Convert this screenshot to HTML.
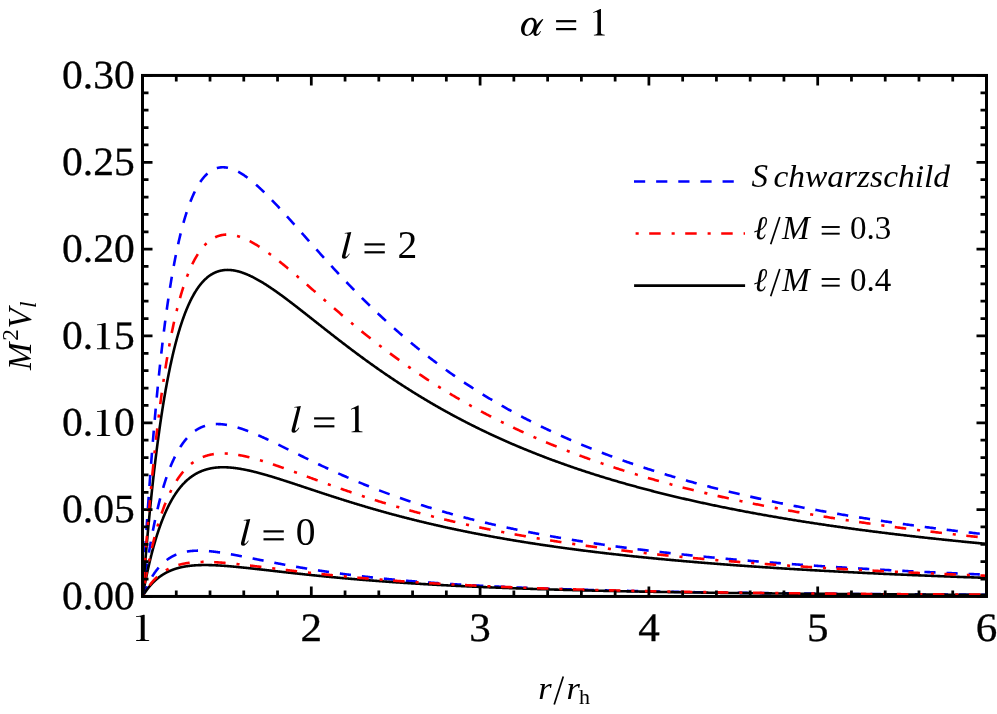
<!DOCTYPE html>
<html><head><meta charset="utf-8"><title>alpha = 1</title>
<style>html,body{margin:0;padding:0;background:#fff;}svg{display:block;}text{font-family:"Liberation Serif",serif;fill:#000;}.t{filter:grayscale(1);}</style></head><body>
<svg width="997" height="714" viewBox="0 0 997 714">
<rect width="997" height="714" fill="#fff"/>
<defs><clipPath id="c"><rect x="142.5" y="75.45" width="844.0" height="521.0"/></clipPath></defs>
<g clip-path="url(#c)" fill="none" stroke-width="2.6" stroke-linejoin="round">
<path d="M142.50,596.45 L142.50,596.45 L142.50,596.45 L142.50,596.45 L142.50,596.44 L142.50,596.44 L142.51,596.44 L142.51,596.43 L142.51,596.42 L142.51,596.42 L142.52,596.41 L142.52,596.40 L142.52,596.39 L142.53,596.38 L142.53,596.36 L142.54,596.35 L142.55,596.33 L142.55,596.32 L142.56,596.30 L142.57,596.28 L142.57,596.26 L142.58,596.24 L142.59,596.22 L142.60,596.19 L142.61,596.17 L142.62,596.14 L142.63,596.11 L142.64,596.08 L142.65,596.05 L142.67,596.02 L142.68,595.99 L142.69,595.95 L142.71,595.92 L142.72,595.88 L142.74,595.84 L142.75,595.80 L142.77,595.76 L142.79,595.72 L142.80,595.68 L142.82,595.63 L142.84,595.59 L142.86,595.54 L142.88,595.49 L142.90,595.44 L142.92,595.39 L142.94,595.33 L142.96,595.28 L142.98,595.22 L143.01,595.16 L143.03,595.10 L143.05,595.04 L143.08,594.98 L143.10,594.92 L143.13,594.85 L143.16,594.79 L143.18,594.72 L143.21,594.65 L143.24,594.58 L143.27,594.51 L143.30,594.44 L143.33,594.36 L143.36,594.29 L143.39,594.21 L143.42,594.13 L143.45,594.05 L143.49,593.97 L143.52,593.89 L143.55,593.81 L143.59,593.72 L143.62,593.63 L143.66,593.55 L143.70,593.46 L143.74,593.36 L143.77,593.27 L143.81,593.18 L143.85,593.08 L143.89,592.99 L143.93,592.89 L143.97,592.79 L144.01,592.69 L144.06,592.59 L144.10,592.49 L144.14,592.38 L144.19,592.28 L144.23,592.17 L144.28,592.06 L144.33,591.95 L144.37,591.84 L144.42,591.73 L144.47,591.62 L144.52,591.50 L144.57,591.39 L144.62,591.27 L144.67,591.15 L144.72,591.03 L144.77,590.91 L144.83,590.79 L144.88,590.66 L144.93,590.54 L144.99,590.41 L145.04,590.29 L145.10,590.16 L145.16,590.03 L145.22,589.90 L145.27,589.77 L145.33,589.63 L145.39,589.50 L145.45,589.36 L145.51,589.23 L145.58,589.09 L145.64,588.95 L145.70,588.81 L145.76,588.67 L145.83,588.53 L145.89,588.39 L145.96,588.24 L146.03,588.10 L146.09,587.95 L146.16,587.81 L146.23,587.66 L146.30,587.51 L146.37,587.36 L146.44,587.21 L146.51,587.06 L146.58,586.90 L146.66,586.75 L146.73,586.60 L146.80,586.44 L146.88,586.28 L146.95,586.13 L147.03,585.97 L147.11,585.81 L147.19,585.65 L147.26,585.49 L147.34,585.32 L147.42,585.16 L147.50,585.00 L147.59,584.83 L147.67,584.67 L147.75,584.50 L147.83,584.34 L147.92,584.17 L148.00,584.00 L148.09,583.83 L148.17,583.66 L148.26,583.49 L148.35,583.32 L148.44,583.15 L148.53,582.98 L148.62,582.80 L148.71,582.63 L148.80,582.46 L148.89,582.28 L148.98,582.11 L149.08,581.93 L149.17,581.75 L149.27,581.58 L149.36,581.40 L149.46,581.22 L149.56,581.04 L149.65,580.86 L149.75,580.68 L149.85,580.50 L149.95,580.32 L150.05,580.14 L150.16,579.96 L150.26,579.78 L150.36,579.60 L150.47,579.41 L150.57,579.23 L150.68,579.05 L150.78,578.86 L150.89,578.68 L151.00,578.49 L151.11,578.31 L151.21,578.12 L151.32,577.94 L151.43,577.75 L151.55,577.57 L151.66,577.38 L151.77,577.20 L151.89,577.01 L152.00,576.82 L152.11,576.64 L152.23,576.45 L152.35,576.26 L152.46,576.07 L152.58,575.89 L152.70,575.70 L152.82,575.51 L152.94,575.32 L153.06,575.14 L153.19,574.95 L153.31,574.76 L153.43,574.57 L153.56,574.39 L153.68,574.20 L153.81,574.01 L153.93,573.82 L154.06,573.64 L154.19,573.45 L154.32,573.26 L154.45,573.07 L154.58,572.89 L154.71,572.70 L154.84,572.51 L154.98,572.32 L155.11,572.14 L155.24,571.95 L155.38,571.77 L155.51,571.58 L155.65,571.39 L155.79,571.21 L155.93,571.02 L156.07,570.84 L156.21,570.65 L156.35,570.47 L156.49,570.28 L156.63,570.10 L156.77,569.92 L156.92,569.73 L157.06,569.55 L157.21,569.37 L157.35,569.19 L157.50,569.00 L157.65,568.82 L157.80,568.64 L157.95,568.46 L158.10,568.28 L158.25,568.10 L158.40,567.92 L158.55,567.74 L158.70,567.57 L158.86,567.39 L159.01,567.21 L159.17,567.03 L159.32,566.86 L159.48,566.68 L159.64,566.51 L159.80,566.33 L159.96,566.16 L160.12,565.99 L160.28,565.81 L160.44,565.64 L160.61,565.47 L160.77,565.30 L160.93,565.13 L161.10,564.96 L161.26,564.79 L161.43,564.62 L161.60,564.45 L161.77,564.29 L161.94,564.12 L162.11,563.96 L162.28,563.79 L162.45,563.63 L162.62,563.47 L162.80,563.30 L162.97,563.14 L163.14,562.98 L163.32,562.82 L163.50,562.66 L163.67,562.50 L163.85,562.35 L164.03,562.19 L164.21,562.03 L164.39,561.88 L164.57,561.72 L164.76,561.57 L164.94,561.42 L165.12,561.27 L165.31,561.12 L165.49,560.97 L165.68,560.82 L165.87,560.67 L166.05,560.52 L166.24,560.38 L166.43,560.23 L166.62,560.09 L166.81,559.94 L167.01,559.80 L167.20,559.66 L167.39,559.52 L167.59,559.38 L167.78,559.24 L167.98,559.10 L168.18,558.97 L168.38,558.83 L168.57,558.70 L168.77,558.56 L168.97,558.43 L169.18,558.30 L169.38,558.17 L169.58,558.04 L169.78,557.91 L169.99,557.78 L170.19,557.66 L170.40,557.53 L170.61,557.41 L170.82,557.28 L171.02,557.16 L171.23,557.04 L171.44,556.92 L171.66,556.80 L171.87,556.68 L172.08,556.57 L172.29,556.45 L172.51,556.34 L172.72,556.22 L172.94,556.11 L173.16,556.00 L173.38,555.89 L173.59,555.78 L173.81,555.67 L174.03,555.57 L174.26,555.46 L174.48,555.36 L174.70,555.25 L174.93,555.15 L175.15,555.05 L175.38,554.95 L175.60,554.85 L175.83,554.76 L176.06,554.66 L176.29,554.56 L176.52,554.47 L176.75,554.38 L176.98,554.28 L177.21,554.19 L177.44,554.10 L177.68,554.02 L177.91,553.93 L178.15,553.84 L178.39,553.76 L178.62,553.67 L178.86,553.59 L179.10,553.51 L179.34,553.43 L179.58,553.35 L179.82,553.27 L180.07,553.20 L180.31,553.12 L180.55,553.05 L180.80,552.97 L181.05,552.90 L181.29,552.83 L181.54,552.76 L181.79,552.69 L182.04,552.63 L182.29,552.56 L182.54,552.49 L182.79,552.43 L183.05,552.37 L183.30,552.31 L183.55,552.25 L183.81,552.19 L184.07,552.13 L184.32,552.07 L184.58,552.02 L184.84,551.96 L185.10,551.91 L185.36,551.86 L185.62,551.81 L185.88,551.76 L186.15,551.71 L186.41,551.66 L186.68,551.61 L186.94,551.57 L187.21,551.52 L187.48,551.48 L187.75,551.44 L188.02,551.40 L188.29,551.36 L188.56,551.32 L188.83,551.28 L189.10,551.25 L189.38,551.21 L189.65,551.18 L189.93,551.14 L190.20,551.11 L190.48,551.08 L190.76,551.05 L191.04,551.02 L191.32,551.00 L191.60,550.97 L191.88,550.94 L192.16,550.92 L192.45,550.90 L192.73,550.88 L193.02,550.85 L193.30,550.83 L193.59,550.82 L193.88,550.80 L194.17,550.78 L194.46,550.77 L194.75,550.75 L195.04,550.74 L195.33,550.73 L195.62,550.72 L195.92,550.70 L196.21,550.70 L196.51,550.69 L196.81,550.68 L197.10,550.67 L197.40,550.67 L197.70,550.67 L198.00,550.66 L198.30,550.66 L198.60,550.66 L198.91,550.66 L199.21,550.66 L199.52,550.66 L199.82,550.66 L200.13,550.67 L200.44,550.67 L200.74,550.68 L201.05,550.69 L201.36,550.69 L201.67,550.70 L201.99,550.71 L202.30,550.72 L202.61,550.73 L202.93,550.75 L203.24,550.76 L203.56,550.78 L203.88,550.79 L204.19,550.81 L204.51,550.82 L204.83,550.84 L205.15,550.86 L205.48,550.88 L205.80,550.90 L206.12,550.92 L206.45,550.95 L206.77,550.97 L207.10,550.99 L207.43,551.02 L207.75,551.04 L208.08,551.07 L208.41,551.10 L208.74,551.13 L209.07,551.16 L209.41,551.19 L209.74,551.22 L210.07,551.25 L210.41,551.28 L210.75,551.31 L211.08,551.35 L211.42,551.38 L211.76,551.42 L212.10,551.46 L212.44,551.49 L212.78,551.53 L213.13,551.57 L213.47,551.61 L213.81,551.65 L214.16,551.69 L214.50,551.73 L214.85,551.78 L215.20,551.82 L215.55,551.86 L215.90,551.91 L216.25,551.95 L216.60,552.00 L216.95,552.05 L217.31,552.09 L217.66,552.14 L218.02,552.19 L218.37,552.24 L218.73,552.29 L219.09,552.34 L219.45,552.39 L219.81,552.45 L220.17,552.50 L220.53,552.55 L220.89,552.61 L221.26,552.66 L221.62,552.72 L221.98,552.77 L222.35,552.83 L222.72,552.89 L223.09,552.94 L223.46,553.00 L223.83,553.06 L224.20,553.12 L224.57,553.18 L224.94,553.24 L225.31,553.30 L225.69,553.37 L226.06,553.43 L226.44,553.49 L226.82,553.56 L227.20,553.62 L227.58,553.68 L227.96,553.75 L228.34,553.82 L228.72,553.88 L229.10,553.95 L229.49,554.02 L229.87,554.08 L230.26,554.15 L230.64,554.22 L231.03,554.29 L231.42,554.36 L231.81,554.43 L232.20,554.50 L232.59,554.57 L232.98,554.64 L233.37,554.72 L233.77,554.79 L234.16,554.86 L234.56,554.93 L234.96,555.01 L235.35,555.08 L235.75,555.16 L236.15,555.23 L236.55,555.31 L236.95,555.38 L237.36,555.46 L237.76,555.54 L238.16,555.61 L238.57,555.69 L238.98,555.77 L239.38,555.85 L239.79,555.92 L240.20,556.00 L240.61,556.08 L241.02,556.16 L241.43,556.24 L241.84,556.32 L242.26,556.40 L242.67,556.48 L243.09,556.57 L243.51,556.65 L243.92,556.73 L244.34,556.81 L244.76,556.89 L245.18,556.98 L245.60,557.06 L246.02,557.14 L246.45,557.23 L246.87,557.31 L247.30,557.39 L247.72,557.48 L248.15,557.56 L248.58,557.65 L249.00,557.73 L249.43,557.82 L249.86,557.91 L250.30,557.99 L250.73,558.08 L251.16,558.16 L251.60,558.25 L252.03,558.34 L252.47,558.42 L252.90,558.51 L253.34,558.60 L253.78,558.69 L254.22,558.78 L254.66,558.86 L255.10,558.95 L255.55,559.04 L255.99,559.13 L256.44,559.22 L256.88,559.31 L257.33,559.40 L257.78,559.49 L258.22,559.58 L258.67,559.67 L259.12,559.76 L259.58,559.85 L260.03,559.94 L260.48,560.03 L260.94,560.12 L261.39,560.21 L261.85,560.30 L262.30,560.39 L262.76,560.48 L263.22,560.57 L263.68,560.66 L264.14,560.75 L264.60,560.85 L265.07,560.94 L265.53,561.03 L266.00,561.12 L266.46,561.21 L266.93,561.30 L267.40,561.40 L267.86,561.49 L268.33,561.58 L268.80,561.67 L269.28,561.77 L269.75,561.86 L270.22,561.95 L270.70,562.04 L271.17,562.14 L271.65,562.23 L272.12,562.32 L272.60,562.41 L273.08,562.51 L273.56,562.60 L274.04,562.69 L274.52,562.79 L275.01,562.88 L275.49,562.97 L275.98,563.06 L276.46,563.16 L276.95,563.25 L277.44,563.34 L277.93,563.44 L278.42,563.53 L278.91,563.62 L279.40,563.72 L279.89,563.81 L280.38,563.90 L280.88,564.00 L281.37,564.09 L281.87,564.18 L282.37,564.27 L282.87,564.37 L283.37,564.46 L283.87,564.55 L284.37,564.65 L284.87,564.74 L285.37,564.83 L285.88,564.93 L286.38,565.02 L286.89,565.11 L287.40,565.20 L287.90,565.30 L288.41,565.39 L288.92,565.48 L289.43,565.57 L289.95,565.67 L290.46,565.76 L290.97,565.85 L291.49,565.94 L292.00,566.04 L292.52,566.13 L293.04,566.22 L293.56,566.31 L294.08,566.41 L294.60,566.50 L295.12,566.59 L295.64,566.68 L296.16,566.77 L296.69,566.86 L297.22,566.96 L297.74,567.05 L298.27,567.14 L298.80,567.23 L299.33,567.32 L299.86,567.41 L300.39,567.50 L300.92,567.60 L301.46,567.69 L301.99,567.78 L302.52,567.87 L303.06,567.96 L303.60,568.05 L304.14,568.14 L304.68,568.23 L305.22,568.32 L305.76,568.41 L306.30,568.50 L306.84,568.59 L307.39,568.68 L307.93,568.77 L308.48,568.86 L309.03,568.95 L309.57,569.04 L310.12,569.12 L310.67,569.21 L311.22,569.30 L311.78,569.39 L312.33,569.48 L312.88,569.57 L313.44,569.66 L313.99,569.74 L314.55,569.83 L315.11,569.92 L315.67,570.01 L316.23,570.10 L316.79,570.18 L317.35,570.27 L317.91,570.36 L318.48,570.44 L319.04,570.53 L319.61,570.62 L320.17,570.70 L320.74,570.79 L321.31,570.88 L321.88,570.96 L322.45,571.05 L323.02,571.13 L323.60,571.22 L324.17,571.30 L324.74,571.39 L325.32,571.48 L325.90,571.56 L326.48,571.64 L327.05,571.73 L327.63,571.81 L328.21,571.90 L328.80,571.98 L329.38,572.07 L329.96,572.15 L330.55,572.23 L331.13,572.32 L331.72,572.40 L332.31,572.48 L332.90,572.57 L333.49,572.65 L334.08,572.73 L334.67,572.81 L335.26,572.90 L335.85,572.98 L336.45,573.06 L337.04,573.14 L337.64,573.22 L338.24,573.30 L338.84,573.38 L339.44,573.47 L340.04,573.55 L340.64,573.63 L341.24,573.71 L341.84,573.79 L342.45,573.87 L343.05,573.95 L343.66,574.03 L344.27,574.11 L344.88,574.19 L345.49,574.26 L346.10,574.34 L346.71,574.42 L347.32,574.50 L347.94,574.58 L348.55,574.66 L349.17,574.73 L349.78,574.81 L350.40,574.89 L351.02,574.97 L351.64,575.04 L352.26,575.12 L352.88,575.20 L353.50,575.27 L354.13,575.35 L354.75,575.43 L355.38,575.50 L356.00,575.58 L356.63,575.65 L357.26,575.73 L357.89,575.80 L358.52,575.88 L359.15,575.95 L359.78,576.03 L360.42,576.10 L361.05,576.18 L361.69,576.25 L362.32,576.33 L362.96,576.40 L363.60,576.47 L364.24,576.55 L364.88,576.62 L365.52,576.69 L366.17,576.76 L366.81,576.84 L367.45,576.91 L368.10,576.98 L368.75,577.05 L369.39,577.12 L370.04,577.19 L370.69,577.27 L371.34,577.34 L372.00,577.41 L372.65,577.48 L373.30,577.55 L373.96,577.62 L374.61,577.69 L375.27,577.76 L375.93,577.83 L376.59,577.90 L377.25,577.97 L377.91,578.03 L378.57,578.10 L379.23,578.17 L379.90,578.24 L380.56,578.31 L381.23,578.38 L381.89,578.44 L382.56,578.51 L383.23,578.58 L383.90,578.65 L384.57,578.71 L385.24,578.78 L385.92,578.85 L386.59,578.91 L387.27,578.98 L387.94,579.04 L388.62,579.11 L389.30,579.17 L389.98,579.24 L390.66,579.31 L391.34,579.37 L392.02,579.43 L392.70,579.50 L393.39,579.56 L394.07,579.63 L394.76,579.69 L395.45,579.75 L396.14,579.82 L396.83,579.88 L397.52,579.94 L398.21,580.01 L398.90,580.07 L399.59,580.13 L400.29,580.19 L400.98,580.26 L401.68,580.32 L402.38,580.38 L403.08,580.44 L403.78,580.50 L404.48,580.56 L405.18,580.62 L405.88,580.68 L406.58,580.75 L407.29,580.81 L407.99,580.87 L408.70,580.93 L409.41,580.98 L410.12,581.04 L410.83,581.10 L411.54,581.16 L412.25,581.22 L412.96,581.28 L413.68,581.34 L414.39,581.40 L415.11,581.45 L415.83,581.51 L416.54,581.57 L417.26,581.63 L417.98,581.69 L418.70,581.74 L419.43,581.80 L420.15,581.86 L420.87,581.91 L421.60,581.97 L422.33,582.02 L423.05,582.08 L423.78,582.14 L424.51,582.19 L425.24,582.25 L425.97,582.30 L426.70,582.36 L427.44,582.41 L428.17,582.47 L428.91,582.52 L429.65,582.58 L430.38,582.63 L431.12,582.68 L431.86,582.74 L432.60,582.79 L433.34,582.84 L434.09,582.90 L434.83,582.95 L435.58,583.00 L436.32,583.05 L437.07,583.11 L437.82,583.16 L438.56,583.21 L439.31,583.26 L440.07,583.31 L440.82,583.37 L441.57,583.42 L442.33,583.47 L443.08,583.52 L443.84,583.57 L444.59,583.62 L445.35,583.67 L446.11,583.72 L446.87,583.77 L447.63,583.82 L448.40,583.87 L449.16,583.92 L449.92,583.97 L450.69,584.02 L451.46,584.07 L452.22,584.12 L452.99,584.16 L453.76,584.21 L454.53,584.26 L455.31,584.31 L456.08,584.36 L456.85,584.40 L457.63,584.45 L458.40,584.50 L459.18,584.55 L459.96,584.59 L460.74,584.64 L461.52,584.69 L462.30,584.73 L463.08,584.78 L463.86,584.82 L464.65,584.87 L465.43,584.92 L466.22,584.96 L467.01,585.01 L467.80,585.05 L468.59,585.10 L469.38,585.14 L470.17,585.19 L470.96,585.23 L471.75,585.28 L472.55,585.32 L473.35,585.36 L474.14,585.41 L474.94,585.45 L475.74,585.50 L476.54,585.54 L477.34,585.58 L478.14,585.63 L478.95,585.67 L479.75,585.71 L480.55,585.75 L481.36,585.80 L482.17,585.84 L482.98,585.88 L483.79,585.92 L484.60,585.96 L485.41,586.01 L486.22,586.05 L487.03,586.09 L487.85,586.13 L488.66,586.17 L489.48,586.21 L490.30,586.25 L491.12,586.29 L491.94,586.33 L492.76,586.37 L493.58,586.41 L494.40,586.45 L495.23,586.49 L496.05,586.53 L496.88,586.57 L497.71,586.61 L498.54,586.65 L499.37,586.69 L500.20,586.73 L501.03,586.77 L501.86,586.81 L502.69,586.84 L503.53,586.88 L504.36,586.92 L505.20,586.96 L506.04,587.00 L506.88,587.03 L507.72,587.07 L508.56,587.11 L509.40,587.15 L510.24,587.18 L511.09,587.22 L511.93,587.26 L512.78,587.29 L513.63,587.33 L514.47,587.37 L515.32,587.40 L516.17,587.44 L517.03,587.48 L517.88,587.51 L518.73,587.55 L519.59,587.58 L520.44,587.62 L521.30,587.65 L522.16,587.69 L523.02,587.72 L523.88,587.76 L524.74,587.79 L525.60,587.83 L526.46,587.86 L527.33,587.90 L528.19,587.93 L529.06,587.96 L529.93,588.00 L530.79,588.03 L531.66,588.07 L532.53,588.10 L533.41,588.13 L534.28,588.17 L535.15,588.20 L536.03,588.23 L536.90,588.26 L537.78,588.30 L538.66,588.33 L539.54,588.36 L540.42,588.39 L541.30,588.43 L542.18,588.46 L543.06,588.49 L543.95,588.52 L544.83,588.55 L545.72,588.59 L546.61,588.62 L547.50,588.65 L548.39,588.68 L549.28,588.71 L550.17,588.74 L551.06,588.77 L551.96,588.80 L552.85,588.83 L553.75,588.86 L554.65,588.89 L555.54,588.92 L556.44,588.95 L557.34,588.98 L558.24,589.01 L559.15,589.04 L560.05,589.07 L560.96,589.10 L561.86,589.13 L562.77,589.16 L563.68,589.19 L564.59,589.22 L565.50,589.25 L566.41,589.28 L567.32,589.31 L568.23,589.33 L569.15,589.36 L570.06,589.39 L570.98,589.42 L571.90,589.45 L572.81,589.48 L573.73,589.50 L574.65,589.53 L575.58,589.56 L576.50,589.59 L577.42,589.61 L578.35,589.64 L579.27,589.67 L580.20,589.70 L581.13,589.72 L582.06,589.75 L582.99,589.78 L583.92,589.80 L584.85,589.83 L585.79,589.86 L586.72,589.88 L587.66,589.91 L588.59,589.93 L589.53,589.96 L590.47,589.99 L591.41,590.01 L592.35,590.04 L593.29,590.06 L594.24,590.09 L595.18,590.11 L596.13,590.14 L597.07,590.16 L598.02,590.19 L598.97,590.21 L599.92,590.24 L600.87,590.26 L601.82,590.29 L602.78,590.31 L603.73,590.34 L604.68,590.36 L605.64,590.39 L606.60,590.41 L607.56,590.43 L608.52,590.46 L609.48,590.48 L610.44,590.51 L611.40,590.53 L612.36,590.55 L613.33,590.58 L614.29,590.60 L615.26,590.62 L616.23,590.65 L617.20,590.67 L618.17,590.69 L619.14,590.71 L620.11,590.74 L621.09,590.76 L622.06,590.78 L623.04,590.81 L624.01,590.83 L624.99,590.85 L625.97,590.87 L626.95,590.89 L627.93,590.92 L628.91,590.94 L629.90,590.96 L630.88,590.98 L631.87,591.00 L632.85,591.03 L633.84,591.05 L634.83,591.07 L635.82,591.09 L636.81,591.11 L637.80,591.13 L638.79,591.15 L639.79,591.17 L640.78,591.20 L641.78,591.22 L642.78,591.24 L643.77,591.26 L644.77,591.28 L645.77,591.30 L646.78,591.32 L647.78,591.34 L648.78,591.36 L649.79,591.38 L650.79,591.40 L651.80,591.42 L652.81,591.44 L653.82,591.46 L654.83,591.48 L655.84,591.50 L656.85,591.52 L657.87,591.54 L658.88,591.56 L659.90,591.58 L660.91,591.60 L661.93,591.62 L662.95,591.63 L663.97,591.65 L664.99,591.67 L666.01,591.69 L667.04,591.71 L668.06,591.73 L669.09,591.75 L670.11,591.77 L671.14,591.78 L672.17,591.80 L673.20,591.82 L674.23,591.84 L675.26,591.86 L676.30,591.88 L677.33,591.89 L678.37,591.91 L679.40,591.93 L680.44,591.95 L681.48,591.97 L682.52,591.98 L683.56,592.00 L684.60,592.02 L685.64,592.04 L686.69,592.05 L687.73,592.07 L688.78,592.09 L689.83,592.10 L690.88,592.12 L691.93,592.14 L692.98,592.16 L694.03,592.17 L695.08,592.19 L696.14,592.21 L697.19,592.22 L698.25,592.24 L699.30,592.26 L700.36,592.27 L701.42,592.29 L702.48,592.30 L703.54,592.32 L704.61,592.34 L705.67,592.35 L706.74,592.37 L707.80,592.39 L708.87,592.40 L709.94,592.42 L711.01,592.43 L712.08,592.45 L713.15,592.46 L714.22,592.48 L715.29,592.50 L716.37,592.51 L717.45,592.53 L718.52,592.54 L719.60,592.56 L720.68,592.57 L721.76,592.59 L722.84,592.60 L723.92,592.62 L725.01,592.63 L726.09,592.65 L727.18,592.66 L728.27,592.68 L729.35,592.69 L730.44,592.71 L731.53,592.72 L732.62,592.74 L733.72,592.75 L734.81,592.76 L735.91,592.78 L737.00,592.79 L738.10,592.81 L739.20,592.82 L740.29,592.84 L741.39,592.85 L742.50,592.86 L743.60,592.88 L744.70,592.89 L745.81,592.91 L746.91,592.92 L748.02,592.93 L749.13,592.95 L750.24,592.96 L751.35,592.97 L752.46,592.99 L753.57,593.00 L754.68,593.01 L755.80,593.03 L756.91,593.04 L758.03,593.05 L759.15,593.07 L760.27,593.08 L761.39,593.09 L762.51,593.11 L763.63,593.12 L764.75,593.13 L765.88,593.14 L767.00,593.16 L768.13,593.17 L769.26,593.18 L770.39,593.20 L771.52,593.21 L772.65,593.22 L773.78,593.23 L774.91,593.25 L776.05,593.26 L777.18,593.27 L778.32,593.28 L779.46,593.29 L780.60,593.31 L781.74,593.32 L782.88,593.33 L784.02,593.34 L785.16,593.35 L786.31,593.37 L787.45,593.38 L788.60,593.39 L789.75,593.40 L790.90,593.41 L792.05,593.43 L793.20,593.44 L794.35,593.45 L795.50,593.46 L796.66,593.47 L797.81,593.48 L798.97,593.49 L800.13,593.51 L801.29,593.52 L802.45,593.53 L803.61,593.54 L804.77,593.55 L805.93,593.56 L807.10,593.57 L808.26,593.58 L809.43,593.60 L810.60,593.61 L811.77,593.62 L812.94,593.63 L814.11,593.64 L815.28,593.65 L816.45,593.66 L817.63,593.67 L818.81,593.68 L819.98,593.69 L821.16,593.70 L822.34,593.71 L823.52,593.72 L824.70,593.73 L825.88,593.74 L827.07,593.75 L828.25,593.76 L829.44,593.77 L830.62,593.79 L831.81,593.80 L833.00,593.81 L834.19,593.82 L835.38,593.83 L836.57,593.84 L837.77,593.85 L838.96,593.86 L840.16,593.87 L841.35,593.88 L842.55,593.88 L843.75,593.89 L844.95,593.90 L846.15,593.91 L847.36,593.92 L848.56,593.93 L849.76,593.94 L850.97,593.95 L852.18,593.96 L853.38,593.97 L854.59,593.98 L855.80,593.99 L857.02,594.00 L858.23,594.01 L859.44,594.02 L860.66,594.03 L861.87,594.04 L863.09,594.05 L864.31,594.05 L865.53,594.06 L866.75,594.07 L867.97,594.08 L869.19,594.09 L870.41,594.10 L871.64,594.11 L872.87,594.12 L874.09,594.13 L875.32,594.13 L876.55,594.14 L877.78,594.15 L879.01,594.16 L880.25,594.17 L881.48,594.18 L882.71,594.19 L883.95,594.19 L885.19,594.20 L886.43,594.21 L887.67,594.22 L888.91,594.23 L890.15,594.24 L891.39,594.25 L892.63,594.25 L893.88,594.26 L895.13,594.27 L896.37,594.28 L897.62,594.29 L898.87,594.29 L900.12,594.30 L901.37,594.31 L902.63,594.32 L903.88,594.33 L905.14,594.33 L906.39,594.34 L907.65,594.35 L908.91,594.36 L910.17,594.37 L911.43,594.37 L912.69,594.38 L913.96,594.39 L915.22,594.40 L916.48,594.40 L917.75,594.41 L919.02,594.42 L920.29,594.43 L921.56,594.43 L922.83,594.44 L924.10,594.45 L925.37,594.46 L926.65,594.46 L927.92,594.47 L929.20,594.48 L930.48,594.49 L931.76,594.49 L933.04,594.50 L934.32,594.51 L935.60,594.52 L936.89,594.52 L938.17,594.53 L939.46,594.54 L940.74,594.54 L942.03,594.55 L943.32,594.56 L944.61,594.57 L945.90,594.57 L947.19,594.58 L948.49,594.59 L949.78,594.59 L951.08,594.60 L952.38,594.61 L953.67,594.61 L954.97,594.62 L956.27,594.63 L957.58,594.63 L958.88,594.64 L960.18,594.65 L961.49,594.65 L962.79,594.66 L964.10,594.67 L965.41,594.67 L966.72,594.68 L968.03,594.69 L969.34,594.69 L970.66,594.70 L971.97,594.71 L973.28,594.71 L974.60,594.72 L975.92,594.73 L977.24,594.73 L978.56,594.74 L979.88,594.74 L981.20,594.75 L982.52,594.76 L983.85,594.76 L985.17,594.77 L986.50,594.77" stroke="#0000ff" stroke-dasharray="11.2 10.94" stroke-dashoffset="0"/>
<path d="M142.50,596.45 L142.50,596.45 L142.50,596.45 L142.50,596.45 L142.50,596.45 L142.50,596.44 L142.51,596.44 L142.51,596.44 L142.51,596.43 L142.51,596.43 L142.52,596.42 L142.52,596.42 L142.52,596.41 L142.53,596.40 L142.53,596.39 L142.54,596.38 L142.55,596.37 L142.55,596.36 L142.56,596.35 L142.57,596.34 L142.57,596.33 L142.58,596.31 L142.59,596.30 L142.60,596.28 L142.61,596.27 L142.62,596.25 L142.63,596.23 L142.64,596.21 L142.65,596.19 L142.67,596.17 L142.68,596.15 L142.69,596.13 L142.71,596.11 L142.72,596.08 L142.74,596.06 L142.75,596.03 L142.77,596.00 L142.79,595.98 L142.80,595.95 L142.82,595.92 L142.84,595.89 L142.86,595.86 L142.88,595.83 L142.90,595.79 L142.92,595.76 L142.94,595.72 L142.96,595.69 L142.98,595.65 L143.01,595.61 L143.03,595.58 L143.05,595.54 L143.08,595.50 L143.10,595.46 L143.13,595.41 L143.16,595.37 L143.18,595.33 L143.21,595.28 L143.24,595.24 L143.27,595.19 L143.30,595.14 L143.33,595.10 L143.36,595.05 L143.39,595.00 L143.42,594.94 L143.45,594.89 L143.49,594.84 L143.52,594.79 L143.55,594.73 L143.59,594.68 L143.62,594.62 L143.66,594.56 L143.70,594.50 L143.74,594.45 L143.77,594.39 L143.81,594.32 L143.85,594.26 L143.89,594.20 L143.93,594.14 L143.97,594.07 L144.01,594.01 L144.06,593.94 L144.10,593.87 L144.14,593.81 L144.19,593.74 L144.23,593.67 L144.28,593.60 L144.33,593.53 L144.37,593.46 L144.42,593.38 L144.47,593.31 L144.52,593.23 L144.57,593.16 L144.62,593.08 L144.67,593.01 L144.72,592.93 L144.77,592.85 L144.83,592.77 L144.88,592.69 L144.93,592.61 L144.99,592.53 L145.04,592.44 L145.10,592.36 L145.16,592.28 L145.22,592.19 L145.27,592.11 L145.33,592.02 L145.39,591.93 L145.45,591.84 L145.51,591.76 L145.58,591.67 L145.64,591.58 L145.70,591.48 L145.76,591.39 L145.83,591.30 L145.89,591.21 L145.96,591.11 L146.03,591.02 L146.09,590.92 L146.16,590.83 L146.23,590.73 L146.30,590.64 L146.37,590.54 L146.44,590.44 L146.51,590.34 L146.58,590.24 L146.66,590.14 L146.73,590.04 L146.80,589.94 L146.88,589.84 L146.95,589.73 L147.03,589.63 L147.11,589.53 L147.19,589.42 L147.26,589.32 L147.34,589.21 L147.42,589.10 L147.50,589.00 L147.59,588.89 L147.67,588.78 L147.75,588.67 L147.83,588.57 L147.92,588.46 L148.00,588.35 L148.09,588.24 L148.17,588.13 L148.26,588.01 L148.35,587.90 L148.44,587.79 L148.53,587.68 L148.62,587.56 L148.71,587.45 L148.80,587.34 L148.89,587.22 L148.98,587.11 L149.08,586.99 L149.17,586.88 L149.27,586.76 L149.36,586.65 L149.46,586.53 L149.56,586.41 L149.65,586.29 L149.75,586.18 L149.85,586.06 L149.95,585.94 L150.05,585.82 L150.16,585.70 L150.26,585.58 L150.36,585.46 L150.47,585.34 L150.57,585.22 L150.68,585.10 L150.78,584.98 L150.89,584.86 L151.00,584.74 L151.11,584.62 L151.21,584.50 L151.32,584.38 L151.43,584.26 L151.55,584.13 L151.66,584.01 L151.77,583.89 L151.89,583.77 L152.00,583.64 L152.11,583.52 L152.23,583.40 L152.35,583.28 L152.46,583.15 L152.58,583.03 L152.70,582.91 L152.82,582.78 L152.94,582.66 L153.06,582.54 L153.19,582.41 L153.31,582.29 L153.43,582.16 L153.56,582.04 L153.68,581.92 L153.81,581.79 L153.93,581.67 L154.06,581.55 L154.19,581.42 L154.32,581.30 L154.45,581.17 L154.58,581.05 L154.71,580.93 L154.84,580.80 L154.98,580.68 L155.11,580.56 L155.24,580.43 L155.38,580.31 L155.51,580.19 L155.65,580.06 L155.79,579.94 L155.93,579.82 L156.07,579.70 L156.21,579.57 L156.35,579.45 L156.49,579.33 L156.63,579.21 L156.77,579.08 L156.92,578.96 L157.06,578.84 L157.21,578.72 L157.35,578.60 L157.50,578.48 L157.65,578.36 L157.80,578.24 L157.95,578.12 L158.10,578.00 L158.25,577.88 L158.40,577.76 L158.55,577.64 L158.70,577.52 L158.86,577.40 L159.01,577.28 L159.17,577.16 L159.32,577.05 L159.48,576.93 L159.64,576.81 L159.80,576.69 L159.96,576.58 L160.12,576.46 L160.28,576.35 L160.44,576.23 L160.61,576.11 L160.77,576.00 L160.93,575.89 L161.10,575.77 L161.26,575.66 L161.43,575.54 L161.60,575.43 L161.77,575.32 L161.94,575.21 L162.11,575.10 L162.28,574.98 L162.45,574.87 L162.62,574.76 L162.80,574.65 L162.97,574.54 L163.14,574.44 L163.32,574.33 L163.50,574.22 L163.67,574.11 L163.85,574.00 L164.03,573.90 L164.21,573.79 L164.39,573.69 L164.57,573.58 L164.76,573.48 L164.94,573.37 L165.12,573.27 L165.31,573.17 L165.49,573.06 L165.68,572.96 L165.87,572.86 L166.05,572.76 L166.24,572.66 L166.43,572.56 L166.62,572.46 L166.81,572.36 L167.01,572.26 L167.20,572.17 L167.39,572.07 L167.59,571.97 L167.78,571.88 L167.98,571.78 L168.18,571.69 L168.38,571.59 L168.57,571.50 L168.77,571.41 L168.97,571.31 L169.18,571.22 L169.38,571.13 L169.58,571.04 L169.78,570.95 L169.99,570.86 L170.19,570.77 L170.40,570.68 L170.61,570.60 L170.82,570.51 L171.02,570.42 L171.23,570.34 L171.44,570.25 L171.66,570.17 L171.87,570.09 L172.08,570.00 L172.29,569.92 L172.51,569.84 L172.72,569.76 L172.94,569.68 L173.16,569.60 L173.38,569.52 L173.59,569.44 L173.81,569.37 L174.03,569.29 L174.26,569.21 L174.48,569.14 L174.70,569.06 L174.93,568.99 L175.15,568.91 L175.38,568.84 L175.60,568.77 L175.83,568.70 L176.06,568.63 L176.29,568.56 L176.52,568.49 L176.75,568.42 L176.98,568.35 L177.21,568.28 L177.44,568.22 L177.68,568.15 L177.91,568.09 L178.15,568.02 L178.39,567.96 L178.62,567.90 L178.86,567.83 L179.10,567.77 L179.34,567.71 L179.58,567.65 L179.82,567.59 L180.07,567.53 L180.31,567.47 L180.55,567.42 L180.80,567.36 L181.05,567.30 L181.29,567.25 L181.54,567.19 L181.79,567.14 L182.04,567.09 L182.29,567.03 L182.54,566.98 L182.79,566.93 L183.05,566.88 L183.30,566.83 L183.55,566.78 L183.81,566.73 L184.07,566.69 L184.32,566.64 L184.58,566.59 L184.84,566.55 L185.10,566.50 L185.36,566.46 L185.62,566.42 L185.88,566.37 L186.15,566.33 L186.41,566.29 L186.68,566.25 L186.94,566.21 L187.21,566.17 L187.48,566.13 L187.75,566.10 L188.02,566.06 L188.29,566.02 L188.56,565.99 L188.83,565.95 L189.10,565.92 L189.38,565.88 L189.65,565.85 L189.93,565.82 L190.20,565.79 L190.48,565.76 L190.76,565.73 L191.04,565.70 L191.32,565.67 L191.60,565.64 L191.88,565.61 L192.16,565.59 L192.45,565.56 L192.73,565.53 L193.02,565.51 L193.30,565.48 L193.59,565.46 L193.88,565.44 L194.17,565.42 L194.46,565.39 L194.75,565.37 L195.04,565.35 L195.33,565.33 L195.62,565.32 L195.92,565.30 L196.21,565.28 L196.51,565.26 L196.81,565.25 L197.10,565.23 L197.40,565.22 L197.70,565.20 L198.00,565.19 L198.30,565.17 L198.60,565.16 L198.91,565.15 L199.21,565.14 L199.52,565.13 L199.82,565.12 L200.13,565.11 L200.44,565.10 L200.74,565.09 L201.05,565.08 L201.36,565.08 L201.67,565.07 L201.99,565.07 L202.30,565.06 L202.61,565.06 L202.93,565.05 L203.24,565.05 L203.56,565.05 L203.88,565.04 L204.19,565.04 L204.51,565.04 L204.83,565.04 L205.15,565.04 L205.48,565.04 L205.80,565.04 L206.12,565.04 L206.45,565.05 L206.77,565.05 L207.10,565.05 L207.43,565.06 L207.75,565.06 L208.08,565.07 L208.41,565.07 L208.74,565.08 L209.07,565.08 L209.41,565.09 L209.74,565.10 L210.07,565.11 L210.41,565.12 L210.75,565.13 L211.08,565.14 L211.42,565.15 L211.76,565.16 L212.10,565.17 L212.44,565.18 L212.78,565.19 L213.13,565.21 L213.47,565.22 L213.81,565.23 L214.16,565.25 L214.50,565.26 L214.85,565.28 L215.20,565.29 L215.55,565.31 L215.90,565.33 L216.25,565.34 L216.60,565.36 L216.95,565.38 L217.31,565.40 L217.66,565.42 L218.02,565.44 L218.37,565.46 L218.73,565.48 L219.09,565.50 L219.45,565.52 L219.81,565.54 L220.17,565.57 L220.53,565.59 L220.89,565.61 L221.26,565.63 L221.62,565.66 L221.98,565.68 L222.35,565.71 L222.72,565.73 L223.09,565.76 L223.46,565.79 L223.83,565.81 L224.20,565.84 L224.57,565.87 L224.94,565.89 L225.31,565.92 L225.69,565.95 L226.06,565.98 L226.44,566.01 L226.82,566.04 L227.20,566.07 L227.58,566.10 L227.96,566.13 L228.34,566.16 L228.72,566.19 L229.10,566.22 L229.49,566.26 L229.87,566.29 L230.26,566.32 L230.64,566.36 L231.03,566.39 L231.42,566.42 L231.81,566.46 L232.20,566.49 L232.59,566.53 L232.98,566.56 L233.37,566.60 L233.77,566.63 L234.16,566.67 L234.56,566.71 L234.96,566.74 L235.35,566.78 L235.75,566.82 L236.15,566.86 L236.55,566.90 L236.95,566.93 L237.36,566.97 L237.76,567.01 L238.16,567.05 L238.57,567.09 L238.98,567.13 L239.38,567.17 L239.79,567.21 L240.20,567.25 L240.61,567.29 L241.02,567.34 L241.43,567.38 L241.84,567.42 L242.26,567.46 L242.67,567.50 L243.09,567.55 L243.51,567.59 L243.92,567.63 L244.34,567.68 L244.76,567.72 L245.18,567.76 L245.60,567.81 L246.02,567.85 L246.45,567.90 L246.87,567.94 L247.30,567.99 L247.72,568.03 L248.15,568.08 L248.58,568.13 L249.00,568.17 L249.43,568.22 L249.86,568.26 L250.30,568.31 L250.73,568.36 L251.16,568.41 L251.60,568.45 L252.03,568.50 L252.47,568.55 L252.90,568.60 L253.34,568.64 L253.78,568.69 L254.22,568.74 L254.66,568.79 L255.10,568.84 L255.55,568.89 L255.99,568.94 L256.44,568.99 L256.88,569.04 L257.33,569.09 L257.78,569.14 L258.22,569.19 L258.67,569.24 L259.12,569.29 L259.58,569.34 L260.03,569.39 L260.48,569.44 L260.94,569.49 L261.39,569.54 L261.85,569.60 L262.30,569.65 L262.76,569.70 L263.22,569.75 L263.68,569.80 L264.14,569.86 L264.60,569.91 L265.07,569.96 L265.53,570.01 L266.00,570.07 L266.46,570.12 L266.93,570.17 L267.40,570.22 L267.86,570.28 L268.33,570.33 L268.80,570.38 L269.28,570.44 L269.75,570.49 L270.22,570.55 L270.70,570.60 L271.17,570.65 L271.65,570.71 L272.12,570.76 L272.60,570.82 L273.08,570.87 L273.56,570.93 L274.04,570.98 L274.52,571.04 L275.01,571.09 L275.49,571.15 L275.98,571.20 L276.46,571.26 L276.95,571.31 L277.44,571.37 L277.93,571.42 L278.42,571.48 L278.91,571.53 L279.40,571.59 L279.89,571.64 L280.38,571.70 L280.88,571.76 L281.37,571.81 L281.87,571.87 L282.37,571.92 L282.87,571.98 L283.37,572.04 L283.87,572.09 L284.37,572.15 L284.87,572.20 L285.37,572.26 L285.88,572.32 L286.38,572.37 L286.89,572.43 L287.40,572.49 L287.90,572.54 L288.41,572.60 L288.92,572.66 L289.43,572.71 L289.95,572.77 L290.46,572.83 L290.97,572.88 L291.49,572.94 L292.00,573.00 L292.52,573.05 L293.04,573.11 L293.56,573.17 L294.08,573.22 L294.60,573.28 L295.12,573.34 L295.64,573.40 L296.16,573.45 L296.69,573.51 L297.22,573.57 L297.74,573.62 L298.27,573.68 L298.80,573.74 L299.33,573.80 L299.86,573.85 L300.39,573.91 L300.92,573.97 L301.46,574.03 L301.99,574.08 L302.52,574.14 L303.06,574.20 L303.60,574.25 L304.14,574.31 L304.68,574.37 L305.22,574.43 L305.76,574.48 L306.30,574.54 L306.84,574.60 L307.39,574.65 L307.93,574.71 L308.48,574.77 L309.03,574.83 L309.57,574.88 L310.12,574.94 L310.67,575.00 L311.22,575.05 L311.78,575.11 L312.33,575.17 L312.88,575.23 L313.44,575.28 L313.99,575.34 L314.55,575.40 L315.11,575.45 L315.67,575.51 L316.23,575.57 L316.79,575.62 L317.35,575.68 L317.91,575.74 L318.48,575.79 L319.04,575.85 L319.61,575.91 L320.17,575.97 L320.74,576.02 L321.31,576.08 L321.88,576.13 L322.45,576.19 L323.02,576.25 L323.60,576.30 L324.17,576.36 L324.74,576.42 L325.32,576.47 L325.90,576.53 L326.48,576.59 L327.05,576.64 L327.63,576.70 L328.21,576.75 L328.80,576.81 L329.38,576.87 L329.96,576.92 L330.55,576.98 L331.13,577.03 L331.72,577.09 L332.31,577.15 L332.90,577.20 L333.49,577.26 L334.08,577.31 L334.67,577.37 L335.26,577.42 L335.85,577.48 L336.45,577.53 L337.04,577.59 L337.64,577.64 L338.24,577.70 L338.84,577.75 L339.44,577.81 L340.04,577.86 L340.64,577.92 L341.24,577.97 L341.84,578.03 L342.45,578.08 L343.05,578.14 L343.66,578.19 L344.27,578.25 L344.88,578.30 L345.49,578.36 L346.10,578.41 L346.71,578.46 L347.32,578.52 L347.94,578.57 L348.55,578.63 L349.17,578.68 L349.78,578.73 L350.40,578.79 L351.02,578.84 L351.64,578.89 L352.26,578.95 L352.88,579.00 L353.50,579.06 L354.13,579.11 L354.75,579.16 L355.38,579.21 L356.00,579.27 L356.63,579.32 L357.26,579.37 L357.89,579.43 L358.52,579.48 L359.15,579.53 L359.78,579.58 L360.42,579.64 L361.05,579.69 L361.69,579.74 L362.32,579.79 L362.96,579.85 L363.60,579.90 L364.24,579.95 L364.88,580.00 L365.52,580.05 L366.17,580.10 L366.81,580.16 L367.45,580.21 L368.10,580.26 L368.75,580.31 L369.39,580.36 L370.04,580.41 L370.69,580.46 L371.34,580.51 L372.00,580.56 L372.65,580.62 L373.30,580.67 L373.96,580.72 L374.61,580.77 L375.27,580.82 L375.93,580.87 L376.59,580.92 L377.25,580.97 L377.91,581.02 L378.57,581.07 L379.23,581.12 L379.90,581.17 L380.56,581.22 L381.23,581.27 L381.89,581.32 L382.56,581.36 L383.23,581.41 L383.90,581.46 L384.57,581.51 L385.24,581.56 L385.92,581.61 L386.59,581.66 L387.27,581.71 L387.94,581.75 L388.62,581.80 L389.30,581.85 L389.98,581.90 L390.66,581.95 L391.34,582.00 L392.02,582.04 L392.70,582.09 L393.39,582.14 L394.07,582.19 L394.76,582.23 L395.45,582.28 L396.14,582.33 L396.83,582.37 L397.52,582.42 L398.21,582.47 L398.90,582.52 L399.59,582.56 L400.29,582.61 L400.98,582.66 L401.68,582.70 L402.38,582.75 L403.08,582.79 L403.78,582.84 L404.48,582.89 L405.18,582.93 L405.88,582.98 L406.58,583.02 L407.29,583.07 L407.99,583.11 L408.70,583.16 L409.41,583.20 L410.12,583.25 L410.83,583.29 L411.54,583.34 L412.25,583.38 L412.96,583.43 L413.68,583.47 L414.39,583.52 L415.11,583.56 L415.83,583.61 L416.54,583.65 L417.26,583.69 L417.98,583.74 L418.70,583.78 L419.43,583.82 L420.15,583.87 L420.87,583.91 L421.60,583.95 L422.33,584.00 L423.05,584.04 L423.78,584.08 L424.51,584.13 L425.24,584.17 L425.97,584.21 L426.70,584.25 L427.44,584.30 L428.17,584.34 L428.91,584.38 L429.65,584.42 L430.38,584.47 L431.12,584.51 L431.86,584.55 L432.60,584.59 L433.34,584.63 L434.09,584.67 L434.83,584.72 L435.58,584.76 L436.32,584.80 L437.07,584.84 L437.82,584.88 L438.56,584.92 L439.31,584.96 L440.07,585.00 L440.82,585.04 L441.57,585.08 L442.33,585.12 L443.08,585.16 L443.84,585.20 L444.59,585.24 L445.35,585.28 L446.11,585.32 L446.87,585.36 L447.63,585.40 L448.40,585.44 L449.16,585.48 L449.92,585.52 L450.69,585.56 L451.46,585.60 L452.22,585.63 L452.99,585.67 L453.76,585.71 L454.53,585.75 L455.31,585.79 L456.08,585.83 L456.85,585.86 L457.63,585.90 L458.40,585.94 L459.18,585.98 L459.96,586.02 L460.74,586.05 L461.52,586.09 L462.30,586.13 L463.08,586.16 L463.86,586.20 L464.65,586.24 L465.43,586.28 L466.22,586.31 L467.01,586.35 L467.80,586.39 L468.59,586.42 L469.38,586.46 L470.17,586.49 L470.96,586.53 L471.75,586.57 L472.55,586.60 L473.35,586.64 L474.14,586.67 L474.94,586.71 L475.74,586.74 L476.54,586.78 L477.34,586.81 L478.14,586.85 L478.95,586.88 L479.75,586.92 L480.55,586.95 L481.36,586.99 L482.17,587.02 L482.98,587.06 L483.79,587.09 L484.60,587.13 L485.41,587.16 L486.22,587.20 L487.03,587.23 L487.85,587.26 L488.66,587.30 L489.48,587.33 L490.30,587.36 L491.12,587.40 L491.94,587.43 L492.76,587.46 L493.58,587.50 L494.40,587.53 L495.23,587.56 L496.05,587.60 L496.88,587.63 L497.71,587.66 L498.54,587.69 L499.37,587.73 L500.20,587.76 L501.03,587.79 L501.86,587.82 L502.69,587.85 L503.53,587.89 L504.36,587.92 L505.20,587.95 L506.04,587.98 L506.88,588.01 L507.72,588.04 L508.56,588.07 L509.40,588.11 L510.24,588.14 L511.09,588.17 L511.93,588.20 L512.78,588.23 L513.63,588.26 L514.47,588.29 L515.32,588.32 L516.17,588.35 L517.03,588.38 L517.88,588.41 L518.73,588.44 L519.59,588.47 L520.44,588.50 L521.30,588.53 L522.16,588.56 L523.02,588.59 L523.88,588.62 L524.74,588.65 L525.60,588.68 L526.46,588.71 L527.33,588.73 L528.19,588.76 L529.06,588.79 L529.93,588.82 L530.79,588.85 L531.66,588.88 L532.53,588.91 L533.41,588.94 L534.28,588.96 L535.15,588.99 L536.03,589.02 L536.90,589.05 L537.78,589.08 L538.66,589.10 L539.54,589.13 L540.42,589.16 L541.30,589.19 L542.18,589.21 L543.06,589.24 L543.95,589.27 L544.83,589.29 L545.72,589.32 L546.61,589.35 L547.50,589.37 L548.39,589.40 L549.28,589.43 L550.17,589.45 L551.06,589.48 L551.96,589.51 L552.85,589.53 L553.75,589.56 L554.65,589.59 L555.54,589.61 L556.44,589.64 L557.34,589.66 L558.24,589.69 L559.15,589.71 L560.05,589.74 L560.96,589.77 L561.86,589.79 L562.77,589.82 L563.68,589.84 L564.59,589.87 L565.50,589.89 L566.41,589.92 L567.32,589.94 L568.23,589.97 L569.15,589.99 L570.06,590.01 L570.98,590.04 L571.90,590.06 L572.81,590.09 L573.73,590.11 L574.65,590.14 L575.58,590.16 L576.50,590.18 L577.42,590.21 L578.35,590.23 L579.27,590.25 L580.20,590.28 L581.13,590.30 L582.06,590.33 L582.99,590.35 L583.92,590.37 L584.85,590.39 L585.79,590.42 L586.72,590.44 L587.66,590.46 L588.59,590.49 L589.53,590.51 L590.47,590.53 L591.41,590.55 L592.35,590.58 L593.29,590.60 L594.24,590.62 L595.18,590.64 L596.13,590.67 L597.07,590.69 L598.02,590.71 L598.97,590.73 L599.92,590.75 L600.87,590.78 L601.82,590.80 L602.78,590.82 L603.73,590.84 L604.68,590.86 L605.64,590.88 L606.60,590.90 L607.56,590.93 L608.52,590.95 L609.48,590.97 L610.44,590.99 L611.40,591.01 L612.36,591.03 L613.33,591.05 L614.29,591.07 L615.26,591.09 L616.23,591.11 L617.20,591.13 L618.17,591.15 L619.14,591.17 L620.11,591.19 L621.09,591.21 L622.06,591.23 L623.04,591.25 L624.01,591.27 L624.99,591.29 L625.97,591.31 L626.95,591.33 L627.93,591.35 L628.91,591.37 L629.90,591.39 L630.88,591.41 L631.87,591.43 L632.85,591.45 L633.84,591.47 L634.83,591.49 L635.82,591.51 L636.81,591.53 L637.80,591.54 L638.79,591.56 L639.79,591.58 L640.78,591.60 L641.78,591.62 L642.78,591.64 L643.77,591.66 L644.77,591.67 L645.77,591.69 L646.78,591.71 L647.78,591.73 L648.78,591.75 L649.79,591.76 L650.79,591.78 L651.80,591.80 L652.81,591.82 L653.82,591.84 L654.83,591.85 L655.84,591.87 L656.85,591.89 L657.87,591.91 L658.88,591.92 L659.90,591.94 L660.91,591.96 L661.93,591.98 L662.95,591.99 L663.97,592.01 L664.99,592.03 L666.01,592.04 L667.04,592.06 L668.06,592.08 L669.09,592.09 L670.11,592.11 L671.14,592.13 L672.17,592.14 L673.20,592.16 L674.23,592.18 L675.26,592.19 L676.30,592.21 L677.33,592.23 L678.37,592.24 L679.40,592.26 L680.44,592.27 L681.48,592.29 L682.52,592.31 L683.56,592.32 L684.60,592.34 L685.64,592.35 L686.69,592.37 L687.73,592.38 L688.78,592.40 L689.83,592.42 L690.88,592.43 L691.93,592.45 L692.98,592.46 L694.03,592.48 L695.08,592.49 L696.14,592.51 L697.19,592.52 L698.25,592.54 L699.30,592.55 L700.36,592.57 L701.42,592.58 L702.48,592.60 L703.54,592.61 L704.61,592.63 L705.67,592.64 L706.74,592.65 L707.80,592.67 L708.87,592.68 L709.94,592.70 L711.01,592.71 L712.08,592.73 L713.15,592.74 L714.22,592.75 L715.29,592.77 L716.37,592.78 L717.45,592.80 L718.52,592.81 L719.60,592.82 L720.68,592.84 L721.76,592.85 L722.84,592.87 L723.92,592.88 L725.01,592.89 L726.09,592.91 L727.18,592.92 L728.27,592.93 L729.35,592.95 L730.44,592.96 L731.53,592.97 L732.62,592.99 L733.72,593.00 L734.81,593.01 L735.91,593.03 L737.00,593.04 L738.10,593.05 L739.20,593.07 L740.29,593.08 L741.39,593.09 L742.50,593.10 L743.60,593.12 L744.70,593.13 L745.81,593.14 L746.91,593.15 L748.02,593.17 L749.13,593.18 L750.24,593.19 L751.35,593.20 L752.46,593.22 L753.57,593.23 L754.68,593.24 L755.80,593.25 L756.91,593.27 L758.03,593.28 L759.15,593.29 L760.27,593.30 L761.39,593.31 L762.51,593.33 L763.63,593.34 L764.75,593.35 L765.88,593.36 L767.00,593.37 L768.13,593.38 L769.26,593.40 L770.39,593.41 L771.52,593.42 L772.65,593.43 L773.78,593.44 L774.91,593.45 L776.05,593.46 L777.18,593.48 L778.32,593.49 L779.46,593.50 L780.60,593.51 L781.74,593.52 L782.88,593.53 L784.02,593.54 L785.16,593.55 L786.31,593.56 L787.45,593.58 L788.60,593.59 L789.75,593.60 L790.90,593.61 L792.05,593.62 L793.20,593.63 L794.35,593.64 L795.50,593.65 L796.66,593.66 L797.81,593.67 L798.97,593.68 L800.13,593.69 L801.29,593.70 L802.45,593.71 L803.61,593.72 L804.77,593.73 L805.93,593.74 L807.10,593.75 L808.26,593.76 L809.43,593.77 L810.60,593.78 L811.77,593.79 L812.94,593.80 L814.11,593.81 L815.28,593.82 L816.45,593.83 L817.63,593.84 L818.81,593.85 L819.98,593.86 L821.16,593.87 L822.34,593.88 L823.52,593.89 L824.70,593.90 L825.88,593.91 L827.07,593.92 L828.25,593.93 L829.44,593.94 L830.62,593.95 L831.81,593.96 L833.00,593.97 L834.19,593.98 L835.38,593.99 L836.57,594.00 L837.77,594.01 L838.96,594.01 L840.16,594.02 L841.35,594.03 L842.55,594.04 L843.75,594.05 L844.95,594.06 L846.15,594.07 L847.36,594.08 L848.56,594.09 L849.76,594.10 L850.97,594.10 L852.18,594.11 L853.38,594.12 L854.59,594.13 L855.80,594.14 L857.02,594.15 L858.23,594.16 L859.44,594.16 L860.66,594.17 L861.87,594.18 L863.09,594.19 L864.31,594.20 L865.53,594.21 L866.75,594.22 L867.97,594.22 L869.19,594.23 L870.41,594.24 L871.64,594.25 L872.87,594.26 L874.09,594.26 L875.32,594.27 L876.55,594.28 L877.78,594.29 L879.01,594.30 L880.25,594.31 L881.48,594.31 L882.71,594.32 L883.95,594.33 L885.19,594.34 L886.43,594.34 L887.67,594.35 L888.91,594.36 L890.15,594.37 L891.39,594.38 L892.63,594.38 L893.88,594.39 L895.13,594.40 L896.37,594.41 L897.62,594.41 L898.87,594.42 L900.12,594.43 L901.37,594.44 L902.63,594.44 L903.88,594.45 L905.14,594.46 L906.39,594.47 L907.65,594.47 L908.91,594.48 L910.17,594.49 L911.43,594.49 L912.69,594.50 L913.96,594.51 L915.22,594.52 L916.48,594.52 L917.75,594.53 L919.02,594.54 L920.29,594.54 L921.56,594.55 L922.83,594.56 L924.10,594.57 L925.37,594.57 L926.65,594.58 L927.92,594.59 L929.20,594.59 L930.48,594.60 L931.76,594.61 L933.04,594.61 L934.32,594.62 L935.60,594.63 L936.89,594.63 L938.17,594.64 L939.46,594.65 L940.74,594.65 L942.03,594.66 L943.32,594.67 L944.61,594.67 L945.90,594.68 L947.19,594.69 L948.49,594.69 L949.78,594.70 L951.08,594.71 L952.38,594.71 L953.67,594.72 L954.97,594.72 L956.27,594.73 L957.58,594.74 L958.88,594.74 L960.18,594.75 L961.49,594.76 L962.79,594.76 L964.10,594.77 L965.41,594.77 L966.72,594.78 L968.03,594.79 L969.34,594.79 L970.66,594.80 L971.97,594.80 L973.28,594.81 L974.60,594.82 L975.92,594.82 L977.24,594.83 L978.56,594.83 L979.88,594.84 L981.20,594.85 L982.52,594.85 L983.85,594.86 L985.17,594.86 L986.50,594.87" stroke="#000000"/>
<path d="M142.50,596.45 L142.50,596.45 L142.50,596.45 L142.50,596.45 L142.50,596.45 L142.50,596.44 L142.51,596.44 L142.51,596.44 L142.51,596.43 L142.51,596.43 L142.52,596.42 L142.52,596.41 L142.52,596.41 L142.53,596.40 L142.53,596.39 L142.54,596.38 L142.55,596.37 L142.55,596.35 L142.56,596.34 L142.57,596.33 L142.57,596.31 L142.58,596.30 L142.59,596.28 L142.60,596.26 L142.61,596.25 L142.62,596.23 L142.63,596.21 L142.64,596.19 L142.65,596.16 L142.67,596.14 L142.68,596.12 L142.69,596.09 L142.71,596.07 L142.72,596.04 L142.74,596.01 L142.75,595.98 L142.77,595.95 L142.79,595.92 L142.80,595.89 L142.82,595.86 L142.84,595.82 L142.86,595.79 L142.88,595.75 L142.90,595.72 L142.92,595.68 L142.94,595.64 L142.96,595.60 L142.98,595.56 L143.01,595.52 L143.03,595.48 L143.05,595.43 L143.08,595.39 L143.10,595.34 L143.13,595.30 L143.16,595.25 L143.18,595.20 L143.21,595.15 L143.24,595.10 L143.27,595.05 L143.30,595.00 L143.33,594.94 L143.36,594.89 L143.39,594.83 L143.42,594.77 L143.45,594.72 L143.49,594.66 L143.52,594.60 L143.55,594.54 L143.59,594.48 L143.62,594.41 L143.66,594.35 L143.70,594.28 L143.74,594.22 L143.77,594.15 L143.81,594.08 L143.85,594.02 L143.89,593.95 L143.93,593.88 L143.97,593.80 L144.01,593.73 L144.06,593.66 L144.10,593.58 L144.14,593.51 L144.19,593.43 L144.23,593.35 L144.28,593.28 L144.33,593.20 L144.37,593.12 L144.42,593.04 L144.47,592.95 L144.52,592.87 L144.57,592.79 L144.62,592.70 L144.67,592.62 L144.72,592.53 L144.77,592.44 L144.83,592.35 L144.88,592.26 L144.93,592.17 L144.99,592.08 L145.04,591.99 L145.10,591.90 L145.16,591.81 L145.22,591.71 L145.27,591.62 L145.33,591.52 L145.39,591.42 L145.45,591.33 L145.51,591.23 L145.58,591.13 L145.64,591.03 L145.70,590.93 L145.76,590.82 L145.83,590.72 L145.89,590.62 L145.96,590.51 L146.03,590.41 L146.09,590.30 L146.16,590.20 L146.23,590.09 L146.30,589.98 L146.37,589.87 L146.44,589.76 L146.51,589.65 L146.58,589.54 L146.66,589.43 L146.73,589.32 L146.80,589.21 L146.88,589.09 L146.95,588.98 L147.03,588.86 L147.11,588.75 L147.19,588.63 L147.26,588.52 L147.34,588.40 L147.42,588.28 L147.50,588.16 L147.59,588.04 L147.67,587.92 L147.75,587.80 L147.83,587.68 L147.92,587.56 L148.00,587.44 L148.09,587.32 L148.17,587.20 L148.26,587.07 L148.35,586.95 L148.44,586.82 L148.53,586.70 L148.62,586.57 L148.71,586.45 L148.80,586.32 L148.89,586.19 L148.98,586.07 L149.08,585.94 L149.17,585.81 L149.27,585.68 L149.36,585.55 L149.46,585.42 L149.56,585.29 L149.65,585.16 L149.75,585.03 L149.85,584.90 L149.95,584.77 L150.05,584.64 L150.16,584.51 L150.26,584.38 L150.36,584.24 L150.47,584.11 L150.57,583.98 L150.68,583.84 L150.78,583.71 L150.89,583.58 L151.00,583.44 L151.11,583.31 L151.21,583.17 L151.32,583.04 L151.43,582.91 L151.55,582.77 L151.66,582.63 L151.77,582.50 L151.89,582.36 L152.00,582.23 L152.11,582.09 L152.23,581.96 L152.35,581.82 L152.46,581.68 L152.58,581.55 L152.70,581.41 L152.82,581.27 L152.94,581.14 L153.06,581.00 L153.19,580.86 L153.31,580.73 L153.43,580.59 L153.56,580.45 L153.68,580.32 L153.81,580.18 L153.93,580.04 L154.06,579.91 L154.19,579.77 L154.32,579.63 L154.45,579.50 L154.58,579.36 L154.71,579.22 L154.84,579.09 L154.98,578.95 L155.11,578.81 L155.24,578.68 L155.38,578.54 L155.51,578.40 L155.65,578.27 L155.79,578.13 L155.93,578.00 L156.07,577.86 L156.21,577.73 L156.35,577.59 L156.49,577.46 L156.63,577.32 L156.77,577.19 L156.92,577.05 L157.06,576.92 L157.21,576.78 L157.35,576.65 L157.50,576.52 L157.65,576.38 L157.80,576.25 L157.95,576.12 L158.10,575.99 L158.25,575.86 L158.40,575.72 L158.55,575.59 L158.70,575.46 L158.86,575.33 L159.01,575.20 L159.17,575.07 L159.32,574.94 L159.48,574.81 L159.64,574.68 L159.80,574.55 L159.96,574.42 L160.12,574.30 L160.28,574.17 L160.44,574.04 L160.61,573.92 L160.77,573.79 L160.93,573.66 L161.10,573.54 L161.26,573.41 L161.43,573.29 L161.60,573.16 L161.77,573.04 L161.94,572.92 L162.11,572.79 L162.28,572.67 L162.45,572.55 L162.62,572.43 L162.80,572.31 L162.97,572.19 L163.14,572.07 L163.32,571.95 L163.50,571.83 L163.67,571.71 L163.85,571.60 L164.03,571.48 L164.21,571.36 L164.39,571.25 L164.57,571.13 L164.76,571.02 L164.94,570.90 L165.12,570.79 L165.31,570.68 L165.49,570.56 L165.68,570.45 L165.87,570.34 L166.05,570.23 L166.24,570.12 L166.43,570.01 L166.62,569.90 L166.81,569.79 L167.01,569.69 L167.20,569.58 L167.39,569.47 L167.59,569.37 L167.78,569.26 L167.98,569.16 L168.18,569.06 L168.38,568.95 L168.57,568.85 L168.77,568.75 L168.97,568.65 L169.18,568.55 L169.38,568.45 L169.58,568.35 L169.78,568.25 L169.99,568.15 L170.19,568.06 L170.40,567.96 L170.61,567.87 L170.82,567.77 L171.02,567.68 L171.23,567.58 L171.44,567.49 L171.66,567.40 L171.87,567.31 L172.08,567.22 L172.29,567.13 L172.51,567.04 L172.72,566.95 L172.94,566.87 L173.16,566.78 L173.38,566.69 L173.59,566.61 L173.81,566.52 L174.03,566.44 L174.26,566.36 L174.48,566.28 L174.70,566.19 L174.93,566.11 L175.15,566.03 L175.38,565.95 L175.60,565.88 L175.83,565.80 L176.06,565.72 L176.29,565.65 L176.52,565.57 L176.75,565.50 L176.98,565.42 L177.21,565.35 L177.44,565.28 L177.68,565.21 L177.91,565.14 L178.15,565.07 L178.39,565.00 L178.62,564.93 L178.86,564.86 L179.10,564.80 L179.34,564.73 L179.58,564.66 L179.82,564.60 L180.07,564.54 L180.31,564.47 L180.55,564.41 L180.80,564.35 L181.05,564.29 L181.29,564.23 L181.54,564.17 L181.79,564.11 L182.04,564.06 L182.29,564.00 L182.54,563.94 L182.79,563.89 L183.05,563.84 L183.30,563.78 L183.55,563.73 L183.81,563.68 L184.07,563.63 L184.32,563.58 L184.58,563.53 L184.84,563.48 L185.10,563.43 L185.36,563.38 L185.62,563.34 L185.88,563.29 L186.15,563.25 L186.41,563.20 L186.68,563.16 L186.94,563.12 L187.21,563.08 L187.48,563.04 L187.75,563.00 L188.02,562.96 L188.29,562.92 L188.56,562.88 L188.83,562.84 L189.10,562.81 L189.38,562.77 L189.65,562.74 L189.93,562.70 L190.20,562.67 L190.48,562.64 L190.76,562.60 L191.04,562.57 L191.32,562.54 L191.60,562.51 L191.88,562.48 L192.16,562.46 L192.45,562.43 L192.73,562.40 L193.02,562.38 L193.30,562.35 L193.59,562.33 L193.88,562.30 L194.17,562.28 L194.46,562.26 L194.75,562.24 L195.04,562.22 L195.33,562.20 L195.62,562.18 L195.92,562.16 L196.21,562.14 L196.51,562.12 L196.81,562.11 L197.10,562.09 L197.40,562.07 L197.70,562.06 L198.00,562.05 L198.30,562.03 L198.60,562.02 L198.91,562.01 L199.21,562.00 L199.52,561.99 L199.82,561.98 L200.13,561.97 L200.44,561.96 L200.74,561.95 L201.05,561.95 L201.36,561.94 L201.67,561.93 L201.99,561.93 L202.30,561.92 L202.61,561.92 L202.93,561.92 L203.24,561.92 L203.56,561.91 L203.88,561.91 L204.19,561.91 L204.51,561.91 L204.83,561.91 L205.15,561.91 L205.48,561.92 L205.80,561.92 L206.12,561.92 L206.45,561.93 L206.77,561.93 L207.10,561.94 L207.43,561.94 L207.75,561.95 L208.08,561.95 L208.41,561.96 L208.74,561.97 L209.07,561.98 L209.41,561.99 L209.74,562.00 L210.07,562.01 L210.41,562.02 L210.75,562.03 L211.08,562.04 L211.42,562.05 L211.76,562.07 L212.10,562.08 L212.44,562.09 L212.78,562.11 L213.13,562.12 L213.47,562.14 L213.81,562.16 L214.16,562.17 L214.50,562.19 L214.85,562.21 L215.20,562.23 L215.55,562.25 L215.90,562.27 L216.25,562.29 L216.60,562.31 L216.95,562.33 L217.31,562.35 L217.66,562.37 L218.02,562.39 L218.37,562.42 L218.73,562.44 L219.09,562.46 L219.45,562.49 L219.81,562.51 L220.17,562.54 L220.53,562.56 L220.89,562.59 L221.26,562.62 L221.62,562.64 L221.98,562.67 L222.35,562.70 L222.72,562.73 L223.09,562.76 L223.46,562.79 L223.83,562.82 L224.20,562.85 L224.57,562.88 L224.94,562.91 L225.31,562.94 L225.69,562.97 L226.06,563.01 L226.44,563.04 L226.82,563.07 L227.20,563.11 L227.58,563.14 L227.96,563.17 L228.34,563.21 L228.72,563.24 L229.10,563.28 L229.49,563.32 L229.87,563.35 L230.26,563.39 L230.64,563.43 L231.03,563.46 L231.42,563.50 L231.81,563.54 L232.20,563.58 L232.59,563.62 L232.98,563.66 L233.37,563.70 L233.77,563.74 L234.16,563.78 L234.56,563.82 L234.96,563.86 L235.35,563.90 L235.75,563.94 L236.15,563.98 L236.55,564.03 L236.95,564.07 L237.36,564.11 L237.76,564.16 L238.16,564.20 L238.57,564.24 L238.98,564.29 L239.38,564.33 L239.79,564.38 L240.20,564.42 L240.61,564.47 L241.02,564.51 L241.43,564.56 L241.84,564.61 L242.26,564.65 L242.67,564.70 L243.09,564.75 L243.51,564.80 L243.92,564.84 L244.34,564.89 L244.76,564.94 L245.18,564.99 L245.60,565.04 L246.02,565.09 L246.45,565.13 L246.87,565.18 L247.30,565.23 L247.72,565.28 L248.15,565.33 L248.58,565.38 L249.00,565.44 L249.43,565.49 L249.86,565.54 L250.30,565.59 L250.73,565.64 L251.16,565.69 L251.60,565.75 L252.03,565.80 L252.47,565.85 L252.90,565.90 L253.34,565.96 L253.78,566.01 L254.22,566.06 L254.66,566.12 L255.10,566.17 L255.55,566.22 L255.99,566.28 L256.44,566.33 L256.88,566.39 L257.33,566.44 L257.78,566.50 L258.22,566.55 L258.67,566.61 L259.12,566.66 L259.58,566.72 L260.03,566.77 L260.48,566.83 L260.94,566.88 L261.39,566.94 L261.85,567.00 L262.30,567.05 L262.76,567.11 L263.22,567.17 L263.68,567.22 L264.14,567.28 L264.60,567.34 L265.07,567.40 L265.53,567.45 L266.00,567.51 L266.46,567.57 L266.93,567.63 L267.40,567.68 L267.86,567.74 L268.33,567.80 L268.80,567.86 L269.28,567.92 L269.75,567.98 L270.22,568.04 L270.70,568.09 L271.17,568.15 L271.65,568.21 L272.12,568.27 L272.60,568.33 L273.08,568.39 L273.56,568.45 L274.04,568.51 L274.52,568.57 L275.01,568.63 L275.49,568.69 L275.98,568.75 L276.46,568.81 L276.95,568.87 L277.44,568.93 L277.93,568.99 L278.42,569.05 L278.91,569.11 L279.40,569.17 L279.89,569.23 L280.38,569.29 L280.88,569.35 L281.37,569.41 L281.87,569.48 L282.37,569.54 L282.87,569.60 L283.37,569.66 L283.87,569.72 L284.37,569.78 L284.87,569.84 L285.37,569.90 L285.88,569.96 L286.38,570.03 L286.89,570.09 L287.40,570.15 L287.90,570.21 L288.41,570.27 L288.92,570.33 L289.43,570.40 L289.95,570.46 L290.46,570.52 L290.97,570.58 L291.49,570.64 L292.00,570.70 L292.52,570.77 L293.04,570.83 L293.56,570.89 L294.08,570.95 L294.60,571.01 L295.12,571.08 L295.64,571.14 L296.16,571.20 L296.69,571.26 L297.22,571.32 L297.74,571.39 L298.27,571.45 L298.80,571.51 L299.33,571.57 L299.86,571.63 L300.39,571.70 L300.92,571.76 L301.46,571.82 L301.99,571.88 L302.52,571.94 L303.06,572.01 L303.60,572.07 L304.14,572.13 L304.68,572.19 L305.22,572.26 L305.76,572.32 L306.30,572.38 L306.84,572.44 L307.39,572.50 L307.93,572.57 L308.48,572.63 L309.03,572.69 L309.57,572.75 L310.12,572.81 L310.67,572.88 L311.22,572.94 L311.78,573.00 L312.33,573.06 L312.88,573.12 L313.44,573.18 L313.99,573.25 L314.55,573.31 L315.11,573.37 L315.67,573.43 L316.23,573.49 L316.79,573.56 L317.35,573.62 L317.91,573.68 L318.48,573.74 L319.04,573.80 L319.61,573.86 L320.17,573.92 L320.74,573.99 L321.31,574.05 L321.88,574.11 L322.45,574.17 L323.02,574.23 L323.60,574.29 L324.17,574.35 L324.74,574.41 L325.32,574.48 L325.90,574.54 L326.48,574.60 L327.05,574.66 L327.63,574.72 L328.21,574.78 L328.80,574.84 L329.38,574.90 L329.96,574.96 L330.55,575.02 L331.13,575.08 L331.72,575.14 L332.31,575.20 L332.90,575.26 L333.49,575.32 L334.08,575.38 L334.67,575.44 L335.26,575.50 L335.85,575.56 L336.45,575.62 L337.04,575.68 L337.64,575.74 L338.24,575.80 L338.84,575.86 L339.44,575.92 L340.04,575.98 L340.64,576.04 L341.24,576.10 L341.84,576.16 L342.45,576.22 L343.05,576.28 L343.66,576.34 L344.27,576.40 L344.88,576.46 L345.49,576.52 L346.10,576.57 L346.71,576.63 L347.32,576.69 L347.94,576.75 L348.55,576.81 L349.17,576.87 L349.78,576.93 L350.40,576.98 L351.02,577.04 L351.64,577.10 L352.26,577.16 L352.88,577.22 L353.50,577.27 L354.13,577.33 L354.75,577.39 L355.38,577.45 L356.00,577.50 L356.63,577.56 L357.26,577.62 L357.89,577.68 L358.52,577.73 L359.15,577.79 L359.78,577.85 L360.42,577.90 L361.05,577.96 L361.69,578.02 L362.32,578.07 L362.96,578.13 L363.60,578.19 L364.24,578.24 L364.88,578.30 L365.52,578.36 L366.17,578.41 L366.81,578.47 L367.45,578.52 L368.10,578.58 L368.75,578.63 L369.39,578.69 L370.04,578.75 L370.69,578.80 L371.34,578.86 L372.00,578.91 L372.65,578.97 L373.30,579.02 L373.96,579.08 L374.61,579.13 L375.27,579.19 L375.93,579.24 L376.59,579.29 L377.25,579.35 L377.91,579.40 L378.57,579.46 L379.23,579.51 L379.90,579.56 L380.56,579.62 L381.23,579.67 L381.89,579.73 L382.56,579.78 L383.23,579.83 L383.90,579.89 L384.57,579.94 L385.24,579.99 L385.92,580.04 L386.59,580.10 L387.27,580.15 L387.94,580.20 L388.62,580.26 L389.30,580.31 L389.98,580.36 L390.66,580.41 L391.34,580.46 L392.02,580.52 L392.70,580.57 L393.39,580.62 L394.07,580.67 L394.76,580.72 L395.45,580.77 L396.14,580.83 L396.83,580.88 L397.52,580.93 L398.21,580.98 L398.90,581.03 L399.59,581.08 L400.29,581.13 L400.98,581.18 L401.68,581.23 L402.38,581.28 L403.08,581.33 L403.78,581.38 L404.48,581.43 L405.18,581.48 L405.88,581.53 L406.58,581.58 L407.29,581.63 L407.99,581.68 L408.70,581.73 L409.41,581.78 L410.12,581.83 L410.83,581.88 L411.54,581.93 L412.25,581.97 L412.96,582.02 L413.68,582.07 L414.39,582.12 L415.11,582.17 L415.83,582.22 L416.54,582.26 L417.26,582.31 L417.98,582.36 L418.70,582.41 L419.43,582.45 L420.15,582.50 L420.87,582.55 L421.60,582.60 L422.33,582.64 L423.05,582.69 L423.78,582.74 L424.51,582.78 L425.24,582.83 L425.97,582.88 L426.70,582.92 L427.44,582.97 L428.17,583.02 L428.91,583.06 L429.65,583.11 L430.38,583.15 L431.12,583.20 L431.86,583.24 L432.60,583.29 L433.34,583.34 L434.09,583.38 L434.83,583.43 L435.58,583.47 L436.32,583.52 L437.07,583.56 L437.82,583.60 L438.56,583.65 L439.31,583.69 L440.07,583.74 L440.82,583.78 L441.57,583.83 L442.33,583.87 L443.08,583.91 L443.84,583.96 L444.59,584.00 L445.35,584.04 L446.11,584.09 L446.87,584.13 L447.63,584.17 L448.40,584.22 L449.16,584.26 L449.92,584.30 L450.69,584.34 L451.46,584.39 L452.22,584.43 L452.99,584.47 L453.76,584.51 L454.53,584.56 L455.31,584.60 L456.08,584.64 L456.85,584.68 L457.63,584.72 L458.40,584.76 L459.18,584.81 L459.96,584.85 L460.74,584.89 L461.52,584.93 L462.30,584.97 L463.08,585.01 L463.86,585.05 L464.65,585.09 L465.43,585.13 L466.22,585.17 L467.01,585.21 L467.80,585.25 L468.59,585.29 L469.38,585.33 L470.17,585.37 L470.96,585.41 L471.75,585.45 L472.55,585.49 L473.35,585.53 L474.14,585.57 L474.94,585.61 L475.74,585.65 L476.54,585.68 L477.34,585.72 L478.14,585.76 L478.95,585.80 L479.75,585.84 L480.55,585.88 L481.36,585.91 L482.17,585.95 L482.98,585.99 L483.79,586.03 L484.60,586.06 L485.41,586.10 L486.22,586.14 L487.03,586.18 L487.85,586.21 L488.66,586.25 L489.48,586.29 L490.30,586.32 L491.12,586.36 L491.94,586.40 L492.76,586.43 L493.58,586.47 L494.40,586.51 L495.23,586.54 L496.05,586.58 L496.88,586.61 L497.71,586.65 L498.54,586.69 L499.37,586.72 L500.20,586.76 L501.03,586.79 L501.86,586.83 L502.69,586.86 L503.53,586.90 L504.36,586.93 L505.20,586.97 L506.04,587.00 L506.88,587.04 L507.72,587.07 L508.56,587.11 L509.40,587.14 L510.24,587.17 L511.09,587.21 L511.93,587.24 L512.78,587.28 L513.63,587.31 L514.47,587.34 L515.32,587.38 L516.17,587.41 L517.03,587.44 L517.88,587.48 L518.73,587.51 L519.59,587.54 L520.44,587.57 L521.30,587.61 L522.16,587.64 L523.02,587.67 L523.88,587.70 L524.74,587.74 L525.60,587.77 L526.46,587.80 L527.33,587.83 L528.19,587.86 L529.06,587.90 L529.93,587.93 L530.79,587.96 L531.66,587.99 L532.53,588.02 L533.41,588.05 L534.28,588.08 L535.15,588.12 L536.03,588.15 L536.90,588.18 L537.78,588.21 L538.66,588.24 L539.54,588.27 L540.42,588.30 L541.30,588.33 L542.18,588.36 L543.06,588.39 L543.95,588.42 L544.83,588.45 L545.72,588.48 L546.61,588.51 L547.50,588.54 L548.39,588.57 L549.28,588.60 L550.17,588.63 L551.06,588.66 L551.96,588.69 L552.85,588.71 L553.75,588.74 L554.65,588.77 L555.54,588.80 L556.44,588.83 L557.34,588.86 L558.24,588.89 L559.15,588.91 L560.05,588.94 L560.96,588.97 L561.86,589.00 L562.77,589.03 L563.68,589.05 L564.59,589.08 L565.50,589.11 L566.41,589.14 L567.32,589.17 L568.23,589.19 L569.15,589.22 L570.06,589.25 L570.98,589.27 L571.90,589.30 L572.81,589.33 L573.73,589.35 L574.65,589.38 L575.58,589.41 L576.50,589.43 L577.42,589.46 L578.35,589.49 L579.27,589.51 L580.20,589.54 L581.13,589.56 L582.06,589.59 L582.99,589.62 L583.92,589.64 L584.85,589.67 L585.79,589.69 L586.72,589.72 L587.66,589.74 L588.59,589.77 L589.53,589.79 L590.47,589.82 L591.41,589.85 L592.35,589.87 L593.29,589.89 L594.24,589.92 L595.18,589.94 L596.13,589.97 L597.07,589.99 L598.02,590.02 L598.97,590.04 L599.92,590.07 L600.87,590.09 L601.82,590.11 L602.78,590.14 L603.73,590.16 L604.68,590.19 L605.64,590.21 L606.60,590.23 L607.56,590.26 L608.52,590.28 L609.48,590.30 L610.44,590.33 L611.40,590.35 L612.36,590.37 L613.33,590.40 L614.29,590.42 L615.26,590.44 L616.23,590.46 L617.20,590.49 L618.17,590.51 L619.14,590.53 L620.11,590.55 L621.09,590.58 L622.06,590.60 L623.04,590.62 L624.01,590.64 L624.99,590.67 L625.97,590.69 L626.95,590.71 L627.93,590.73 L628.91,590.75 L629.90,590.77 L630.88,590.80 L631.87,590.82 L632.85,590.84 L633.84,590.86 L634.83,590.88 L635.82,590.90 L636.81,590.92 L637.80,590.94 L638.79,590.97 L639.79,590.99 L640.78,591.01 L641.78,591.03 L642.78,591.05 L643.77,591.07 L644.77,591.09 L645.77,591.11 L646.78,591.13 L647.78,591.15 L648.78,591.17 L649.79,591.19 L650.79,591.21 L651.80,591.23 L652.81,591.25 L653.82,591.27 L654.83,591.29 L655.84,591.31 L656.85,591.33 L657.87,591.35 L658.88,591.37 L659.90,591.39 L660.91,591.41 L661.93,591.42 L662.95,591.44 L663.97,591.46 L664.99,591.48 L666.01,591.50 L667.04,591.52 L668.06,591.54 L669.09,591.56 L670.11,591.58 L671.14,591.59 L672.17,591.61 L673.20,591.63 L674.23,591.65 L675.26,591.67 L676.30,591.69 L677.33,591.70 L678.37,591.72 L679.40,591.74 L680.44,591.76 L681.48,591.78 L682.52,591.79 L683.56,591.81 L684.60,591.83 L685.64,591.85 L686.69,591.86 L687.73,591.88 L688.78,591.90 L689.83,591.92 L690.88,591.93 L691.93,591.95 L692.98,591.97 L694.03,591.98 L695.08,592.00 L696.14,592.02 L697.19,592.03 L698.25,592.05 L699.30,592.07 L700.36,592.08 L701.42,592.10 L702.48,592.12 L703.54,592.13 L704.61,592.15 L705.67,592.17 L706.74,592.18 L707.80,592.20 L708.87,592.22 L709.94,592.23 L711.01,592.25 L712.08,592.26 L713.15,592.28 L714.22,592.30 L715.29,592.31 L716.37,592.33 L717.45,592.34 L718.52,592.36 L719.60,592.37 L720.68,592.39 L721.76,592.40 L722.84,592.42 L723.92,592.43 L725.01,592.45 L726.09,592.47 L727.18,592.48 L728.27,592.50 L729.35,592.51 L730.44,592.53 L731.53,592.54 L732.62,592.55 L733.72,592.57 L734.81,592.58 L735.91,592.60 L737.00,592.61 L738.10,592.63 L739.20,592.64 L740.29,592.66 L741.39,592.67 L742.50,592.69 L743.60,592.70 L744.70,592.71 L745.81,592.73 L746.91,592.74 L748.02,592.76 L749.13,592.77 L750.24,592.78 L751.35,592.80 L752.46,592.81 L753.57,592.83 L754.68,592.84 L755.80,592.85 L756.91,592.87 L758.03,592.88 L759.15,592.89 L760.27,592.91 L761.39,592.92 L762.51,592.93 L763.63,592.95 L764.75,592.96 L765.88,592.97 L767.00,592.99 L768.13,593.00 L769.26,593.01 L770.39,593.03 L771.52,593.04 L772.65,593.05 L773.78,593.06 L774.91,593.08 L776.05,593.09 L777.18,593.10 L778.32,593.11 L779.46,593.13 L780.60,593.14 L781.74,593.15 L782.88,593.16 L784.02,593.18 L785.16,593.19 L786.31,593.20 L787.45,593.21 L788.60,593.23 L789.75,593.24 L790.90,593.25 L792.05,593.26 L793.20,593.27 L794.35,593.29 L795.50,593.30 L796.66,593.31 L797.81,593.32 L798.97,593.33 L800.13,593.35 L801.29,593.36 L802.45,593.37 L803.61,593.38 L804.77,593.39 L805.93,593.40 L807.10,593.41 L808.26,593.43 L809.43,593.44 L810.60,593.45 L811.77,593.46 L812.94,593.47 L814.11,593.48 L815.28,593.49 L816.45,593.50 L817.63,593.52 L818.81,593.53 L819.98,593.54 L821.16,593.55 L822.34,593.56 L823.52,593.57 L824.70,593.58 L825.88,593.59 L827.07,593.60 L828.25,593.61 L829.44,593.62 L830.62,593.63 L831.81,593.64 L833.00,593.65 L834.19,593.67 L835.38,593.68 L836.57,593.69 L837.77,593.70 L838.96,593.71 L840.16,593.72 L841.35,593.73 L842.55,593.74 L843.75,593.75 L844.95,593.76 L846.15,593.77 L847.36,593.78 L848.56,593.79 L849.76,593.80 L850.97,593.81 L852.18,593.82 L853.38,593.83 L854.59,593.84 L855.80,593.85 L857.02,593.86 L858.23,593.87 L859.44,593.88 L860.66,593.88 L861.87,593.89 L863.09,593.90 L864.31,593.91 L865.53,593.92 L866.75,593.93 L867.97,593.94 L869.19,593.95 L870.41,593.96 L871.64,593.97 L872.87,593.98 L874.09,593.99 L875.32,594.00 L876.55,594.01 L877.78,594.01 L879.01,594.02 L880.25,594.03 L881.48,594.04 L882.71,594.05 L883.95,594.06 L885.19,594.07 L886.43,594.08 L887.67,594.09 L888.91,594.09 L890.15,594.10 L891.39,594.11 L892.63,594.12 L893.88,594.13 L895.13,594.14 L896.37,594.15 L897.62,594.15 L898.87,594.16 L900.12,594.17 L901.37,594.18 L902.63,594.19 L903.88,594.20 L905.14,594.21 L906.39,594.21 L907.65,594.22 L908.91,594.23 L910.17,594.24 L911.43,594.25 L912.69,594.25 L913.96,594.26 L915.22,594.27 L916.48,594.28 L917.75,594.29 L919.02,594.29 L920.29,594.30 L921.56,594.31 L922.83,594.32 L924.10,594.33 L925.37,594.33 L926.65,594.34 L927.92,594.35 L929.20,594.36 L930.48,594.36 L931.76,594.37 L933.04,594.38 L934.32,594.39 L935.60,594.39 L936.89,594.40 L938.17,594.41 L939.46,594.42 L940.74,594.42 L942.03,594.43 L943.32,594.44 L944.61,594.45 L945.90,594.45 L947.19,594.46 L948.49,594.47 L949.78,594.48 L951.08,594.48 L952.38,594.49 L953.67,594.50 L954.97,594.50 L956.27,594.51 L957.58,594.52 L958.88,594.53 L960.18,594.53 L961.49,594.54 L962.79,594.55 L964.10,594.55 L965.41,594.56 L966.72,594.57 L968.03,594.57 L969.34,594.58 L970.66,594.59 L971.97,594.59 L973.28,594.60 L974.60,594.61 L975.92,594.61 L977.24,594.62 L978.56,594.63 L979.88,594.63 L981.20,594.64 L982.52,594.65 L983.85,594.65 L985.17,594.66 L986.50,594.67" stroke="#ff0000" stroke-dasharray="3.1 10.5 11.5 10.9" stroke-dashoffset="0.4"/>
<path d="M142.50,596.45 L142.50,596.45 L142.50,596.45 L142.50,596.44 L142.50,596.43 L142.50,596.42 L142.51,596.41 L142.51,596.39 L142.51,596.37 L142.51,596.35 L142.52,596.33 L142.52,596.30 L142.52,596.27 L142.53,596.23 L142.53,596.19 L142.54,596.15 L142.55,596.10 L142.55,596.05 L142.56,596.00 L142.57,595.94 L142.57,595.88 L142.58,595.82 L142.59,595.75 L142.60,595.68 L142.61,595.60 L142.62,595.52 L142.63,595.44 L142.64,595.35 L142.65,595.26 L142.67,595.17 L142.68,595.07 L142.69,594.96 L142.71,594.86 L142.72,594.74 L142.74,594.63 L142.75,594.51 L142.77,594.39 L142.79,594.26 L142.80,594.13 L142.82,593.99 L142.84,593.85 L142.86,593.71 L142.88,593.56 L142.90,593.41 L142.92,593.25 L142.94,593.09 L142.96,592.93 L142.98,592.76 L143.01,592.58 L143.03,592.41 L143.05,592.22 L143.08,592.04 L143.10,591.85 L143.13,591.65 L143.16,591.45 L143.18,591.25 L143.21,591.04 L143.24,590.83 L143.27,590.62 L143.30,590.40 L143.33,590.17 L143.36,589.94 L143.39,589.71 L143.42,589.47 L143.45,589.23 L143.49,588.99 L143.52,588.74 L143.55,588.48 L143.59,588.22 L143.62,587.96 L143.66,587.70 L143.70,587.42 L143.74,587.15 L143.77,586.87 L143.81,586.59 L143.85,586.30 L143.89,586.01 L143.93,585.71 L143.97,585.41 L144.01,585.11 L144.06,584.80 L144.10,584.48 L144.14,584.17 L144.19,583.85 L144.23,583.52 L144.28,583.19 L144.33,582.86 L144.37,582.52 L144.42,582.18 L144.47,581.83 L144.52,581.48 L144.57,581.13 L144.62,580.77 L144.67,580.41 L144.72,580.05 L144.77,579.68 L144.83,579.30 L144.88,578.93 L144.93,578.55 L144.99,578.16 L145.04,577.77 L145.10,577.38 L145.16,576.98 L145.22,576.58 L145.27,576.18 L145.33,575.77 L145.39,575.36 L145.45,574.95 L145.51,574.53 L145.58,574.11 L145.64,573.68 L145.70,573.25 L145.76,572.82 L145.83,572.38 L145.89,571.94 L145.96,571.50 L146.03,571.05 L146.09,570.60 L146.16,570.14 L146.23,569.69 L146.30,569.23 L146.37,568.76 L146.44,568.29 L146.51,567.82 L146.58,567.35 L146.66,566.87 L146.73,566.39 L146.80,565.91 L146.88,565.42 L146.95,564.93 L147.03,564.44 L147.11,563.94 L147.19,563.44 L147.26,562.94 L147.34,562.44 L147.42,561.93 L147.50,561.42 L147.59,560.90 L147.67,560.39 L147.75,559.87 L147.83,559.34 L147.92,558.82 L148.00,558.29 L148.09,557.76 L148.17,557.23 L148.26,556.69 L148.35,556.15 L148.44,555.61 L148.53,555.07 L148.62,554.52 L148.71,553.98 L148.80,553.42 L148.89,552.87 L148.98,552.32 L149.08,551.76 L149.17,551.20 L149.27,550.64 L149.36,550.07 L149.46,549.51 L149.56,548.94 L149.65,548.37 L149.75,547.79 L149.85,547.22 L149.95,546.64 L150.05,546.06 L150.16,545.48 L150.26,544.90 L150.36,544.32 L150.47,543.73 L150.57,543.14 L150.68,542.55 L150.78,541.96 L150.89,541.37 L151.00,540.77 L151.11,540.18 L151.21,539.58 L151.32,538.98 L151.43,538.38 L151.55,537.78 L151.66,537.17 L151.77,536.57 L151.89,535.96 L152.00,535.36 L152.11,534.75 L152.23,534.14 L152.35,533.53 L152.46,532.92 L152.58,532.30 L152.70,531.69 L152.82,531.07 L152.94,530.46 L153.06,529.84 L153.19,529.22 L153.31,528.61 L153.43,527.99 L153.56,527.37 L153.68,526.75 L153.81,526.12 L153.93,525.50 L154.06,524.88 L154.19,524.26 L154.32,523.63 L154.45,523.01 L154.58,522.38 L154.71,521.76 L154.84,521.13 L154.98,520.51 L155.11,519.88 L155.24,519.26 L155.38,518.63 L155.51,518.00 L155.65,517.38 L155.79,516.75 L155.93,516.12 L156.07,515.50 L156.21,514.87 L156.35,514.24 L156.49,513.62 L156.63,512.99 L156.77,512.36 L156.92,511.74 L157.06,511.11 L157.21,510.48 L157.35,509.86 L157.50,509.23 L157.65,508.61 L157.80,507.98 L157.95,507.36 L158.10,506.74 L158.25,506.11 L158.40,505.49 L158.55,504.87 L158.70,504.25 L158.86,503.63 L159.01,503.01 L159.17,502.39 L159.32,501.77 L159.48,501.16 L159.64,500.54 L159.80,499.92 L159.96,499.31 L160.12,498.70 L160.28,498.08 L160.44,497.47 L160.61,496.86 L160.77,496.25 L160.93,495.64 L161.10,495.04 L161.26,494.43 L161.43,493.83 L161.60,493.22 L161.77,492.62 L161.94,492.02 L162.11,491.42 L162.28,490.82 L162.45,490.23 L162.62,489.63 L162.80,489.04 L162.97,488.45 L163.14,487.85 L163.32,487.27 L163.50,486.68 L163.67,486.09 L163.85,485.51 L164.03,484.93 L164.21,484.34 L164.39,483.77 L164.57,483.19 L164.76,482.61 L164.94,482.04 L165.12,481.47 L165.31,480.90 L165.49,480.33 L165.68,479.76 L165.87,479.20 L166.05,478.64 L166.24,478.08 L166.43,477.52 L166.62,476.96 L166.81,476.41 L167.01,475.86 L167.20,475.31 L167.39,474.76 L167.59,474.22 L167.78,473.67 L167.98,473.13 L168.18,472.59 L168.38,472.06 L168.57,471.52 L168.77,470.99 L168.97,470.46 L169.18,469.94 L169.38,469.41 L169.58,468.89 L169.78,468.37 L169.99,467.85 L170.19,467.34 L170.40,466.83 L170.61,466.32 L170.82,465.81 L171.02,465.31 L171.23,464.81 L171.44,464.31 L171.66,463.81 L171.87,463.32 L172.08,462.82 L172.29,462.34 L172.51,461.85 L172.72,461.37 L172.94,460.89 L173.16,460.41 L173.38,459.93 L173.59,459.46 L173.81,458.99 L174.03,458.53 L174.26,458.06 L174.48,457.60 L174.70,457.15 L174.93,456.69 L175.15,456.24 L175.38,455.79 L175.60,455.34 L175.83,454.90 L176.06,454.46 L176.29,454.02 L176.52,453.59 L176.75,453.16 L176.98,452.73 L177.21,452.30 L177.44,451.88 L177.68,451.46 L177.91,451.05 L178.15,450.63 L178.39,450.22 L178.62,449.82 L178.86,449.41 L179.10,449.01 L179.34,448.61 L179.58,448.22 L179.82,447.83 L180.07,447.44 L180.31,447.05 L180.55,446.67 L180.80,446.29 L181.05,445.92 L181.29,445.55 L181.54,445.18 L181.79,444.81 L182.04,444.45 L182.29,444.09 L182.54,443.73 L182.79,443.38 L183.05,443.03 L183.30,442.68 L183.55,442.34 L183.81,442.00 L184.07,441.66 L184.32,441.33 L184.58,441.00 L184.84,440.67 L185.10,440.34 L185.36,440.02 L185.62,439.71 L185.88,439.39 L186.15,439.08 L186.41,438.77 L186.68,438.47 L186.94,438.17 L187.21,437.87 L187.48,437.58 L187.75,437.28 L188.02,437.00 L188.29,436.71 L188.56,436.43 L188.83,436.15 L189.10,435.88 L189.38,435.60 L189.65,435.34 L189.93,435.07 L190.20,434.81 L190.48,434.55 L190.76,434.30 L191.04,434.04 L191.32,433.80 L191.60,433.55 L191.88,433.31 L192.16,433.07 L192.45,432.83 L192.73,432.60 L193.02,432.37 L193.30,432.15 L193.59,431.92 L193.88,431.71 L194.17,431.49 L194.46,431.28 L194.75,431.07 L195.04,430.86 L195.33,430.66 L195.62,430.46 L195.92,430.26 L196.21,430.07 L196.51,429.88 L196.81,429.69 L197.10,429.51 L197.40,429.33 L197.70,429.15 L198.00,428.98 L198.30,428.81 L198.60,428.64 L198.91,428.47 L199.21,428.31 L199.52,428.15 L199.82,428.00 L200.13,427.85 L200.44,427.70 L200.74,427.55 L201.05,427.41 L201.36,427.27 L201.67,427.13 L201.99,427.00 L202.30,426.87 L202.61,426.74 L202.93,426.62 L203.24,426.50 L203.56,426.38 L203.88,426.27 L204.19,426.16 L204.51,426.05 L204.83,425.94 L205.15,425.84 L205.48,425.74 L205.80,425.64 L206.12,425.55 L206.45,425.46 L206.77,425.37 L207.10,425.29 L207.43,425.20 L207.75,425.13 L208.08,425.05 L208.41,424.98 L208.74,424.91 L209.07,424.84 L209.41,424.77 L209.74,424.71 L210.07,424.65 L210.41,424.60 L210.75,424.55 L211.08,424.50 L211.42,424.45 L211.76,424.40 L212.10,424.36 L212.44,424.32 L212.78,424.29 L213.13,424.25 L213.47,424.22 L213.81,424.20 L214.16,424.17 L214.50,424.15 L214.85,424.13 L215.20,424.11 L215.55,424.10 L215.90,424.09 L216.25,424.08 L216.60,424.07 L216.95,424.07 L217.31,424.07 L217.66,424.07 L218.02,424.07 L218.37,424.08 L218.73,424.09 L219.09,424.10 L219.45,424.11 L219.81,424.13 L220.17,424.15 L220.53,424.17 L220.89,424.20 L221.26,424.22 L221.62,424.25 L221.98,424.28 L222.35,424.32 L222.72,424.35 L223.09,424.39 L223.46,424.44 L223.83,424.48 L224.20,424.53 L224.57,424.57 L224.94,424.62 L225.31,424.68 L225.69,424.73 L226.06,424.79 L226.44,424.85 L226.82,424.91 L227.20,424.98 L227.58,425.05 L227.96,425.11 L228.34,425.19 L228.72,425.26 L229.10,425.34 L229.49,425.41 L229.87,425.49 L230.26,425.58 L230.64,425.66 L231.03,425.75 L231.42,425.83 L231.81,425.93 L232.20,426.02 L232.59,426.11 L232.98,426.21 L233.37,426.31 L233.77,426.41 L234.16,426.51 L234.56,426.62 L234.96,426.73 L235.35,426.83 L235.75,426.95 L236.15,427.06 L236.55,427.17 L236.95,427.29 L237.36,427.41 L237.76,427.53 L238.16,427.65 L238.57,427.78 L238.98,427.90 L239.38,428.03 L239.79,428.16 L240.20,428.29 L240.61,428.42 L241.02,428.56 L241.43,428.70 L241.84,428.83 L242.26,428.98 L242.67,429.12 L243.09,429.26 L243.51,429.41 L243.92,429.55 L244.34,429.70 L244.76,429.85 L245.18,430.01 L245.60,430.16 L246.02,430.31 L246.45,430.47 L246.87,430.63 L247.30,430.79 L247.72,430.95 L248.15,431.12 L248.58,431.28 L249.00,431.45 L249.43,431.61 L249.86,431.78 L250.30,431.95 L250.73,432.13 L251.16,432.30 L251.60,432.48 L252.03,432.65 L252.47,432.83 L252.90,433.01 L253.34,433.19 L253.78,433.37 L254.22,433.56 L254.66,433.74 L255.10,433.93 L255.55,434.12 L255.99,434.30 L256.44,434.49 L256.88,434.69 L257.33,434.88 L257.78,435.07 L258.22,435.27 L258.67,435.47 L259.12,435.66 L259.58,435.86 L260.03,436.06 L260.48,436.26 L260.94,436.47 L261.39,436.67 L261.85,436.87 L262.30,437.08 L262.76,437.29 L263.22,437.50 L263.68,437.70 L264.14,437.92 L264.60,438.13 L265.07,438.34 L265.53,438.55 L266.00,438.77 L266.46,438.98 L266.93,439.20 L267.40,439.42 L267.86,439.64 L268.33,439.86 L268.80,440.08 L269.28,440.30 L269.75,440.52 L270.22,440.74 L270.70,440.97 L271.17,441.19 L271.65,441.42 L272.12,441.65 L272.60,441.87 L273.08,442.10 L273.56,442.33 L274.04,442.56 L274.52,442.80 L275.01,443.03 L275.49,443.26 L275.98,443.49 L276.46,443.73 L276.95,443.96 L277.44,444.20 L277.93,444.44 L278.42,444.67 L278.91,444.91 L279.40,445.15 L279.89,445.39 L280.38,445.63 L280.88,445.87 L281.37,446.12 L281.87,446.36 L282.37,446.60 L282.87,446.85 L283.37,447.09 L283.87,447.34 L284.37,447.58 L284.87,447.83 L285.37,448.08 L285.88,448.32 L286.38,448.57 L286.89,448.82 L287.40,449.07 L287.90,449.32 L288.41,449.57 L288.92,449.82 L289.43,450.07 L289.95,450.32 L290.46,450.58 L290.97,450.83 L291.49,451.08 L292.00,451.34 L292.52,451.59 L293.04,451.85 L293.56,452.10 L294.08,452.36 L294.60,452.62 L295.12,452.87 L295.64,453.13 L296.16,453.39 L296.69,453.65 L297.22,453.90 L297.74,454.16 L298.27,454.42 L298.80,454.68 L299.33,454.94 L299.86,455.20 L300.39,455.46 L300.92,455.72 L301.46,455.98 L301.99,456.25 L302.52,456.51 L303.06,456.77 L303.60,457.03 L304.14,457.30 L304.68,457.56 L305.22,457.82 L305.76,458.09 L306.30,458.35 L306.84,458.61 L307.39,458.88 L307.93,459.14 L308.48,459.41 L309.03,459.67 L309.57,459.94 L310.12,460.20 L310.67,460.47 L311.22,460.74 L311.78,461.00 L312.33,461.27 L312.88,461.54 L313.44,461.80 L313.99,462.07 L314.55,462.34 L315.11,462.60 L315.67,462.87 L316.23,463.14 L316.79,463.40 L317.35,463.67 L317.91,463.94 L318.48,464.21 L319.04,464.48 L319.61,464.74 L320.17,465.01 L320.74,465.28 L321.31,465.55 L321.88,465.82 L322.45,466.08 L323.02,466.35 L323.60,466.62 L324.17,466.89 L324.74,467.16 L325.32,467.43 L325.90,467.70 L326.48,467.96 L327.05,468.23 L327.63,468.50 L328.21,468.77 L328.80,469.04 L329.38,469.31 L329.96,469.58 L330.55,469.84 L331.13,470.11 L331.72,470.38 L332.31,470.65 L332.90,470.92 L333.49,471.19 L334.08,471.46 L334.67,471.72 L335.26,471.99 L335.85,472.26 L336.45,472.53 L337.04,472.80 L337.64,473.06 L338.24,473.33 L338.84,473.60 L339.44,473.87 L340.04,474.13 L340.64,474.40 L341.24,474.67 L341.84,474.94 L342.45,475.20 L343.05,475.47 L343.66,475.74 L344.27,476.00 L344.88,476.27 L345.49,476.54 L346.10,476.80 L346.71,477.07 L347.32,477.34 L347.94,477.60 L348.55,477.87 L349.17,478.13 L349.78,478.40 L350.40,478.66 L351.02,478.93 L351.64,479.19 L352.26,479.46 L352.88,479.72 L353.50,479.99 L354.13,480.25 L354.75,480.51 L355.38,480.78 L356.00,481.04 L356.63,481.30 L357.26,481.57 L357.89,481.83 L358.52,482.09 L359.15,482.35 L359.78,482.61 L360.42,482.88 L361.05,483.14 L361.69,483.40 L362.32,483.66 L362.96,483.92 L363.60,484.18 L364.24,484.44 L364.88,484.70 L365.52,484.96 L366.17,485.22 L366.81,485.48 L367.45,485.74 L368.10,486.00 L368.75,486.26 L369.39,486.51 L370.04,486.77 L370.69,487.03 L371.34,487.29 L372.00,487.54 L372.65,487.80 L373.30,488.06 L373.96,488.31 L374.61,488.57 L375.27,488.82 L375.93,489.08 L376.59,489.33 L377.25,489.59 L377.91,489.84 L378.57,490.09 L379.23,490.35 L379.90,490.60 L380.56,490.85 L381.23,491.11 L381.89,491.36 L382.56,491.61 L383.23,491.86 L383.90,492.11 L384.57,492.36 L385.24,492.61 L385.92,492.86 L386.59,493.11 L387.27,493.36 L387.94,493.61 L388.62,493.86 L389.30,494.11 L389.98,494.36 L390.66,494.61 L391.34,494.85 L392.02,495.10 L392.70,495.35 L393.39,495.59 L394.07,495.84 L394.76,496.08 L395.45,496.33 L396.14,496.57 L396.83,496.82 L397.52,497.06 L398.21,497.30 L398.90,497.55 L399.59,497.79 L400.29,498.03 L400.98,498.27 L401.68,498.52 L402.38,498.76 L403.08,499.00 L403.78,499.24 L404.48,499.48 L405.18,499.72 L405.88,499.96 L406.58,500.20 L407.29,500.43 L407.99,500.67 L408.70,500.91 L409.41,501.15 L410.12,501.38 L410.83,501.62 L411.54,501.86 L412.25,502.09 L412.96,502.33 L413.68,502.56 L414.39,502.80 L415.11,503.03 L415.83,503.26 L416.54,503.50 L417.26,503.73 L417.98,503.96 L418.70,504.19 L419.43,504.43 L420.15,504.66 L420.87,504.89 L421.60,505.12 L422.33,505.35 L423.05,505.58 L423.78,505.81 L424.51,506.03 L425.24,506.26 L425.97,506.49 L426.70,506.72 L427.44,506.94 L428.17,507.17 L428.91,507.40 L429.65,507.62 L430.38,507.85 L431.12,508.07 L431.86,508.29 L432.60,508.52 L433.34,508.74 L434.09,508.96 L434.83,509.19 L435.58,509.41 L436.32,509.63 L437.07,509.85 L437.82,510.07 L438.56,510.29 L439.31,510.51 L440.07,510.73 L440.82,510.95 L441.57,511.17 L442.33,511.39 L443.08,511.60 L443.84,511.82 L444.59,512.04 L445.35,512.25 L446.11,512.47 L446.87,512.69 L447.63,512.90 L448.40,513.11 L449.16,513.33 L449.92,513.54 L450.69,513.76 L451.46,513.97 L452.22,514.18 L452.99,514.39 L453.76,514.60 L454.53,514.81 L455.31,515.02 L456.08,515.23 L456.85,515.44 L457.63,515.65 L458.40,515.86 L459.18,516.07 L459.96,516.28 L460.74,516.48 L461.52,516.69 L462.30,516.90 L463.08,517.10 L463.86,517.31 L464.65,517.51 L465.43,517.72 L466.22,517.92 L467.01,518.13 L467.80,518.33 L468.59,518.53 L469.38,518.73 L470.17,518.94 L470.96,519.14 L471.75,519.34 L472.55,519.54 L473.35,519.74 L474.14,519.94 L474.94,520.14 L475.74,520.34 L476.54,520.54 L477.34,520.73 L478.14,520.93 L478.95,521.13 L479.75,521.32 L480.55,521.52 L481.36,521.72 L482.17,521.91 L482.98,522.10 L483.79,522.30 L484.60,522.49 L485.41,522.69 L486.22,522.88 L487.03,523.07 L487.85,523.26 L488.66,523.45 L489.48,523.65 L490.30,523.84 L491.12,524.03 L491.94,524.22 L492.76,524.41 L493.58,524.59 L494.40,524.78 L495.23,524.97 L496.05,525.16 L496.88,525.35 L497.71,525.53 L498.54,525.72 L499.37,525.90 L500.20,526.09 L501.03,526.27 L501.86,526.46 L502.69,526.64 L503.53,526.83 L504.36,527.01 L505.20,527.19 L506.04,527.37 L506.88,527.55 L507.72,527.74 L508.56,527.92 L509.40,528.10 L510.24,528.28 L511.09,528.46 L511.93,528.64 L512.78,528.81 L513.63,528.99 L514.47,529.17 L515.32,529.35 L516.17,529.52 L517.03,529.70 L517.88,529.88 L518.73,530.05 L519.59,530.23 L520.44,530.40 L521.30,530.58 L522.16,530.75 L523.02,530.92 L523.88,531.10 L524.74,531.27 L525.60,531.44 L526.46,531.61 L527.33,531.79 L528.19,531.96 L529.06,532.13 L529.93,532.30 L530.79,532.47 L531.66,532.64 L532.53,532.80 L533.41,532.97 L534.28,533.14 L535.15,533.31 L536.03,533.47 L536.90,533.64 L537.78,533.81 L538.66,533.97 L539.54,534.14 L540.42,534.30 L541.30,534.47 L542.18,534.63 L543.06,534.80 L543.95,534.96 L544.83,535.12 L545.72,535.28 L546.61,535.45 L547.50,535.61 L548.39,535.77 L549.28,535.93 L550.17,536.09 L551.06,536.25 L551.96,536.41 L552.85,536.57 L553.75,536.73 L554.65,536.89 L555.54,537.04 L556.44,537.20 L557.34,537.36 L558.24,537.51 L559.15,537.67 L560.05,537.83 L560.96,537.98 L561.86,538.14 L562.77,538.29 L563.68,538.45 L564.59,538.60 L565.50,538.75 L566.41,538.91 L567.32,539.06 L568.23,539.21 L569.15,539.36 L570.06,539.51 L570.98,539.67 L571.90,539.82 L572.81,539.97 L573.73,540.12 L574.65,540.27 L575.58,540.41 L576.50,540.56 L577.42,540.71 L578.35,540.86 L579.27,541.01 L580.20,541.15 L581.13,541.30 L582.06,541.45 L582.99,541.59 L583.92,541.74 L584.85,541.88 L585.79,542.03 L586.72,542.17 L587.66,542.32 L588.59,542.46 L589.53,542.60 L590.47,542.75 L591.41,542.89 L592.35,543.03 L593.29,543.17 L594.24,543.31 L595.18,543.45 L596.13,543.59 L597.07,543.73 L598.02,543.87 L598.97,544.01 L599.92,544.15 L600.87,544.29 L601.82,544.43 L602.78,544.57 L603.73,544.71 L604.68,544.84 L605.64,544.98 L606.60,545.12 L607.56,545.25 L608.52,545.39 L609.48,545.52 L610.44,545.66 L611.40,545.79 L612.36,545.93 L613.33,546.06 L614.29,546.19 L615.26,546.33 L616.23,546.46 L617.20,546.59 L618.17,546.72 L619.14,546.86 L620.11,546.99 L621.09,547.12 L622.06,547.25 L623.04,547.38 L624.01,547.51 L624.99,547.64 L625.97,547.77 L626.95,547.90 L627.93,548.03 L628.91,548.15 L629.90,548.28 L630.88,548.41 L631.87,548.54 L632.85,548.66 L633.84,548.79 L634.83,548.92 L635.82,549.04 L636.81,549.17 L637.80,549.29 L638.79,549.42 L639.79,549.54 L640.78,549.66 L641.78,549.79 L642.78,549.91 L643.77,550.03 L644.77,550.16 L645.77,550.28 L646.78,550.40 L647.78,550.52 L648.78,550.64 L649.79,550.77 L650.79,550.89 L651.80,551.01 L652.81,551.13 L653.82,551.25 L654.83,551.37 L655.84,551.48 L656.85,551.60 L657.87,551.72 L658.88,551.84 L659.90,551.96 L660.91,552.07 L661.93,552.19 L662.95,552.31 L663.97,552.42 L664.99,552.54 L666.01,552.66 L667.04,552.77 L668.06,552.89 L669.09,553.00 L670.11,553.12 L671.14,553.23 L672.17,553.34 L673.20,553.46 L674.23,553.57 L675.26,553.68 L676.30,553.80 L677.33,553.91 L678.37,554.02 L679.40,554.13 L680.44,554.24 L681.48,554.35 L682.52,554.47 L683.56,554.58 L684.60,554.69 L685.64,554.80 L686.69,554.90 L687.73,555.01 L688.78,555.12 L689.83,555.23 L690.88,555.34 L691.93,555.45 L692.98,555.56 L694.03,555.66 L695.08,555.77 L696.14,555.88 L697.19,555.98 L698.25,556.09 L699.30,556.19 L700.36,556.30 L701.42,556.41 L702.48,556.51 L703.54,556.62 L704.61,556.72 L705.67,556.82 L706.74,556.93 L707.80,557.03 L708.87,557.13 L709.94,557.24 L711.01,557.34 L712.08,557.44 L713.15,557.54 L714.22,557.65 L715.29,557.75 L716.37,557.85 L717.45,557.95 L718.52,558.05 L719.60,558.15 L720.68,558.25 L721.76,558.35 L722.84,558.45 L723.92,558.55 L725.01,558.65 L726.09,558.75 L727.18,558.84 L728.27,558.94 L729.35,559.04 L730.44,559.14 L731.53,559.24 L732.62,559.33 L733.72,559.43 L734.81,559.53 L735.91,559.62 L737.00,559.72 L738.10,559.81 L739.20,559.91 L740.29,560.00 L741.39,560.10 L742.50,560.19 L743.60,560.29 L744.70,560.38 L745.81,560.48 L746.91,560.57 L748.02,560.66 L749.13,560.76 L750.24,560.85 L751.35,560.94 L752.46,561.03 L753.57,561.12 L754.68,561.22 L755.80,561.31 L756.91,561.40 L758.03,561.49 L759.15,561.58 L760.27,561.67 L761.39,561.76 L762.51,561.85 L763.63,561.94 L764.75,562.03 L765.88,562.12 L767.00,562.21 L768.13,562.30 L769.26,562.39 L770.39,562.47 L771.52,562.56 L772.65,562.65 L773.78,562.74 L774.91,562.82 L776.05,562.91 L777.18,563.00 L778.32,563.08 L779.46,563.17 L780.60,563.26 L781.74,563.34 L782.88,563.43 L784.02,563.51 L785.16,563.60 L786.31,563.68 L787.45,563.77 L788.60,563.85 L789.75,563.93 L790.90,564.02 L792.05,564.10 L793.20,564.18 L794.35,564.27 L795.50,564.35 L796.66,564.43 L797.81,564.52 L798.97,564.60 L800.13,564.68 L801.29,564.76 L802.45,564.84 L803.61,564.92 L804.77,565.00 L805.93,565.09 L807.10,565.17 L808.26,565.25 L809.43,565.33 L810.60,565.41 L811.77,565.49 L812.94,565.56 L814.11,565.64 L815.28,565.72 L816.45,565.80 L817.63,565.88 L818.81,565.96 L819.98,566.04 L821.16,566.11 L822.34,566.19 L823.52,566.27 L824.70,566.35 L825.88,566.42 L827.07,566.50 L828.25,566.58 L829.44,566.65 L830.62,566.73 L831.81,566.80 L833.00,566.88 L834.19,566.96 L835.38,567.03 L836.57,567.11 L837.77,567.18 L838.96,567.26 L840.16,567.33 L841.35,567.40 L842.55,567.48 L843.75,567.55 L844.95,567.62 L846.15,567.70 L847.36,567.77 L848.56,567.84 L849.76,567.92 L850.97,567.99 L852.18,568.06 L853.38,568.13 L854.59,568.21 L855.80,568.28 L857.02,568.35 L858.23,568.42 L859.44,568.49 L860.66,568.56 L861.87,568.63 L863.09,568.70 L864.31,568.77 L865.53,568.84 L866.75,568.91 L867.97,568.98 L869.19,569.05 L870.41,569.12 L871.64,569.19 L872.87,569.26 L874.09,569.33 L875.32,569.40 L876.55,569.47 L877.78,569.53 L879.01,569.60 L880.25,569.67 L881.48,569.74 L882.71,569.80 L883.95,569.87 L885.19,569.94 L886.43,570.00 L887.67,570.07 L888.91,570.14 L890.15,570.20 L891.39,570.27 L892.63,570.34 L893.88,570.40 L895.13,570.47 L896.37,570.53 L897.62,570.60 L898.87,570.66 L900.12,570.73 L901.37,570.79 L902.63,570.86 L903.88,570.92 L905.14,570.98 L906.39,571.05 L907.65,571.11 L908.91,571.18 L910.17,571.24 L911.43,571.30 L912.69,571.36 L913.96,571.43 L915.22,571.49 L916.48,571.55 L917.75,571.61 L919.02,571.68 L920.29,571.74 L921.56,571.80 L922.83,571.86 L924.10,571.92 L925.37,571.98 L926.65,572.05 L927.92,572.11 L929.20,572.17 L930.48,572.23 L931.76,572.29 L933.04,572.35 L934.32,572.41 L935.60,572.47 L936.89,572.53 L938.17,572.59 L939.46,572.65 L940.74,572.71 L942.03,572.76 L943.32,572.82 L944.61,572.88 L945.90,572.94 L947.19,573.00 L948.49,573.06 L949.78,573.11 L951.08,573.17 L952.38,573.23 L953.67,573.29 L954.97,573.35 L956.27,573.40 L957.58,573.46 L958.88,573.52 L960.18,573.57 L961.49,573.63 L962.79,573.69 L964.10,573.74 L965.41,573.80 L966.72,573.85 L968.03,573.91 L969.34,573.97 L970.66,574.02 L971.97,574.08 L973.28,574.13 L974.60,574.19 L975.92,574.24 L977.24,574.30 L978.56,574.35 L979.88,574.40 L981.20,574.46 L982.52,574.51 L983.85,574.57 L985.17,574.62 L986.50,574.67" stroke="#0000ff" stroke-dasharray="11.2 10.94" stroke-dashoffset="0"/>
<path d="M142.50,596.45 L142.50,596.45 L142.50,596.45 L142.50,596.44 L142.50,596.44 L142.50,596.43 L142.51,596.42 L142.51,596.41 L142.51,596.40 L142.51,596.38 L142.52,596.36 L142.52,596.34 L142.52,596.32 L142.53,596.29 L142.53,596.26 L142.54,596.23 L142.55,596.20 L142.55,596.17 L142.56,596.13 L142.57,596.09 L142.57,596.04 L142.58,596.00 L142.59,595.95 L142.60,595.90 L142.61,595.84 L142.62,595.79 L142.63,595.73 L142.64,595.66 L142.65,595.60 L142.67,595.53 L142.68,595.46 L142.69,595.38 L142.71,595.31 L142.72,595.23 L142.74,595.15 L142.75,595.06 L142.77,594.97 L142.79,594.88 L142.80,594.79 L142.82,594.69 L142.84,594.59 L142.86,594.49 L142.88,594.38 L142.90,594.27 L142.92,594.16 L142.94,594.04 L142.96,593.93 L142.98,593.80 L143.01,593.68 L143.03,593.55 L143.05,593.42 L143.08,593.29 L143.10,593.15 L143.13,593.01 L143.16,592.87 L143.18,592.73 L143.21,592.58 L143.24,592.43 L143.27,592.27 L143.30,592.11 L143.33,591.95 L143.36,591.79 L143.39,591.62 L143.42,591.45 L143.45,591.28 L143.49,591.10 L143.52,590.92 L143.55,590.74 L143.59,590.56 L143.62,590.37 L143.66,590.18 L143.70,589.98 L143.74,589.78 L143.77,589.58 L143.81,589.38 L143.85,589.17 L143.89,588.97 L143.93,588.75 L143.97,588.54 L144.01,588.32 L144.06,588.10 L144.10,587.87 L144.14,587.65 L144.19,587.42 L144.23,587.18 L144.28,586.95 L144.33,586.71 L144.37,586.47 L144.42,586.22 L144.47,585.97 L144.52,585.72 L144.57,585.47 L144.62,585.21 L144.67,584.95 L144.72,584.69 L144.77,584.43 L144.83,584.16 L144.88,583.89 L144.93,583.61 L144.99,583.34 L145.04,583.06 L145.10,582.78 L145.16,582.49 L145.22,582.20 L145.27,581.92 L145.33,581.62 L145.39,581.33 L145.45,581.03 L145.51,580.73 L145.58,580.43 L145.64,580.12 L145.70,579.81 L145.76,579.50 L145.83,579.19 L145.89,578.87 L145.96,578.55 L146.03,578.23 L146.09,577.91 L146.16,577.58 L146.23,577.25 L146.30,576.92 L146.37,576.59 L146.44,576.25 L146.51,575.91 L146.58,575.57 L146.66,575.23 L146.73,574.88 L146.80,574.53 L146.88,574.18 L146.95,573.83 L147.03,573.48 L147.11,573.12 L147.19,572.76 L147.26,572.40 L147.34,572.04 L147.42,571.67 L147.50,571.30 L147.59,570.93 L147.67,570.56 L147.75,570.19 L147.83,569.81 L147.92,569.43 L148.00,569.05 L148.09,568.67 L148.17,568.29 L148.26,567.90 L148.35,567.52 L148.44,567.13 L148.53,566.74 L148.62,566.34 L148.71,565.95 L148.80,565.55 L148.89,565.15 L148.98,564.75 L149.08,564.35 L149.17,563.95 L149.27,563.54 L149.36,563.13 L149.46,562.73 L149.56,562.32 L149.65,561.90 L149.75,561.49 L149.85,561.08 L149.95,560.66 L150.05,560.24 L150.16,559.82 L150.26,559.40 L150.36,558.98 L150.47,558.56 L150.57,558.13 L150.68,557.71 L150.78,557.28 L150.89,556.85 L151.00,556.42 L151.11,555.99 L151.21,555.56 L151.32,555.13 L151.43,554.69 L151.55,554.26 L151.66,553.82 L151.77,553.39 L151.89,552.95 L152.00,552.51 L152.11,552.07 L152.23,551.63 L152.35,551.19 L152.46,550.74 L152.58,550.30 L152.70,549.86 L152.82,549.41 L152.94,548.97 L153.06,548.52 L153.19,548.07 L153.31,547.62 L153.43,547.17 L153.56,546.73 L153.68,546.28 L153.81,545.83 L153.93,545.37 L154.06,544.92 L154.19,544.47 L154.32,544.02 L154.45,543.57 L154.58,543.11 L154.71,542.66 L154.84,542.20 L154.98,541.75 L155.11,541.30 L155.24,540.84 L155.38,540.39 L155.51,539.93 L155.65,539.48 L155.79,539.02 L155.93,538.56 L156.07,538.11 L156.21,537.65 L156.35,537.20 L156.49,536.74 L156.63,536.28 L156.77,535.83 L156.92,535.37 L157.06,534.92 L157.21,534.46 L157.35,534.00 L157.50,533.55 L157.65,533.09 L157.80,532.64 L157.95,532.18 L158.10,531.73 L158.25,531.28 L158.40,530.82 L158.55,530.37 L158.70,529.91 L158.86,529.46 L159.01,529.01 L159.17,528.56 L159.32,528.10 L159.48,527.65 L159.64,527.20 L159.80,526.75 L159.96,526.30 L160.12,525.85 L160.28,525.41 L160.44,524.96 L160.61,524.51 L160.77,524.06 L160.93,523.62 L161.10,523.17 L161.26,522.73 L161.43,522.28 L161.60,521.84 L161.77,521.40 L161.94,520.96 L162.11,520.52 L162.28,520.08 L162.45,519.64 L162.62,519.20 L162.80,518.77 L162.97,518.33 L163.14,517.90 L163.32,517.46 L163.50,517.03 L163.67,516.60 L163.85,516.17 L164.03,515.74 L164.21,515.31 L164.39,514.88 L164.57,514.46 L164.76,514.03 L164.94,513.61 L165.12,513.18 L165.31,512.76 L165.49,512.34 L165.68,511.92 L165.87,511.51 L166.05,511.09 L166.24,510.68 L166.43,510.26 L166.62,509.85 L166.81,509.44 L167.01,509.03 L167.20,508.62 L167.39,508.22 L167.59,507.81 L167.78,507.41 L167.98,507.00 L168.18,506.60 L168.38,506.20 L168.57,505.81 L168.77,505.41 L168.97,505.02 L169.18,504.62 L169.38,504.23 L169.58,503.84 L169.78,503.45 L169.99,503.07 L170.19,502.68 L170.40,502.30 L170.61,501.92 L170.82,501.54 L171.02,501.16 L171.23,500.78 L171.44,500.41 L171.66,500.04 L171.87,499.67 L172.08,499.30 L172.29,498.93 L172.51,498.56 L172.72,498.20 L172.94,497.84 L173.16,497.48 L173.38,497.12 L173.59,496.76 L173.81,496.41 L174.03,496.06 L174.26,495.71 L174.48,495.36 L174.70,495.01 L174.93,494.67 L175.15,494.32 L175.38,493.98 L175.60,493.64 L175.83,493.31 L176.06,492.97 L176.29,492.64 L176.52,492.31 L176.75,491.98 L176.98,491.65 L177.21,491.33 L177.44,491.00 L177.68,490.68 L177.91,490.36 L178.15,490.05 L178.39,489.73 L178.62,489.42 L178.86,489.11 L179.10,488.80 L179.34,488.49 L179.58,488.19 L179.82,487.89 L180.07,487.59 L180.31,487.29 L180.55,487.00 L180.80,486.70 L181.05,486.41 L181.29,486.12 L181.54,485.83 L181.79,485.55 L182.04,485.27 L182.29,484.99 L182.54,484.71 L182.79,484.43 L183.05,484.16 L183.30,483.89 L183.55,483.62 L183.81,483.35 L184.07,483.09 L184.32,482.82 L184.58,482.56 L184.84,482.30 L185.10,482.05 L185.36,481.79 L185.62,481.54 L185.88,481.29 L186.15,481.05 L186.41,480.80 L186.68,480.56 L186.94,480.32 L187.21,480.08 L187.48,479.85 L187.75,479.61 L188.02,479.38 L188.29,479.15 L188.56,478.92 L188.83,478.70 L189.10,478.48 L189.38,478.26 L189.65,478.04 L189.93,477.82 L190.20,477.61 L190.48,477.40 L190.76,477.19 L191.04,476.98 L191.32,476.78 L191.60,476.58 L191.88,476.38 L192.16,476.18 L192.45,475.99 L192.73,475.79 L193.02,475.60 L193.30,475.41 L193.59,475.23 L193.88,475.04 L194.17,474.86 L194.46,474.68 L194.75,474.51 L195.04,474.33 L195.33,474.16 L195.62,473.99 L195.92,473.82 L196.21,473.65 L196.51,473.49 L196.81,473.33 L197.10,473.17 L197.40,473.01 L197.70,472.86 L198.00,472.71 L198.30,472.56 L198.60,472.41 L198.91,472.26 L199.21,472.12 L199.52,471.98 L199.82,471.84 L200.13,471.70 L200.44,471.57 L200.74,471.43 L201.05,471.30 L201.36,471.17 L201.67,471.05 L201.99,470.92 L202.30,470.80 L202.61,470.68 L202.93,470.57 L203.24,470.45 L203.56,470.34 L203.88,470.23 L204.19,470.12 L204.51,470.01 L204.83,469.91 L205.15,469.80 L205.48,469.70 L205.80,469.61 L206.12,469.51 L206.45,469.42 L206.77,469.32 L207.10,469.23 L207.43,469.15 L207.75,469.06 L208.08,468.98 L208.41,468.90 L208.74,468.82 L209.07,468.74 L209.41,468.66 L209.74,468.59 L210.07,468.52 L210.41,468.45 L210.75,468.38 L211.08,468.32 L211.42,468.25 L211.76,468.19 L212.10,468.13 L212.44,468.08 L212.78,468.02 L213.13,467.97 L213.47,467.92 L213.81,467.87 L214.16,467.82 L214.50,467.78 L214.85,467.73 L215.20,467.69 L215.55,467.65 L215.90,467.61 L216.25,467.58 L216.60,467.54 L216.95,467.51 L217.31,467.48 L217.66,467.45 L218.02,467.43 L218.37,467.40 L218.73,467.38 L219.09,467.36 L219.45,467.34 L219.81,467.32 L220.17,467.31 L220.53,467.30 L220.89,467.28 L221.26,467.27 L221.62,467.27 L221.98,467.26 L222.35,467.25 L222.72,467.25 L223.09,467.25 L223.46,467.25 L223.83,467.25 L224.20,467.26 L224.57,467.26 L224.94,467.27 L225.31,467.28 L225.69,467.29 L226.06,467.31 L226.44,467.32 L226.82,467.34 L227.20,467.35 L227.58,467.37 L227.96,467.39 L228.34,467.42 L228.72,467.44 L229.10,467.47 L229.49,467.50 L229.87,467.52 L230.26,467.56 L230.64,467.59 L231.03,467.62 L231.42,467.66 L231.81,467.69 L232.20,467.73 L232.59,467.77 L232.98,467.82 L233.37,467.86 L233.77,467.90 L234.16,467.95 L234.56,468.00 L234.96,468.05 L235.35,468.10 L235.75,468.15 L236.15,468.20 L236.55,468.26 L236.95,468.32 L237.36,468.37 L237.76,468.43 L238.16,468.49 L238.57,468.56 L238.98,468.62 L239.38,468.69 L239.79,468.75 L240.20,468.82 L240.61,468.89 L241.02,468.96 L241.43,469.03 L241.84,469.11 L242.26,469.18 L242.67,469.26 L243.09,469.33 L243.51,469.41 L243.92,469.49 L244.34,469.57 L244.76,469.66 L245.18,469.74 L245.60,469.82 L246.02,469.91 L246.45,470.00 L246.87,470.09 L247.30,470.18 L247.72,470.27 L248.15,470.36 L248.58,470.45 L249.00,470.55 L249.43,470.64 L249.86,470.74 L250.30,470.84 L250.73,470.94 L251.16,471.04 L251.60,471.14 L252.03,471.24 L252.47,471.35 L252.90,471.45 L253.34,471.56 L253.78,471.67 L254.22,471.78 L254.66,471.89 L255.10,472.00 L255.55,472.11 L255.99,472.22 L256.44,472.33 L256.88,472.45 L257.33,472.56 L257.78,472.68 L258.22,472.80 L258.67,472.92 L259.12,473.04 L259.58,473.16 L260.03,473.28 L260.48,473.40 L260.94,473.53 L261.39,473.65 L261.85,473.78 L262.30,473.90 L262.76,474.03 L263.22,474.16 L263.68,474.29 L264.14,474.42 L264.60,474.55 L265.07,474.68 L265.53,474.82 L266.00,474.95 L266.46,475.08 L266.93,475.22 L267.40,475.36 L267.86,475.49 L268.33,475.63 L268.80,475.77 L269.28,475.91 L269.75,476.05 L270.22,476.19 L270.70,476.33 L271.17,476.48 L271.65,476.62 L272.12,476.76 L272.60,476.91 L273.08,477.06 L273.56,477.20 L274.04,477.35 L274.52,477.50 L275.01,477.65 L275.49,477.80 L275.98,477.95 L276.46,478.10 L276.95,478.25 L277.44,478.40 L277.93,478.56 L278.42,478.71 L278.91,478.86 L279.40,479.02 L279.89,479.18 L280.38,479.33 L280.88,479.49 L281.37,479.65 L281.87,479.80 L282.37,479.96 L282.87,480.12 L283.37,480.28 L283.87,480.44 L284.37,480.61 L284.87,480.77 L285.37,480.93 L285.88,481.09 L286.38,481.26 L286.89,481.42 L287.40,481.59 L287.90,481.75 L288.41,481.92 L288.92,482.08 L289.43,482.25 L289.95,482.42 L290.46,482.59 L290.97,482.75 L291.49,482.92 L292.00,483.09 L292.52,483.26 L293.04,483.43 L293.56,483.60 L294.08,483.77 L294.60,483.95 L295.12,484.12 L295.64,484.29 L296.16,484.46 L296.69,484.64 L297.22,484.81 L297.74,484.99 L298.27,485.16 L298.80,485.34 L299.33,485.51 L299.86,485.69 L300.39,485.86 L300.92,486.04 L301.46,486.22 L301.99,486.40 L302.52,486.57 L303.06,486.75 L303.60,486.93 L304.14,487.11 L304.68,487.29 L305.22,487.47 L305.76,487.65 L306.30,487.83 L306.84,488.01 L307.39,488.19 L307.93,488.37 L308.48,488.55 L309.03,488.74 L309.57,488.92 L310.12,489.10 L310.67,489.28 L311.22,489.47 L311.78,489.65 L312.33,489.83 L312.88,490.02 L313.44,490.20 L313.99,490.39 L314.55,490.57 L315.11,490.76 L315.67,490.94 L316.23,491.13 L316.79,491.31 L317.35,491.50 L317.91,491.68 L318.48,491.87 L319.04,492.06 L319.61,492.24 L320.17,492.43 L320.74,492.62 L321.31,492.80 L321.88,492.99 L322.45,493.18 L323.02,493.37 L323.60,493.55 L324.17,493.74 L324.74,493.93 L325.32,494.12 L325.90,494.31 L326.48,494.50 L327.05,494.69 L327.63,494.87 L328.21,495.06 L328.80,495.25 L329.38,495.44 L329.96,495.63 L330.55,495.82 L331.13,496.01 L331.72,496.20 L332.31,496.39 L332.90,496.58 L333.49,496.77 L334.08,496.96 L334.67,497.15 L335.26,497.34 L335.85,497.53 L336.45,497.72 L337.04,497.91 L337.64,498.10 L338.24,498.29 L338.84,498.49 L339.44,498.68 L340.04,498.87 L340.64,499.06 L341.24,499.25 L341.84,499.44 L342.45,499.63 L343.05,499.82 L343.66,500.01 L344.27,500.20 L344.88,500.40 L345.49,500.59 L346.10,500.78 L346.71,500.97 L347.32,501.16 L347.94,501.35 L348.55,501.54 L349.17,501.73 L349.78,501.93 L350.40,502.12 L351.02,502.31 L351.64,502.50 L352.26,502.69 L352.88,502.88 L353.50,503.07 L354.13,503.26 L354.75,503.45 L355.38,503.64 L356.00,503.84 L356.63,504.03 L357.26,504.22 L357.89,504.41 L358.52,504.60 L359.15,504.79 L359.78,504.98 L360.42,505.17 L361.05,505.36 L361.69,505.55 L362.32,505.74 L362.96,505.93 L363.60,506.12 L364.24,506.31 L364.88,506.50 L365.52,506.69 L366.17,506.88 L366.81,507.07 L367.45,507.26 L368.10,507.45 L368.75,507.64 L369.39,507.83 L370.04,508.02 L370.69,508.21 L371.34,508.40 L372.00,508.59 L372.65,508.78 L373.30,508.96 L373.96,509.15 L374.61,509.34 L375.27,509.53 L375.93,509.72 L376.59,509.91 L377.25,510.09 L377.91,510.28 L378.57,510.47 L379.23,510.66 L379.90,510.85 L380.56,511.03 L381.23,511.22 L381.89,511.41 L382.56,511.59 L383.23,511.78 L383.90,511.97 L384.57,512.15 L385.24,512.34 L385.92,512.53 L386.59,512.71 L387.27,512.90 L387.94,513.08 L388.62,513.27 L389.30,513.45 L389.98,513.64 L390.66,513.82 L391.34,514.01 L392.02,514.19 L392.70,514.38 L393.39,514.56 L394.07,514.74 L394.76,514.93 L395.45,515.11 L396.14,515.30 L396.83,515.48 L397.52,515.66 L398.21,515.84 L398.90,516.03 L399.59,516.21 L400.29,516.39 L400.98,516.57 L401.68,516.76 L402.38,516.94 L403.08,517.12 L403.78,517.30 L404.48,517.48 L405.18,517.66 L405.88,517.84 L406.58,518.02 L407.29,518.20 L407.99,518.38 L408.70,518.56 L409.41,518.74 L410.12,518.92 L410.83,519.10 L411.54,519.28 L412.25,519.46 L412.96,519.63 L413.68,519.81 L414.39,519.99 L415.11,520.17 L415.83,520.35 L416.54,520.52 L417.26,520.70 L417.98,520.88 L418.70,521.05 L419.43,521.23 L420.15,521.40 L420.87,521.58 L421.60,521.76 L422.33,521.93 L423.05,522.11 L423.78,522.28 L424.51,522.45 L425.24,522.63 L425.97,522.80 L426.70,522.98 L427.44,523.15 L428.17,523.32 L428.91,523.50 L429.65,523.67 L430.38,523.84 L431.12,524.01 L431.86,524.18 L432.60,524.36 L433.34,524.53 L434.09,524.70 L434.83,524.87 L435.58,525.04 L436.32,525.21 L437.07,525.38 L437.82,525.55 L438.56,525.72 L439.31,525.89 L440.07,526.06 L440.82,526.23 L441.57,526.39 L442.33,526.56 L443.08,526.73 L443.84,526.90 L444.59,527.07 L445.35,527.23 L446.11,527.40 L446.87,527.57 L447.63,527.73 L448.40,527.90 L449.16,528.06 L449.92,528.23 L450.69,528.39 L451.46,528.56 L452.22,528.72 L452.99,528.89 L453.76,529.05 L454.53,529.21 L455.31,529.38 L456.08,529.54 L456.85,529.70 L457.63,529.87 L458.40,530.03 L459.18,530.19 L459.96,530.35 L460.74,530.51 L461.52,530.67 L462.30,530.83 L463.08,530.99 L463.86,531.15 L464.65,531.31 L465.43,531.47 L466.22,531.63 L467.01,531.79 L467.80,531.95 L468.59,532.11 L469.38,532.27 L470.17,532.43 L470.96,532.58 L471.75,532.74 L472.55,532.90 L473.35,533.05 L474.14,533.21 L474.94,533.37 L475.74,533.52 L476.54,533.68 L477.34,533.83 L478.14,533.99 L478.95,534.14 L479.75,534.30 L480.55,534.45 L481.36,534.60 L482.17,534.76 L482.98,534.91 L483.79,535.06 L484.60,535.21 L485.41,535.37 L486.22,535.52 L487.03,535.67 L487.85,535.82 L488.66,535.97 L489.48,536.12 L490.30,536.27 L491.12,536.42 L491.94,536.57 L492.76,536.72 L493.58,536.87 L494.40,537.02 L495.23,537.17 L496.05,537.32 L496.88,537.46 L497.71,537.61 L498.54,537.76 L499.37,537.90 L500.20,538.05 L501.03,538.20 L501.86,538.34 L502.69,538.49 L503.53,538.63 L504.36,538.78 L505.20,538.92 L506.04,539.07 L506.88,539.21 L507.72,539.36 L508.56,539.50 L509.40,539.64 L510.24,539.79 L511.09,539.93 L511.93,540.07 L512.78,540.21 L513.63,540.35 L514.47,540.50 L515.32,540.64 L516.17,540.78 L517.03,540.92 L517.88,541.06 L518.73,541.20 L519.59,541.34 L520.44,541.48 L521.30,541.62 L522.16,541.75 L523.02,541.89 L523.88,542.03 L524.74,542.17 L525.60,542.31 L526.46,542.44 L527.33,542.58 L528.19,542.72 L529.06,542.85 L529.93,542.99 L530.79,543.12 L531.66,543.26 L532.53,543.39 L533.41,543.53 L534.28,543.66 L535.15,543.80 L536.03,543.93 L536.90,544.06 L537.78,544.20 L538.66,544.33 L539.54,544.46 L540.42,544.60 L541.30,544.73 L542.18,544.86 L543.06,544.99 L543.95,545.12 L544.83,545.25 L545.72,545.38 L546.61,545.51 L547.50,545.64 L548.39,545.77 L549.28,545.90 L550.17,546.03 L551.06,546.16 L551.96,546.29 L552.85,546.41 L553.75,546.54 L554.65,546.67 L555.54,546.80 L556.44,546.92 L557.34,547.05 L558.24,547.18 L559.15,547.30 L560.05,547.43 L560.96,547.55 L561.86,547.68 L562.77,547.80 L563.68,547.93 L564.59,548.05 L565.50,548.18 L566.41,548.30 L567.32,548.42 L568.23,548.55 L569.15,548.67 L570.06,548.79 L570.98,548.91 L571.90,549.03 L572.81,549.16 L573.73,549.28 L574.65,549.40 L575.58,549.52 L576.50,549.64 L577.42,549.76 L578.35,549.88 L579.27,550.00 L580.20,550.12 L581.13,550.24 L582.06,550.35 L582.99,550.47 L583.92,550.59 L584.85,550.71 L585.79,550.83 L586.72,550.94 L587.66,551.06 L588.59,551.18 L589.53,551.29 L590.47,551.41 L591.41,551.52 L592.35,551.64 L593.29,551.75 L594.24,551.87 L595.18,551.98 L596.13,552.10 L597.07,552.21 L598.02,552.33 L598.97,552.44 L599.92,552.55 L600.87,552.67 L601.82,552.78 L602.78,552.89 L603.73,553.00 L604.68,553.11 L605.64,553.23 L606.60,553.34 L607.56,553.45 L608.52,553.56 L609.48,553.67 L610.44,553.78 L611.40,553.89 L612.36,554.00 L613.33,554.11 L614.29,554.22 L615.26,554.32 L616.23,554.43 L617.20,554.54 L618.17,554.65 L619.14,554.76 L620.11,554.86 L621.09,554.97 L622.06,555.08 L623.04,555.18 L624.01,555.29 L624.99,555.40 L625.97,555.50 L626.95,555.61 L627.93,555.71 L628.91,555.82 L629.90,555.92 L630.88,556.03 L631.87,556.13 L632.85,556.23 L633.84,556.34 L634.83,556.44 L635.82,556.54 L636.81,556.65 L637.80,556.75 L638.79,556.85 L639.79,556.95 L640.78,557.05 L641.78,557.16 L642.78,557.26 L643.77,557.36 L644.77,557.46 L645.77,557.56 L646.78,557.66 L647.78,557.76 L648.78,557.86 L649.79,557.96 L650.79,558.06 L651.80,558.16 L652.81,558.25 L653.82,558.35 L654.83,558.45 L655.84,558.55 L656.85,558.65 L657.87,558.74 L658.88,558.84 L659.90,558.94 L660.91,559.03 L661.93,559.13 L662.95,559.23 L663.97,559.32 L664.99,559.42 L666.01,559.51 L667.04,559.61 L668.06,559.70 L669.09,559.80 L670.11,559.89 L671.14,559.99 L672.17,560.08 L673.20,560.17 L674.23,560.27 L675.26,560.36 L676.30,560.45 L677.33,560.54 L678.37,560.64 L679.40,560.73 L680.44,560.82 L681.48,560.91 L682.52,561.00 L683.56,561.09 L684.60,561.18 L685.64,561.28 L686.69,561.37 L687.73,561.46 L688.78,561.55 L689.83,561.64 L690.88,561.72 L691.93,561.81 L692.98,561.90 L694.03,561.99 L695.08,562.08 L696.14,562.17 L697.19,562.26 L698.25,562.34 L699.30,562.43 L700.36,562.52 L701.42,562.61 L702.48,562.69 L703.54,562.78 L704.61,562.87 L705.67,562.95 L706.74,563.04 L707.80,563.12 L708.87,563.21 L709.94,563.29 L711.01,563.38 L712.08,563.46 L713.15,563.55 L714.22,563.63 L715.29,563.72 L716.37,563.80 L717.45,563.88 L718.52,563.97 L719.60,564.05 L720.68,564.13 L721.76,564.22 L722.84,564.30 L723.92,564.38 L725.01,564.46 L726.09,564.54 L727.18,564.63 L728.27,564.71 L729.35,564.79 L730.44,564.87 L731.53,564.95 L732.62,565.03 L733.72,565.11 L734.81,565.19 L735.91,565.27 L737.00,565.35 L738.10,565.43 L739.20,565.51 L740.29,565.59 L741.39,565.67 L742.50,565.75 L743.60,565.82 L744.70,565.90 L745.81,565.98 L746.91,566.06 L748.02,566.14 L749.13,566.21 L750.24,566.29 L751.35,566.37 L752.46,566.44 L753.57,566.52 L754.68,566.60 L755.80,566.67 L756.91,566.75 L758.03,566.82 L759.15,566.90 L760.27,566.97 L761.39,567.05 L762.51,567.12 L763.63,567.20 L764.75,567.27 L765.88,567.35 L767.00,567.42 L768.13,567.50 L769.26,567.57 L770.39,567.64 L771.52,567.72 L772.65,567.79 L773.78,567.86 L774.91,567.93 L776.05,568.01 L777.18,568.08 L778.32,568.15 L779.46,568.22 L780.60,568.29 L781.74,568.37 L782.88,568.44 L784.02,568.51 L785.16,568.58 L786.31,568.65 L787.45,568.72 L788.60,568.79 L789.75,568.86 L790.90,568.93 L792.05,569.00 L793.20,569.07 L794.35,569.14 L795.50,569.21 L796.66,569.28 L797.81,569.34 L798.97,569.41 L800.13,569.48 L801.29,569.55 L802.45,569.62 L803.61,569.69 L804.77,569.75 L805.93,569.82 L807.10,569.89 L808.26,569.96 L809.43,570.02 L810.60,570.09 L811.77,570.16 L812.94,570.22 L814.11,570.29 L815.28,570.35 L816.45,570.42 L817.63,570.49 L818.81,570.55 L819.98,570.62 L821.16,570.68 L822.34,570.75 L823.52,570.81 L824.70,570.88 L825.88,570.94 L827.07,571.00 L828.25,571.07 L829.44,571.13 L830.62,571.20 L831.81,571.26 L833.00,571.32 L834.19,571.38 L835.38,571.45 L836.57,571.51 L837.77,571.57 L838.96,571.64 L840.16,571.70 L841.35,571.76 L842.55,571.82 L843.75,571.88 L844.95,571.95 L846.15,572.01 L847.36,572.07 L848.56,572.13 L849.76,572.19 L850.97,572.25 L852.18,572.31 L853.38,572.37 L854.59,572.43 L855.80,572.49 L857.02,572.55 L858.23,572.61 L859.44,572.67 L860.66,572.73 L861.87,572.79 L863.09,572.85 L864.31,572.91 L865.53,572.97 L866.75,573.03 L867.97,573.08 L869.19,573.14 L870.41,573.20 L871.64,573.26 L872.87,573.32 L874.09,573.37 L875.32,573.43 L876.55,573.49 L877.78,573.55 L879.01,573.60 L880.25,573.66 L881.48,573.72 L882.71,573.77 L883.95,573.83 L885.19,573.89 L886.43,573.94 L887.67,574.00 L888.91,574.05 L890.15,574.11 L891.39,574.16 L892.63,574.22 L893.88,574.27 L895.13,574.33 L896.37,574.38 L897.62,574.44 L898.87,574.49 L900.12,574.55 L901.37,574.60 L902.63,574.66 L903.88,574.71 L905.14,574.76 L906.39,574.82 L907.65,574.87 L908.91,574.92 L910.17,574.98 L911.43,575.03 L912.69,575.08 L913.96,575.14 L915.22,575.19 L916.48,575.24 L917.75,575.29 L919.02,575.35 L920.29,575.40 L921.56,575.45 L922.83,575.50 L924.10,575.55 L925.37,575.61 L926.65,575.66 L927.92,575.71 L929.20,575.76 L930.48,575.81 L931.76,575.86 L933.04,575.91 L934.32,575.96 L935.60,576.01 L936.89,576.06 L938.17,576.11 L939.46,576.16 L940.74,576.21 L942.03,576.26 L943.32,576.31 L944.61,576.36 L945.90,576.41 L947.19,576.46 L948.49,576.51 L949.78,576.56 L951.08,576.61 L952.38,576.65 L953.67,576.70 L954.97,576.75 L956.27,576.80 L957.58,576.85 L958.88,576.90 L960.18,576.94 L961.49,576.99 L962.79,577.04 L964.10,577.09 L965.41,577.13 L966.72,577.18 L968.03,577.23 L969.34,577.27 L970.66,577.32 L971.97,577.37 L973.28,577.41 L974.60,577.46 L975.92,577.51 L977.24,577.55 L978.56,577.60 L979.88,577.65 L981.20,577.69 L982.52,577.74 L983.85,577.78 L985.17,577.83 L986.50,577.87" stroke="#000000"/>
<path d="M142.50,596.45 L142.50,596.45 L142.50,596.45 L142.50,596.44 L142.50,596.44 L142.50,596.43 L142.51,596.42 L142.51,596.40 L142.51,596.39 L142.51,596.37 L142.52,596.35 L142.52,596.33 L142.52,596.30 L142.53,596.27 L142.53,596.24 L142.54,596.21 L142.55,596.17 L142.55,596.13 L142.56,596.09 L142.57,596.04 L142.57,596.00 L142.58,595.94 L142.59,595.89 L142.60,595.83 L142.61,595.77 L142.62,595.71 L142.63,595.64 L142.64,595.57 L142.65,595.50 L142.67,595.42 L142.68,595.35 L142.69,595.26 L142.71,595.18 L142.72,595.09 L142.74,595.00 L142.75,594.90 L142.77,594.80 L142.79,594.70 L142.80,594.60 L142.82,594.49 L142.84,594.38 L142.86,594.26 L142.88,594.14 L142.90,594.02 L142.92,593.90 L142.94,593.77 L142.96,593.64 L142.98,593.50 L143.01,593.36 L143.03,593.22 L143.05,593.08 L143.08,592.93 L143.10,592.77 L143.13,592.62 L143.16,592.46 L143.18,592.30 L143.21,592.13 L143.24,591.96 L143.27,591.79 L143.30,591.62 L143.33,591.44 L143.36,591.25 L143.39,591.07 L143.42,590.88 L143.45,590.69 L143.49,590.49 L143.52,590.29 L143.55,590.09 L143.59,589.88 L143.62,589.67 L143.66,589.46 L143.70,589.24 L143.74,589.02 L143.77,588.80 L143.81,588.57 L143.85,588.34 L143.89,588.11 L143.93,587.87 L143.97,587.63 L144.01,587.39 L144.06,587.14 L144.10,586.89 L144.14,586.64 L144.19,586.38 L144.23,586.12 L144.28,585.86 L144.33,585.59 L144.37,585.32 L144.42,585.05 L144.47,584.77 L144.52,584.50 L144.57,584.21 L144.62,583.93 L144.67,583.64 L144.72,583.35 L144.77,583.05 L144.83,582.75 L144.88,582.45 L144.93,582.15 L144.99,581.84 L145.04,581.53 L145.10,581.21 L145.16,580.90 L145.22,580.58 L145.27,580.25 L145.33,579.93 L145.39,579.60 L145.45,579.27 L145.51,578.93 L145.58,578.60 L145.64,578.25 L145.70,577.91 L145.76,577.56 L145.83,577.22 L145.89,576.86 L145.96,576.51 L146.03,576.15 L146.09,575.79 L146.16,575.43 L146.23,575.06 L146.30,574.69 L146.37,574.32 L146.44,573.95 L146.51,573.57 L146.58,573.19 L146.66,572.81 L146.73,572.42 L146.80,572.04 L146.88,571.65 L146.95,571.25 L147.03,570.86 L147.11,570.46 L147.19,570.06 L147.26,569.66 L147.34,569.26 L147.42,568.85 L147.50,568.44 L147.59,568.03 L147.67,567.62 L147.75,567.20 L147.83,566.78 L147.92,566.36 L148.00,565.94 L148.09,565.51 L148.17,565.09 L148.26,564.66 L148.35,564.23 L148.44,563.79 L148.53,563.36 L148.62,562.92 L148.71,562.48 L148.80,562.04 L148.89,561.59 L148.98,561.15 L149.08,560.70 L149.17,560.25 L149.27,559.80 L149.36,559.35 L149.46,558.90 L149.56,558.44 L149.65,557.98 L149.75,557.52 L149.85,557.06 L149.95,556.60 L150.05,556.13 L150.16,555.67 L150.26,555.20 L150.36,554.73 L150.47,554.26 L150.57,553.79 L150.68,553.32 L150.78,552.84 L150.89,552.37 L151.00,551.89 L151.11,551.41 L151.21,550.93 L151.32,550.45 L151.43,549.97 L151.55,549.48 L151.66,549.00 L151.77,548.51 L151.89,548.02 L152.00,547.54 L152.11,547.05 L152.23,546.56 L152.35,546.07 L152.46,545.57 L152.58,545.08 L152.70,544.59 L152.82,544.09 L152.94,543.60 L153.06,543.10 L153.19,542.61 L153.31,542.11 L153.43,541.61 L153.56,541.11 L153.68,540.61 L153.81,540.11 L153.93,539.61 L154.06,539.11 L154.19,538.61 L154.32,538.10 L154.45,537.60 L154.58,537.10 L154.71,536.59 L154.84,536.09 L154.98,535.59 L155.11,535.08 L155.24,534.58 L155.38,534.07 L155.51,533.56 L155.65,533.06 L155.79,532.55 L155.93,532.05 L156.07,531.54 L156.21,531.04 L156.35,530.53 L156.49,530.02 L156.63,529.52 L156.77,529.01 L156.92,528.50 L157.06,528.00 L157.21,527.49 L157.35,526.99 L157.50,526.48 L157.65,525.98 L157.80,525.47 L157.95,524.97 L158.10,524.46 L158.25,523.96 L158.40,523.46 L158.55,522.95 L158.70,522.45 L158.86,521.95 L159.01,521.45 L159.17,520.94 L159.32,520.44 L159.48,519.94 L159.64,519.44 L159.80,518.94 L159.96,518.45 L160.12,517.95 L160.28,517.45 L160.44,516.95 L160.61,516.46 L160.77,515.96 L160.93,515.47 L161.10,514.98 L161.26,514.48 L161.43,513.99 L161.60,513.50 L161.77,513.01 L161.94,512.52 L162.11,512.04 L162.28,511.55 L162.45,511.06 L162.62,510.58 L162.80,510.09 L162.97,509.61 L163.14,509.13 L163.32,508.65 L163.50,508.17 L163.67,507.69 L163.85,507.22 L164.03,506.74 L164.21,506.27 L164.39,505.79 L164.57,505.32 L164.76,504.85 L164.94,504.38 L165.12,503.91 L165.31,503.45 L165.49,502.98 L165.68,502.52 L165.87,502.06 L166.05,501.60 L166.24,501.14 L166.43,500.68 L166.62,500.22 L166.81,499.77 L167.01,499.32 L167.20,498.87 L167.39,498.42 L167.59,497.97 L167.78,497.52 L167.98,497.08 L168.18,496.63 L168.38,496.19 L168.57,495.75 L168.77,495.32 L168.97,494.88 L169.18,494.45 L169.38,494.01 L169.58,493.58 L169.78,493.15 L169.99,492.73 L170.19,492.30 L170.40,491.88 L170.61,491.46 L170.82,491.04 L171.02,490.62 L171.23,490.20 L171.44,489.79 L171.66,489.38 L171.87,488.97 L172.08,488.56 L172.29,488.16 L172.51,487.75 L172.72,487.35 L172.94,486.95 L173.16,486.55 L173.38,486.16 L173.59,485.77 L173.81,485.37 L174.03,484.99 L174.26,484.60 L174.48,484.21 L174.70,483.83 L174.93,483.45 L175.15,483.07 L175.38,482.70 L175.60,482.32 L175.83,481.95 L176.06,481.58 L176.29,481.22 L176.52,480.85 L176.75,480.49 L176.98,480.13 L177.21,479.77 L177.44,479.41 L177.68,479.06 L177.91,478.71 L178.15,478.36 L178.39,478.01 L178.62,477.67 L178.86,477.33 L179.10,476.99 L179.34,476.65 L179.58,476.32 L179.82,475.98 L180.07,475.65 L180.31,475.33 L180.55,475.00 L180.80,474.68 L181.05,474.36 L181.29,474.04 L181.54,473.72 L181.79,473.41 L182.04,473.10 L182.29,472.79 L182.54,472.48 L182.79,472.18 L183.05,471.88 L183.30,471.58 L183.55,471.29 L183.81,470.99 L184.07,470.70 L184.32,470.41 L184.58,470.13 L184.84,469.84 L185.10,469.56 L185.36,469.28 L185.62,469.01 L185.88,468.73 L186.15,468.46 L186.41,468.19 L186.68,467.93 L186.94,467.66 L187.21,467.40 L187.48,467.14 L187.75,466.89 L188.02,466.63 L188.29,466.38 L188.56,466.13 L188.83,465.89 L189.10,465.64 L189.38,465.40 L189.65,465.16 L189.93,464.93 L190.20,464.69 L190.48,464.46 L190.76,464.23 L191.04,464.01 L191.32,463.78 L191.60,463.56 L191.88,463.34 L192.16,463.13 L192.45,462.91 L192.73,462.70 L193.02,462.49 L193.30,462.29 L193.59,462.08 L193.88,461.88 L194.17,461.68 L194.46,461.49 L194.75,461.29 L195.04,461.10 L195.33,460.91 L195.62,460.73 L195.92,460.54 L196.21,460.36 L196.51,460.18 L196.81,460.01 L197.10,459.84 L197.40,459.66 L197.70,459.50 L198.00,459.33 L198.30,459.17 L198.60,459.00 L198.91,458.84 L199.21,458.69 L199.52,458.53 L199.82,458.38 L200.13,458.23 L200.44,458.09 L200.74,457.94 L201.05,457.80 L201.36,457.66 L201.67,457.52 L201.99,457.39 L202.30,457.26 L202.61,457.13 L202.93,457.00 L203.24,456.87 L203.56,456.75 L203.88,456.63 L204.19,456.51 L204.51,456.40 L204.83,456.28 L205.15,456.17 L205.48,456.07 L205.80,455.96 L206.12,455.86 L206.45,455.75 L206.77,455.65 L207.10,455.56 L207.43,455.46 L207.75,455.37 L208.08,455.28 L208.41,455.19 L208.74,455.11 L209.07,455.02 L209.41,454.94 L209.74,454.86 L210.07,454.79 L210.41,454.71 L210.75,454.64 L211.08,454.57 L211.42,454.50 L211.76,454.44 L212.10,454.38 L212.44,454.31 L212.78,454.26 L213.13,454.20 L213.47,454.14 L213.81,454.09 L214.16,454.04 L214.50,453.99 L214.85,453.95 L215.20,453.90 L215.55,453.86 L215.90,453.82 L216.25,453.79 L216.60,453.75 L216.95,453.72 L217.31,453.69 L217.66,453.66 L218.02,453.63 L218.37,453.61 L218.73,453.58 L219.09,453.56 L219.45,453.54 L219.81,453.53 L220.17,453.51 L220.53,453.50 L220.89,453.49 L221.26,453.48 L221.62,453.47 L221.98,453.47 L222.35,453.46 L222.72,453.46 L223.09,453.46 L223.46,453.47 L223.83,453.47 L224.20,453.48 L224.57,453.49 L224.94,453.50 L225.31,453.51 L225.69,453.52 L226.06,453.54 L226.44,453.56 L226.82,453.58 L227.20,453.60 L227.58,453.62 L227.96,453.65 L228.34,453.67 L228.72,453.70 L229.10,453.73 L229.49,453.76 L229.87,453.80 L230.26,453.83 L230.64,453.87 L231.03,453.91 L231.42,453.95 L231.81,453.99 L232.20,454.04 L232.59,454.08 L232.98,454.13 L233.37,454.18 L233.77,454.23 L234.16,454.29 L234.56,454.34 L234.96,454.40 L235.35,454.45 L235.75,454.51 L236.15,454.57 L236.55,454.64 L236.95,454.70 L237.36,454.77 L237.76,454.83 L238.16,454.90 L238.57,454.97 L238.98,455.04 L239.38,455.12 L239.79,455.19 L240.20,455.27 L240.61,455.35 L241.02,455.42 L241.43,455.51 L241.84,455.59 L242.26,455.67 L242.67,455.76 L243.09,455.84 L243.51,455.93 L243.92,456.02 L244.34,456.11 L244.76,456.20 L245.18,456.30 L245.60,456.39 L246.02,456.49 L246.45,456.59 L246.87,456.69 L247.30,456.79 L247.72,456.89 L248.15,456.99 L248.58,457.10 L249.00,457.20 L249.43,457.31 L249.86,457.42 L250.30,457.53 L250.73,457.64 L251.16,457.75 L251.60,457.86 L252.03,457.98 L252.47,458.09 L252.90,458.21 L253.34,458.33 L253.78,458.45 L254.22,458.57 L254.66,458.69 L255.10,458.81 L255.55,458.94 L255.99,459.06 L256.44,459.19 L256.88,459.31 L257.33,459.44 L257.78,459.57 L258.22,459.70 L258.67,459.84 L259.12,459.97 L259.58,460.10 L260.03,460.24 L260.48,460.37 L260.94,460.51 L261.39,460.65 L261.85,460.79 L262.30,460.93 L262.76,461.07 L263.22,461.21 L263.68,461.36 L264.14,461.50 L264.60,461.65 L265.07,461.79 L265.53,461.94 L266.00,462.09 L266.46,462.24 L266.93,462.39 L267.40,462.54 L267.86,462.69 L268.33,462.84 L268.80,463.00 L269.28,463.15 L269.75,463.31 L270.22,463.46 L270.70,463.62 L271.17,463.78 L271.65,463.94 L272.12,464.10 L272.60,464.26 L273.08,464.42 L273.56,464.58 L274.04,464.74 L274.52,464.91 L275.01,465.07 L275.49,465.24 L275.98,465.40 L276.46,465.57 L276.95,465.74 L277.44,465.91 L277.93,466.08 L278.42,466.25 L278.91,466.42 L279.40,466.59 L279.89,466.76 L280.38,466.93 L280.88,467.11 L281.37,467.28 L281.87,467.45 L282.37,467.63 L282.87,467.81 L283.37,467.98 L283.87,468.16 L284.37,468.34 L284.87,468.52 L285.37,468.70 L285.88,468.88 L286.38,469.06 L286.89,469.24 L287.40,469.42 L287.90,469.60 L288.41,469.79 L288.92,469.97 L289.43,470.15 L289.95,470.34 L290.46,470.52 L290.97,470.71 L291.49,470.89 L292.00,471.08 L292.52,471.27 L293.04,471.46 L293.56,471.65 L294.08,471.83 L294.60,472.02 L295.12,472.21 L295.64,472.40 L296.16,472.59 L296.69,472.79 L297.22,472.98 L297.74,473.17 L298.27,473.36 L298.80,473.56 L299.33,473.75 L299.86,473.94 L300.39,474.14 L300.92,474.33 L301.46,474.53 L301.99,474.72 L302.52,474.92 L303.06,475.12 L303.60,475.31 L304.14,475.51 L304.68,475.71 L305.22,475.90 L305.76,476.10 L306.30,476.30 L306.84,476.50 L307.39,476.70 L307.93,476.90 L308.48,477.10 L309.03,477.30 L309.57,477.50 L310.12,477.70 L310.67,477.90 L311.22,478.10 L311.78,478.31 L312.33,478.51 L312.88,478.71 L313.44,478.91 L313.99,479.12 L314.55,479.32 L315.11,479.52 L315.67,479.73 L316.23,479.93 L316.79,480.13 L317.35,480.34 L317.91,480.54 L318.48,480.75 L319.04,480.95 L319.61,481.16 L320.17,481.37 L320.74,481.57 L321.31,481.78 L321.88,481.98 L322.45,482.19 L323.02,482.40 L323.60,482.60 L324.17,482.81 L324.74,483.02 L325.32,483.22 L325.90,483.43 L326.48,483.64 L327.05,483.85 L327.63,484.06 L328.21,484.26 L328.80,484.47 L329.38,484.68 L329.96,484.89 L330.55,485.10 L331.13,485.31 L331.72,485.51 L332.31,485.72 L332.90,485.93 L333.49,486.14 L334.08,486.35 L334.67,486.56 L335.26,486.77 L335.85,486.98 L336.45,487.19 L337.04,487.40 L337.64,487.61 L338.24,487.82 L338.84,488.03 L339.44,488.24 L340.04,488.45 L340.64,488.66 L341.24,488.87 L341.84,489.08 L342.45,489.29 L343.05,489.50 L343.66,489.71 L344.27,489.92 L344.88,490.13 L345.49,490.34 L346.10,490.55 L346.71,490.76 L347.32,490.97 L347.94,491.18 L348.55,491.39 L349.17,491.60 L349.78,491.81 L350.40,492.02 L351.02,492.23 L351.64,492.44 L352.26,492.65 L352.88,492.86 L353.50,493.07 L354.13,493.28 L354.75,493.49 L355.38,493.70 L356.00,493.91 L356.63,494.12 L357.26,494.33 L357.89,494.54 L358.52,494.75 L359.15,494.96 L359.78,495.17 L360.42,495.38 L361.05,495.59 L361.69,495.80 L362.32,496.01 L362.96,496.22 L363.60,496.43 L364.24,496.64 L364.88,496.85 L365.52,497.05 L366.17,497.26 L366.81,497.47 L367.45,497.68 L368.10,497.89 L368.75,498.10 L369.39,498.31 L370.04,498.51 L370.69,498.72 L371.34,498.93 L372.00,499.14 L372.65,499.35 L373.30,499.55 L373.96,499.76 L374.61,499.97 L375.27,500.17 L375.93,500.38 L376.59,500.59 L377.25,500.80 L377.91,501.00 L378.57,501.21 L379.23,501.41 L379.90,501.62 L380.56,501.83 L381.23,502.03 L381.89,502.24 L382.56,502.44 L383.23,502.65 L383.90,502.85 L384.57,503.06 L385.24,503.26 L385.92,503.47 L386.59,503.67 L387.27,503.88 L387.94,504.08 L388.62,504.29 L389.30,504.49 L389.98,504.69 L390.66,504.90 L391.34,505.10 L392.02,505.30 L392.70,505.51 L393.39,505.71 L394.07,505.91 L394.76,506.11 L395.45,506.31 L396.14,506.52 L396.83,506.72 L397.52,506.92 L398.21,507.12 L398.90,507.32 L399.59,507.52 L400.29,507.72 L400.98,507.92 L401.68,508.12 L402.38,508.32 L403.08,508.52 L403.78,508.72 L404.48,508.92 L405.18,509.12 L405.88,509.32 L406.58,509.52 L407.29,509.71 L407.99,509.91 L408.70,510.11 L409.41,510.31 L410.12,510.51 L410.83,510.70 L411.54,510.90 L412.25,511.10 L412.96,511.29 L413.68,511.49 L414.39,511.68 L415.11,511.88 L415.83,512.07 L416.54,512.27 L417.26,512.46 L417.98,512.66 L418.70,512.85 L419.43,513.05 L420.15,513.24 L420.87,513.43 L421.60,513.63 L422.33,513.82 L423.05,514.01 L423.78,514.20 L424.51,514.40 L425.24,514.59 L425.97,514.78 L426.70,514.97 L427.44,515.16 L428.17,515.35 L428.91,515.54 L429.65,515.73 L430.38,515.92 L431.12,516.11 L431.86,516.30 L432.60,516.49 L433.34,516.68 L434.09,516.87 L434.83,517.06 L435.58,517.24 L436.32,517.43 L437.07,517.62 L437.82,517.81 L438.56,517.99 L439.31,518.18 L440.07,518.36 L440.82,518.55 L441.57,518.74 L442.33,518.92 L443.08,519.11 L443.84,519.29 L444.59,519.48 L445.35,519.66 L446.11,519.84 L446.87,520.03 L447.63,520.21 L448.40,520.39 L449.16,520.57 L449.92,520.76 L450.69,520.94 L451.46,521.12 L452.22,521.30 L452.99,521.48 L453.76,521.66 L454.53,521.84 L455.31,522.02 L456.08,522.20 L456.85,522.38 L457.63,522.56 L458.40,522.74 L459.18,522.92 L459.96,523.10 L460.74,523.27 L461.52,523.45 L462.30,523.63 L463.08,523.81 L463.86,523.98 L464.65,524.16 L465.43,524.33 L466.22,524.51 L467.01,524.69 L467.80,524.86 L468.59,525.04 L469.38,525.21 L470.17,525.38 L470.96,525.56 L471.75,525.73 L472.55,525.90 L473.35,526.08 L474.14,526.25 L474.94,526.42 L475.74,526.59 L476.54,526.76 L477.34,526.93 L478.14,527.11 L478.95,527.28 L479.75,527.45 L480.55,527.62 L481.36,527.79 L482.17,527.95 L482.98,528.12 L483.79,528.29 L484.60,528.46 L485.41,528.63 L486.22,528.79 L487.03,528.96 L487.85,529.13 L488.66,529.30 L489.48,529.46 L490.30,529.63 L491.12,529.79 L491.94,529.96 L492.76,530.12 L493.58,530.29 L494.40,530.45 L495.23,530.61 L496.05,530.78 L496.88,530.94 L497.71,531.10 L498.54,531.27 L499.37,531.43 L500.20,531.59 L501.03,531.75 L501.86,531.91 L502.69,532.07 L503.53,532.23 L504.36,532.39 L505.20,532.55 L506.04,532.71 L506.88,532.87 L507.72,533.03 L508.56,533.19 L509.40,533.35 L510.24,533.51 L511.09,533.66 L511.93,533.82 L512.78,533.98 L513.63,534.13 L514.47,534.29 L515.32,534.45 L516.17,534.60 L517.03,534.76 L517.88,534.91 L518.73,535.07 L519.59,535.22 L520.44,535.37 L521.30,535.53 L522.16,535.68 L523.02,535.83 L523.88,535.99 L524.74,536.14 L525.60,536.29 L526.46,536.44 L527.33,536.59 L528.19,536.74 L529.06,536.89 L529.93,537.04 L530.79,537.19 L531.66,537.34 L532.53,537.49 L533.41,537.64 L534.28,537.79 L535.15,537.94 L536.03,538.09 L536.90,538.23 L537.78,538.38 L538.66,538.53 L539.54,538.67 L540.42,538.82 L541.30,538.97 L542.18,539.11 L543.06,539.26 L543.95,539.40 L544.83,539.55 L545.72,539.69 L546.61,539.83 L547.50,539.98 L548.39,540.12 L549.28,540.26 L550.17,540.41 L551.06,540.55 L551.96,540.69 L552.85,540.83 L553.75,540.97 L554.65,541.11 L555.54,541.25 L556.44,541.39 L557.34,541.53 L558.24,541.67 L559.15,541.81 L560.05,541.95 L560.96,542.09 L561.86,542.23 L562.77,542.37 L563.68,542.50 L564.59,542.64 L565.50,542.78 L566.41,542.92 L567.32,543.05 L568.23,543.19 L569.15,543.32 L570.06,543.46 L570.98,543.59 L571.90,543.73 L572.81,543.86 L573.73,544.00 L574.65,544.13 L575.58,544.26 L576.50,544.40 L577.42,544.53 L578.35,544.66 L579.27,544.80 L580.20,544.93 L581.13,545.06 L582.06,545.19 L582.99,545.32 L583.92,545.45 L584.85,545.58 L585.79,545.71 L586.72,545.84 L587.66,545.97 L588.59,546.10 L589.53,546.23 L590.47,546.36 L591.41,546.48 L592.35,546.61 L593.29,546.74 L594.24,546.87 L595.18,546.99 L596.13,547.12 L597.07,547.25 L598.02,547.37 L598.97,547.50 L599.92,547.62 L600.87,547.75 L601.82,547.87 L602.78,548.00 L603.73,548.12 L604.68,548.25 L605.64,548.37 L606.60,548.49 L607.56,548.61 L608.52,548.74 L609.48,548.86 L610.44,548.98 L611.40,549.10 L612.36,549.22 L613.33,549.35 L614.29,549.47 L615.26,549.59 L616.23,549.71 L617.20,549.83 L618.17,549.95 L619.14,550.06 L620.11,550.18 L621.09,550.30 L622.06,550.42 L623.04,550.54 L624.01,550.66 L624.99,550.77 L625.97,550.89 L626.95,551.01 L627.93,551.12 L628.91,551.24 L629.90,551.36 L630.88,551.47 L631.87,551.59 L632.85,551.70 L633.84,551.82 L634.83,551.93 L635.82,552.05 L636.81,552.16 L637.80,552.27 L638.79,552.39 L639.79,552.50 L640.78,552.61 L641.78,552.72 L642.78,552.84 L643.77,552.95 L644.77,553.06 L645.77,553.17 L646.78,553.28 L647.78,553.39 L648.78,553.50 L649.79,553.61 L650.79,553.72 L651.80,553.83 L652.81,553.94 L653.82,554.05 L654.83,554.16 L655.84,554.27 L656.85,554.38 L657.87,554.48 L658.88,554.59 L659.90,554.70 L660.91,554.81 L661.93,554.91 L662.95,555.02 L663.97,555.13 L664.99,555.23 L666.01,555.34 L667.04,555.44 L668.06,555.55 L669.09,555.65 L670.11,555.76 L671.14,555.86 L672.17,555.97 L673.20,556.07 L674.23,556.17 L675.26,556.28 L676.30,556.38 L677.33,556.48 L678.37,556.58 L679.40,556.69 L680.44,556.79 L681.48,556.89 L682.52,556.99 L683.56,557.09 L684.60,557.19 L685.64,557.29 L686.69,557.39 L687.73,557.49 L688.78,557.59 L689.83,557.69 L690.88,557.79 L691.93,557.89 L692.98,557.99 L694.03,558.09 L695.08,558.19 L696.14,558.28 L697.19,558.38 L698.25,558.48 L699.30,558.58 L700.36,558.67 L701.42,558.77 L702.48,558.87 L703.54,558.96 L704.61,559.06 L705.67,559.15 L706.74,559.25 L707.80,559.34 L708.87,559.44 L709.94,559.53 L711.01,559.63 L712.08,559.72 L713.15,559.81 L714.22,559.91 L715.29,560.00 L716.37,560.09 L717.45,560.19 L718.52,560.28 L719.60,560.37 L720.68,560.46 L721.76,560.56 L722.84,560.65 L723.92,560.74 L725.01,560.83 L726.09,560.92 L727.18,561.01 L728.27,561.10 L729.35,561.19 L730.44,561.28 L731.53,561.37 L732.62,561.46 L733.72,561.55 L734.81,561.64 L735.91,561.73 L737.00,561.82 L738.10,561.90 L739.20,561.99 L740.29,562.08 L741.39,562.17 L742.50,562.26 L743.60,562.34 L744.70,562.43 L745.81,562.52 L746.91,562.60 L748.02,562.69 L749.13,562.77 L750.24,562.86 L751.35,562.94 L752.46,563.03 L753.57,563.11 L754.68,563.20 L755.80,563.28 L756.91,563.37 L758.03,563.45 L759.15,563.54 L760.27,563.62 L761.39,563.70 L762.51,563.79 L763.63,563.87 L764.75,563.95 L765.88,564.03 L767.00,564.12 L768.13,564.20 L769.26,564.28 L770.39,564.36 L771.52,564.44 L772.65,564.52 L773.78,564.61 L774.91,564.69 L776.05,564.77 L777.18,564.85 L778.32,564.93 L779.46,565.01 L780.60,565.09 L781.74,565.17 L782.88,565.24 L784.02,565.32 L785.16,565.40 L786.31,565.48 L787.45,565.56 L788.60,565.64 L789.75,565.71 L790.90,565.79 L792.05,565.87 L793.20,565.95 L794.35,566.02 L795.50,566.10 L796.66,566.18 L797.81,566.25 L798.97,566.33 L800.13,566.41 L801.29,566.48 L802.45,566.56 L803.61,566.63 L804.77,566.71 L805.93,566.78 L807.10,566.86 L808.26,566.93 L809.43,567.01 L810.60,567.08 L811.77,567.15 L812.94,567.23 L814.11,567.30 L815.28,567.38 L816.45,567.45 L817.63,567.52 L818.81,567.59 L819.98,567.67 L821.16,567.74 L822.34,567.81 L823.52,567.88 L824.70,567.95 L825.88,568.03 L827.07,568.10 L828.25,568.17 L829.44,568.24 L830.62,568.31 L831.81,568.38 L833.00,568.45 L834.19,568.52 L835.38,568.59 L836.57,568.66 L837.77,568.73 L838.96,568.80 L840.16,568.87 L841.35,568.94 L842.55,569.01 L843.75,569.08 L844.95,569.15 L846.15,569.21 L847.36,569.28 L848.56,569.35 L849.76,569.42 L850.97,569.48 L852.18,569.55 L853.38,569.62 L854.59,569.69 L855.80,569.75 L857.02,569.82 L858.23,569.89 L859.44,569.95 L860.66,570.02 L861.87,570.08 L863.09,570.15 L864.31,570.22 L865.53,570.28 L866.75,570.35 L867.97,570.41 L869.19,570.48 L870.41,570.54 L871.64,570.61 L872.87,570.67 L874.09,570.73 L875.32,570.80 L876.55,570.86 L877.78,570.92 L879.01,570.99 L880.25,571.05 L881.48,571.11 L882.71,571.18 L883.95,571.24 L885.19,571.30 L886.43,571.37 L887.67,571.43 L888.91,571.49 L890.15,571.55 L891.39,571.61 L892.63,571.67 L893.88,571.74 L895.13,571.80 L896.37,571.86 L897.62,571.92 L898.87,571.98 L900.12,572.04 L901.37,572.10 L902.63,572.16 L903.88,572.22 L905.14,572.28 L906.39,572.34 L907.65,572.40 L908.91,572.46 L910.17,572.52 L911.43,572.58 L912.69,572.64 L913.96,572.70 L915.22,572.75 L916.48,572.81 L917.75,572.87 L919.02,572.93 L920.29,572.99 L921.56,573.04 L922.83,573.10 L924.10,573.16 L925.37,573.22 L926.65,573.27 L927.92,573.33 L929.20,573.39 L930.48,573.44 L931.76,573.50 L933.04,573.56 L934.32,573.61 L935.60,573.67 L936.89,573.73 L938.17,573.78 L939.46,573.84 L940.74,573.89 L942.03,573.95 L943.32,574.00 L944.61,574.06 L945.90,574.11 L947.19,574.17 L948.49,574.22 L949.78,574.28 L951.08,574.33 L952.38,574.38 L953.67,574.44 L954.97,574.49 L956.27,574.55 L957.58,574.60 L958.88,574.65 L960.18,574.71 L961.49,574.76 L962.79,574.81 L964.10,574.86 L965.41,574.92 L966.72,574.97 L968.03,575.02 L969.34,575.07 L970.66,575.13 L971.97,575.18 L973.28,575.23 L974.60,575.28 L975.92,575.33 L977.24,575.38 L978.56,575.44 L979.88,575.49 L981.20,575.54 L982.52,575.59 L983.85,575.64 L985.17,575.69 L986.50,575.74" stroke="#ff0000" stroke-dasharray="3.1 10.5 11.5 10.9" stroke-dashoffset="0.4"/>
<path d="M142.50,596.45 L142.50,596.45 L142.50,596.44 L142.50,596.43 L142.50,596.41 L142.50,596.39 L142.51,596.36 L142.51,596.32 L142.51,596.27 L142.51,596.22 L142.52,596.16 L142.52,596.09 L142.52,596.02 L142.53,595.94 L142.53,595.84 L142.54,595.75 L142.55,595.64 L142.55,595.52 L142.56,595.40 L142.57,595.27 L142.57,595.12 L142.58,594.97 L142.59,594.81 L142.60,594.65 L142.61,594.47 L142.62,594.29 L142.63,594.09 L142.64,593.89 L142.65,593.67 L142.67,593.45 L142.68,593.22 L142.69,592.98 L142.71,592.73 L142.72,592.47 L142.74,592.20 L142.75,591.92 L142.77,591.63 L142.79,591.34 L142.80,591.03 L142.82,590.71 L142.84,590.39 L142.86,590.05 L142.88,589.70 L142.90,589.35 L142.92,588.98 L142.94,588.61 L142.96,588.22 L142.98,587.83 L143.01,587.42 L143.03,587.01 L143.05,586.58 L143.08,586.15 L143.10,585.70 L143.13,585.25 L143.16,584.78 L143.18,584.31 L143.21,583.83 L143.24,583.33 L143.27,582.83 L143.30,582.31 L143.33,581.79 L143.36,581.25 L143.39,580.71 L143.42,580.16 L143.45,579.59 L143.49,579.02 L143.52,578.43 L143.55,577.84 L143.59,577.23 L143.62,576.62 L143.66,576.00 L143.70,575.36 L143.74,574.72 L143.77,574.06 L143.81,573.40 L143.85,572.73 L143.89,572.04 L143.93,571.35 L143.97,570.65 L144.01,569.93 L144.06,569.21 L144.10,568.48 L144.14,567.74 L144.19,566.98 L144.23,566.22 L144.28,565.45 L144.33,564.67 L144.37,563.88 L144.42,563.08 L144.47,562.27 L144.52,561.45 L144.57,560.62 L144.62,559.79 L144.67,558.94 L144.72,558.08 L144.77,557.22 L144.83,556.34 L144.88,555.46 L144.93,554.56 L144.99,553.66 L145.04,552.75 L145.10,551.83 L145.16,550.90 L145.22,549.96 L145.27,549.01 L145.33,548.05 L145.39,547.09 L145.45,546.11 L145.51,545.13 L145.58,544.13 L145.64,543.13 L145.70,542.12 L145.76,541.11 L145.83,540.08 L145.89,539.04 L145.96,538.00 L146.03,536.95 L146.09,535.89 L146.16,534.82 L146.23,533.74 L146.30,532.66 L146.37,531.57 L146.44,530.47 L146.51,529.36 L146.58,528.24 L146.66,527.12 L146.73,525.99 L146.80,524.85 L146.88,523.70 L146.95,522.54 L147.03,521.38 L147.11,520.21 L147.19,519.03 L147.26,517.85 L147.34,516.66 L147.42,515.46 L147.50,514.25 L147.59,513.04 L147.67,511.82 L147.75,510.59 L147.83,509.36 L147.92,508.12 L148.00,506.87 L148.09,505.62 L148.17,504.36 L148.26,503.09 L148.35,501.82 L148.44,500.54 L148.53,499.25 L148.62,497.96 L148.71,496.67 L148.80,495.36 L148.89,494.05 L148.98,492.74 L149.08,491.42 L149.17,490.09 L149.27,488.76 L149.36,487.42 L149.46,486.08 L149.56,484.73 L149.65,483.37 L149.75,482.01 L149.85,480.65 L149.95,479.28 L150.05,477.91 L150.16,476.53 L150.26,475.14 L150.36,473.76 L150.47,472.36 L150.57,470.97 L150.68,469.56 L150.78,468.16 L150.89,466.75 L151.00,465.33 L151.11,463.91 L151.21,462.49 L151.32,461.06 L151.43,459.63 L151.55,458.20 L151.66,456.76 L151.77,455.32 L151.89,453.88 L152.00,452.43 L152.11,450.98 L152.23,449.52 L152.35,448.06 L152.46,446.60 L152.58,445.14 L152.70,443.67 L152.82,442.20 L152.94,440.73 L153.06,439.25 L153.19,437.78 L153.31,436.30 L153.43,434.81 L153.56,433.33 L153.68,431.84 L153.81,430.35 L153.93,428.86 L154.06,427.37 L154.19,425.88 L154.32,424.38 L154.45,422.88 L154.58,421.38 L154.71,419.88 L154.84,418.38 L154.98,416.88 L155.11,415.37 L155.24,413.87 L155.38,412.36 L155.51,410.85 L155.65,409.34 L155.79,407.83 L155.93,406.32 L156.07,404.81 L156.21,403.30 L156.35,401.79 L156.49,400.28 L156.63,398.77 L156.77,397.25 L156.92,395.74 L157.06,394.23 L157.21,392.72 L157.35,391.20 L157.50,389.69 L157.65,388.18 L157.80,386.67 L157.95,385.16 L158.10,383.65 L158.25,382.14 L158.40,380.63 L158.55,379.13 L158.70,377.62 L158.86,376.12 L159.01,374.61 L159.17,373.11 L159.32,371.61 L159.48,370.11 L159.64,368.61 L159.80,367.11 L159.96,365.61 L160.12,364.12 L160.28,362.63 L160.44,361.14 L160.61,359.65 L160.77,358.16 L160.93,356.68 L161.10,355.19 L161.26,353.71 L161.43,352.24 L161.60,350.76 L161.77,349.29 L161.94,347.82 L162.11,346.35 L162.28,344.89 L162.45,343.42 L162.62,341.96 L162.80,340.51 L162.97,339.05 L163.14,337.60 L163.32,336.16 L163.50,334.71 L163.67,333.27 L163.85,331.83 L164.03,330.40 L164.21,328.97 L164.39,327.54 L164.57,326.12 L164.76,324.70 L164.94,323.28 L165.12,321.87 L165.31,320.46 L165.49,319.06 L165.68,317.66 L165.87,316.26 L166.05,314.87 L166.24,313.48 L166.43,312.10 L166.62,310.72 L166.81,309.34 L167.01,307.97 L167.20,306.61 L167.39,305.25 L167.59,303.89 L167.78,302.54 L167.98,301.19 L168.18,299.85 L168.38,298.51 L168.57,297.18 L168.77,295.85 L168.97,294.53 L169.18,293.21 L169.38,291.90 L169.58,290.59 L169.78,289.29 L169.99,288.00 L170.19,286.71 L170.40,285.42 L170.61,284.14 L170.82,282.87 L171.02,281.60 L171.23,280.33 L171.44,279.08 L171.66,277.82 L171.87,276.58 L172.08,275.34 L172.29,274.10 L172.51,272.88 L172.72,271.65 L172.94,270.44 L173.16,269.23 L173.38,268.02 L173.59,266.82 L173.81,265.63 L174.03,264.45 L174.26,263.27 L174.48,262.09 L174.70,260.93 L174.93,259.77 L175.15,258.61 L175.38,257.47 L175.60,256.32 L175.83,255.19 L176.06,254.06 L176.29,252.94 L176.52,251.83 L176.75,250.72 L176.98,249.62 L177.21,248.52 L177.44,247.43 L177.68,246.35 L177.91,245.28 L178.15,244.21 L178.39,243.15 L178.62,242.10 L178.86,241.05 L179.10,240.01 L179.34,238.98 L179.58,237.95 L179.82,236.93 L180.07,235.92 L180.31,234.92 L180.55,233.92 L180.80,232.93 L181.05,231.95 L181.29,230.97 L181.54,230.00 L181.79,229.04 L182.04,228.09 L182.29,227.14 L182.54,226.20 L182.79,225.27 L183.05,224.35 L183.30,223.43 L183.55,222.52 L183.81,221.62 L184.07,220.72 L184.32,219.83 L184.58,218.95 L184.84,218.08 L185.10,217.22 L185.36,216.36 L185.62,215.51 L185.88,214.66 L186.15,213.83 L186.41,213.00 L186.68,212.18 L186.94,211.37 L187.21,210.56 L187.48,209.76 L187.75,208.97 L188.02,208.19 L188.29,207.42 L188.56,206.65 L188.83,205.89 L189.10,205.14 L189.38,204.39 L189.65,203.66 L189.93,202.93 L190.20,202.21 L190.48,201.49 L190.76,200.79 L191.04,200.09 L191.32,199.40 L191.60,198.71 L191.88,198.04 L192.16,197.37 L192.45,196.71 L192.73,196.06 L193.02,195.41 L193.30,194.77 L193.59,194.14 L193.88,193.52 L194.17,192.91 L194.46,192.30 L194.75,191.70 L195.04,191.11 L195.33,190.52 L195.62,189.95 L195.92,189.38 L196.21,188.82 L196.51,188.26 L196.81,187.72 L197.10,187.18 L197.40,186.65 L197.70,186.12 L198.00,185.61 L198.30,185.10 L198.60,184.60 L198.91,184.10 L199.21,183.62 L199.52,183.14 L199.82,182.67 L200.13,182.20 L200.44,181.75 L200.74,181.30 L201.05,180.86 L201.36,180.42 L201.67,180.00 L201.99,179.58 L202.30,179.17 L202.61,178.76 L202.93,178.37 L203.24,177.98 L203.56,177.60 L203.88,177.22 L204.19,176.85 L204.51,176.49 L204.83,176.14 L205.15,175.79 L205.48,175.46 L205.80,175.13 L206.12,174.80 L206.45,174.48 L206.77,174.17 L207.10,173.87 L207.43,173.58 L207.75,173.29 L208.08,173.01 L208.41,172.73 L208.74,172.47 L209.07,172.21 L209.41,171.95 L209.74,171.71 L210.07,171.47 L210.41,171.23 L210.75,171.01 L211.08,170.79 L211.42,170.58 L211.76,170.37 L212.10,170.18 L212.44,169.99 L212.78,169.80 L213.13,169.62 L213.47,169.45 L213.81,169.29 L214.16,169.13 L214.50,168.98 L214.85,168.84 L215.20,168.70 L215.55,168.57 L215.90,168.44 L216.25,168.32 L216.60,168.21 L216.95,168.11 L217.31,168.01 L217.66,167.92 L218.02,167.83 L218.37,167.75 L218.73,167.68 L219.09,167.61 L219.45,167.55 L219.81,167.50 L220.17,167.45 L220.53,167.41 L220.89,167.38 L221.26,167.35 L221.62,167.32 L221.98,167.31 L222.35,167.30 L222.72,167.29 L223.09,167.29 L223.46,167.30 L223.83,167.31 L224.20,167.33 L224.57,167.36 L224.94,167.39 L225.31,167.42 L225.69,167.47 L226.06,167.52 L226.44,167.57 L226.82,167.63 L227.20,167.70 L227.58,167.77 L227.96,167.84 L228.34,167.93 L228.72,168.01 L229.10,168.11 L229.49,168.21 L229.87,168.31 L230.26,168.42 L230.64,168.54 L231.03,168.66 L231.42,168.79 L231.81,168.92 L232.20,169.05 L232.59,169.20 L232.98,169.34 L233.37,169.50 L233.77,169.66 L234.16,169.82 L234.56,169.99 L234.96,170.16 L235.35,170.34 L235.75,170.52 L236.15,170.71 L236.55,170.90 L236.95,171.10 L237.36,171.31 L237.76,171.51 L238.16,171.73 L238.57,171.95 L238.98,172.17 L239.38,172.40 L239.79,172.63 L240.20,172.87 L240.61,173.11 L241.02,173.35 L241.43,173.60 L241.84,173.86 L242.26,174.12 L242.67,174.38 L243.09,174.65 L243.51,174.93 L243.92,175.20 L244.34,175.49 L244.76,175.77 L245.18,176.06 L245.60,176.36 L246.02,176.66 L246.45,176.96 L246.87,177.27 L247.30,177.58 L247.72,177.90 L248.15,178.22 L248.58,178.54 L249.00,178.87 L249.43,179.20 L249.86,179.54 L250.30,179.88 L250.73,180.23 L251.16,180.57 L251.60,180.93 L252.03,181.28 L252.47,181.64 L252.90,182.01 L253.34,182.37 L253.78,182.74 L254.22,183.12 L254.66,183.50 L255.10,183.88 L255.55,184.27 L255.99,184.65 L256.44,185.05 L256.88,185.44 L257.33,185.84 L257.78,186.25 L258.22,186.65 L258.67,187.06 L259.12,187.48 L259.58,187.89 L260.03,188.31 L260.48,188.74 L260.94,189.16 L261.39,189.59 L261.85,190.03 L262.30,190.46 L262.76,190.90 L263.22,191.34 L263.68,191.79 L264.14,192.24 L264.60,192.69 L265.07,193.14 L265.53,193.60 L266.00,194.06 L266.46,194.52 L266.93,194.99 L267.40,195.46 L267.86,195.93 L268.33,196.40 L268.80,196.88 L269.28,197.36 L269.75,197.84 L270.22,198.33 L270.70,198.82 L271.17,199.31 L271.65,199.80 L272.12,200.30 L272.60,200.80 L273.08,201.30 L273.56,201.80 L274.04,202.31 L274.52,202.81 L275.01,203.33 L275.49,203.84 L275.98,204.35 L276.46,204.87 L276.95,205.39 L277.44,205.91 L277.93,206.44 L278.42,206.97 L278.91,207.49 L279.40,208.03 L279.89,208.56 L280.38,209.09 L280.88,209.63 L281.37,210.17 L281.87,210.71 L282.37,211.26 L282.87,211.80 L283.37,212.35 L283.87,212.90 L284.37,213.45 L284.87,214.01 L285.37,214.56 L285.88,215.12 L286.38,215.68 L286.89,216.24 L287.40,216.80 L287.90,217.36 L288.41,217.93 L288.92,218.50 L289.43,219.07 L289.95,219.64 L290.46,220.21 L290.97,220.79 L291.49,221.36 L292.00,221.94 L292.52,222.52 L293.04,223.10 L293.56,223.68 L294.08,224.27 L294.60,224.85 L295.12,225.44 L295.64,226.03 L296.16,226.62 L296.69,227.21 L297.22,227.80 L297.74,228.39 L298.27,228.99 L298.80,229.58 L299.33,230.18 L299.86,230.78 L300.39,231.38 L300.92,231.98 L301.46,232.58 L301.99,233.19 L302.52,233.79 L303.06,234.40 L303.60,235.00 L304.14,235.61 L304.68,236.22 L305.22,236.83 L305.76,237.44 L306.30,238.05 L306.84,238.67 L307.39,239.28 L307.93,239.90 L308.48,240.51 L309.03,241.13 L309.57,241.75 L310.12,242.36 L310.67,242.98 L311.22,243.60 L311.78,244.23 L312.33,244.85 L312.88,245.47 L313.44,246.09 L313.99,246.72 L314.55,247.34 L315.11,247.97 L315.67,248.59 L316.23,249.22 L316.79,249.85 L317.35,250.48 L317.91,251.11 L318.48,251.74 L319.04,252.37 L319.61,253.00 L320.17,253.63 L320.74,254.26 L321.31,254.89 L321.88,255.52 L322.45,256.16 L323.02,256.79 L323.60,257.43 L324.17,258.06 L324.74,258.70 L325.32,259.33 L325.90,259.97 L326.48,260.60 L327.05,261.24 L327.63,261.88 L328.21,262.51 L328.80,263.15 L329.38,263.79 L329.96,264.43 L330.55,265.07 L331.13,265.71 L331.72,266.35 L332.31,266.98 L332.90,267.62 L333.49,268.26 L334.08,268.90 L334.67,269.54 L335.26,270.18 L335.85,270.82 L336.45,271.47 L337.04,272.11 L337.64,272.75 L338.24,273.39 L338.84,274.03 L339.44,274.67 L340.04,275.31 L340.64,275.95 L341.24,276.59 L341.84,277.23 L342.45,277.88 L343.05,278.52 L343.66,279.16 L344.27,279.80 L344.88,280.44 L345.49,281.08 L346.10,281.72 L346.71,282.36 L347.32,283.00 L347.94,283.65 L348.55,284.29 L349.17,284.93 L349.78,285.57 L350.40,286.21 L351.02,286.85 L351.64,287.49 L352.26,288.13 L352.88,288.77 L353.50,289.41 L354.13,290.04 L354.75,290.68 L355.38,291.32 L356.00,291.96 L356.63,292.60 L357.26,293.24 L357.89,293.87 L358.52,294.51 L359.15,295.15 L359.78,295.79 L360.42,296.42 L361.05,297.06 L361.69,297.69 L362.32,298.33 L362.96,298.96 L363.60,299.60 L364.24,300.23 L364.88,300.87 L365.52,301.50 L366.17,302.13 L366.81,302.77 L367.45,303.40 L368.10,304.03 L368.75,304.66 L369.39,305.29 L370.04,305.92 L370.69,306.55 L371.34,307.18 L372.00,307.81 L372.65,308.44 L373.30,309.07 L373.96,309.70 L374.61,310.32 L375.27,310.95 L375.93,311.58 L376.59,312.20 L377.25,312.83 L377.91,313.45 L378.57,314.08 L379.23,314.70 L379.90,315.32 L380.56,315.95 L381.23,316.57 L381.89,317.19 L382.56,317.81 L383.23,318.43 L383.90,319.05 L384.57,319.67 L385.24,320.28 L385.92,320.90 L386.59,321.52 L387.27,322.13 L387.94,322.75 L388.62,323.36 L389.30,323.98 L389.98,324.59 L390.66,325.20 L391.34,325.82 L392.02,326.43 L392.70,327.04 L393.39,327.65 L394.07,328.26 L394.76,328.87 L395.45,329.48 L396.14,330.08 L396.83,330.69 L397.52,331.29 L398.21,331.90 L398.90,332.50 L399.59,333.11 L400.29,333.71 L400.98,334.31 L401.68,334.91 L402.38,335.51 L403.08,336.11 L403.78,336.71 L404.48,337.31 L405.18,337.91 L405.88,338.50 L406.58,339.10 L407.29,339.69 L407.99,340.29 L408.70,340.88 L409.41,341.47 L410.12,342.07 L410.83,342.66 L411.54,343.25 L412.25,343.84 L412.96,344.42 L413.68,345.01 L414.39,345.60 L415.11,346.18 L415.83,346.77 L416.54,347.35 L417.26,347.94 L417.98,348.52 L418.70,349.10 L419.43,349.68 L420.15,350.26 L420.87,350.84 L421.60,351.42 L422.33,351.99 L423.05,352.57 L423.78,353.14 L424.51,353.72 L425.24,354.29 L425.97,354.86 L426.70,355.44 L427.44,356.01 L428.17,356.58 L428.91,357.15 L429.65,357.71 L430.38,358.28 L431.12,358.85 L431.86,359.41 L432.60,359.98 L433.34,360.54 L434.09,361.10 L434.83,361.66 L435.58,362.22 L436.32,362.78 L437.07,363.34 L437.82,363.90 L438.56,364.46 L439.31,365.01 L440.07,365.57 L440.82,366.12 L441.57,366.67 L442.33,367.22 L443.08,367.78 L443.84,368.33 L444.59,368.87 L445.35,369.42 L446.11,369.97 L446.87,370.52 L447.63,371.06 L448.40,371.60 L449.16,372.15 L449.92,372.69 L450.69,373.23 L451.46,373.77 L452.22,374.31 L452.99,374.85 L453.76,375.39 L454.53,375.92 L455.31,376.46 L456.08,376.99 L456.85,377.52 L457.63,378.06 L458.40,378.59 L459.18,379.12 L459.96,379.65 L460.74,380.18 L461.52,380.70 L462.30,381.23 L463.08,381.75 L463.86,382.28 L464.65,382.80 L465.43,383.32 L466.22,383.84 L467.01,384.36 L467.80,384.88 L468.59,385.40 L469.38,385.92 L470.17,386.43 L470.96,386.95 L471.75,387.46 L472.55,387.98 L473.35,388.49 L474.14,389.00 L474.94,389.51 L475.74,390.02 L476.54,390.53 L477.34,391.03 L478.14,391.54 L478.95,392.04 L479.75,392.55 L480.55,393.05 L481.36,393.55 L482.17,394.05 L482.98,394.55 L483.79,395.05 L484.60,395.55 L485.41,396.05 L486.22,396.54 L487.03,397.04 L487.85,397.53 L488.66,398.02 L489.48,398.51 L490.30,399.00 L491.12,399.49 L491.94,399.98 L492.76,400.47 L493.58,400.96 L494.40,401.44 L495.23,401.92 L496.05,402.41 L496.88,402.89 L497.71,403.37 L498.54,403.85 L499.37,404.33 L500.20,404.81 L501.03,405.29 L501.86,405.76 L502.69,406.24 L503.53,406.71 L504.36,407.18 L505.20,407.66 L506.04,408.13 L506.88,408.60 L507.72,409.06 L508.56,409.53 L509.40,410.00 L510.24,410.46 L511.09,410.93 L511.93,411.39 L512.78,411.86 L513.63,412.32 L514.47,412.78 L515.32,413.24 L516.17,413.70 L517.03,414.15 L517.88,414.61 L518.73,415.07 L519.59,415.52 L520.44,415.97 L521.30,416.43 L522.16,416.88 L523.02,417.33 L523.88,417.78 L524.74,418.23 L525.60,418.67 L526.46,419.12 L527.33,419.56 L528.19,420.01 L529.06,420.45 L529.93,420.89 L530.79,421.33 L531.66,421.78 L532.53,422.21 L533.41,422.65 L534.28,423.09 L535.15,423.53 L536.03,423.96 L536.90,424.40 L537.78,424.83 L538.66,425.26 L539.54,425.69 L540.42,426.12 L541.30,426.55 L542.18,426.98 L543.06,427.41 L543.95,427.83 L544.83,428.26 L545.72,428.68 L546.61,429.10 L547.50,429.53 L548.39,429.95 L549.28,430.37 L550.17,430.79 L551.06,431.21 L551.96,431.62 L552.85,432.04 L553.75,432.45 L554.65,432.87 L555.54,433.28 L556.44,433.69 L557.34,434.10 L558.24,434.52 L559.15,434.92 L560.05,435.33 L560.96,435.74 L561.86,436.15 L562.77,436.55 L563.68,436.96 L564.59,437.36 L565.50,437.76 L566.41,438.16 L567.32,438.56 L568.23,438.96 L569.15,439.36 L570.06,439.76 L570.98,440.16 L571.90,440.55 L572.81,440.95 L573.73,441.34 L574.65,441.73 L575.58,442.13 L576.50,442.52 L577.42,442.91 L578.35,443.30 L579.27,443.68 L580.20,444.07 L581.13,444.46 L582.06,444.84 L582.99,445.23 L583.92,445.61 L584.85,445.99 L585.79,446.37 L586.72,446.75 L587.66,447.13 L588.59,447.51 L589.53,447.89 L590.47,448.27 L591.41,448.64 L592.35,449.02 L593.29,449.39 L594.24,449.76 L595.18,450.14 L596.13,450.51 L597.07,450.88 L598.02,451.25 L598.97,451.61 L599.92,451.98 L600.87,452.35 L601.82,452.71 L602.78,453.08 L603.73,453.44 L604.68,453.80 L605.64,454.17 L606.60,454.53 L607.56,454.89 L608.52,455.25 L609.48,455.61 L610.44,455.96 L611.40,456.32 L612.36,456.68 L613.33,457.03 L614.29,457.38 L615.26,457.74 L616.23,458.09 L617.20,458.44 L618.17,458.79 L619.14,459.14 L620.11,459.49 L621.09,459.84 L622.06,460.18 L623.04,460.53 L624.01,460.87 L624.99,461.22 L625.97,461.56 L626.95,461.90 L627.93,462.24 L628.91,462.58 L629.90,462.92 L630.88,463.26 L631.87,463.60 L632.85,463.94 L633.84,464.27 L634.83,464.61 L635.82,464.94 L636.81,465.28 L637.80,465.61 L638.79,465.94 L639.79,466.27 L640.78,466.60 L641.78,466.93 L642.78,467.26 L643.77,467.59 L644.77,467.92 L645.77,468.24 L646.78,468.57 L647.78,468.89 L648.78,469.21 L649.79,469.54 L650.79,469.86 L651.80,470.18 L652.81,470.50 L653.82,470.82 L654.83,471.14 L655.84,471.46 L656.85,471.77 L657.87,472.09 L658.88,472.40 L659.90,472.72 L660.91,473.03 L661.93,473.34 L662.95,473.66 L663.97,473.97 L664.99,474.28 L666.01,474.59 L667.04,474.90 L668.06,475.20 L669.09,475.51 L670.11,475.82 L671.14,476.12 L672.17,476.43 L673.20,476.73 L674.23,477.03 L675.26,477.34 L676.30,477.64 L677.33,477.94 L678.37,478.24 L679.40,478.54 L680.44,478.84 L681.48,479.13 L682.52,479.43 L683.56,479.73 L684.60,480.02 L685.64,480.32 L686.69,480.61 L687.73,480.90 L688.78,481.19 L689.83,481.49 L690.88,481.78 L691.93,482.07 L692.98,482.36 L694.03,482.64 L695.08,482.93 L696.14,483.22 L697.19,483.50 L698.25,483.79 L699.30,484.07 L700.36,484.36 L701.42,484.64 L702.48,484.92 L703.54,485.20 L704.61,485.48 L705.67,485.76 L706.74,486.04 L707.80,486.32 L708.87,486.60 L709.94,486.88 L711.01,487.15 L712.08,487.43 L713.15,487.70 L714.22,487.98 L715.29,488.25 L716.37,488.52 L717.45,488.80 L718.52,489.07 L719.60,489.34 L720.68,489.61 L721.76,489.88 L722.84,490.14 L723.92,490.41 L725.01,490.68 L726.09,490.95 L727.18,491.21 L728.27,491.48 L729.35,491.74 L730.44,492.00 L731.53,492.27 L732.62,492.53 L733.72,492.79 L734.81,493.05 L735.91,493.31 L737.00,493.57 L738.10,493.83 L739.20,494.08 L740.29,494.34 L741.39,494.60 L742.50,494.85 L743.60,495.11 L744.70,495.36 L745.81,495.62 L746.91,495.87 L748.02,496.12 L749.13,496.37 L750.24,496.63 L751.35,496.88 L752.46,497.13 L753.57,497.37 L754.68,497.62 L755.80,497.87 L756.91,498.12 L758.03,498.36 L759.15,498.61 L760.27,498.85 L761.39,499.10 L762.51,499.34 L763.63,499.58 L764.75,499.83 L765.88,500.07 L767.00,500.31 L768.13,500.55 L769.26,500.79 L770.39,501.03 L771.52,501.27 L772.65,501.51 L773.78,501.74 L774.91,501.98 L776.05,502.22 L777.18,502.45 L778.32,502.69 L779.46,502.92 L780.60,503.15 L781.74,503.39 L782.88,503.62 L784.02,503.85 L785.16,504.08 L786.31,504.31 L787.45,504.54 L788.60,504.77 L789.75,505.00 L790.90,505.23 L792.05,505.45 L793.20,505.68 L794.35,505.91 L795.50,506.13 L796.66,506.36 L797.81,506.58 L798.97,506.80 L800.13,507.03 L801.29,507.25 L802.45,507.47 L803.61,507.69 L804.77,507.91 L805.93,508.13 L807.10,508.35 L808.26,508.57 L809.43,508.79 L810.60,509.01 L811.77,509.22 L812.94,509.44 L814.11,509.65 L815.28,509.87 L816.45,510.08 L817.63,510.30 L818.81,510.51 L819.98,510.72 L821.16,510.94 L822.34,511.15 L823.52,511.36 L824.70,511.57 L825.88,511.78 L827.07,511.99 L828.25,512.20 L829.44,512.41 L830.62,512.62 L831.81,512.82 L833.00,513.03 L834.19,513.24 L835.38,513.44 L836.57,513.65 L837.77,513.85 L838.96,514.05 L840.16,514.26 L841.35,514.46 L842.55,514.66 L843.75,514.86 L844.95,515.07 L846.15,515.27 L847.36,515.47 L848.56,515.67 L849.76,515.86 L850.97,516.06 L852.18,516.26 L853.38,516.46 L854.59,516.66 L855.80,516.85 L857.02,517.05 L858.23,517.24 L859.44,517.44 L860.66,517.63 L861.87,517.83 L863.09,518.02 L864.31,518.21 L865.53,518.40 L866.75,518.59 L867.97,518.79 L869.19,518.98 L870.41,519.17 L871.64,519.36 L872.87,519.55 L874.09,519.73 L875.32,519.92 L876.55,520.11 L877.78,520.30 L879.01,520.48 L880.25,520.67 L881.48,520.85 L882.71,521.04 L883.95,521.22 L885.19,521.41 L886.43,521.59 L887.67,521.77 L888.91,521.96 L890.15,522.14 L891.39,522.32 L892.63,522.50 L893.88,522.68 L895.13,522.86 L896.37,523.04 L897.62,523.22 L898.87,523.40 L900.12,523.58 L901.37,523.75 L902.63,523.93 L903.88,524.11 L905.14,524.28 L906.39,524.46 L907.65,524.63 L908.91,524.81 L910.17,524.98 L911.43,525.16 L912.69,525.33 L913.96,525.50 L915.22,525.68 L916.48,525.85 L917.75,526.02 L919.02,526.19 L920.29,526.36 L921.56,526.53 L922.83,526.70 L924.10,526.87 L925.37,527.04 L926.65,527.21 L927.92,527.37 L929.20,527.54 L930.48,527.71 L931.76,527.88 L933.04,528.04 L934.32,528.21 L935.60,528.37 L936.89,528.54 L938.17,528.70 L939.46,528.86 L940.74,529.03 L942.03,529.19 L943.32,529.35 L944.61,529.51 L945.90,529.68 L947.19,529.84 L948.49,530.00 L949.78,530.16 L951.08,530.32 L952.38,530.48 L953.67,530.64 L954.97,530.80 L956.27,530.95 L957.58,531.11 L958.88,531.27 L960.18,531.42 L961.49,531.58 L962.79,531.74 L964.10,531.89 L965.41,532.05 L966.72,532.20 L968.03,532.36 L969.34,532.51 L970.66,532.66 L971.97,532.82 L973.28,532.97 L974.60,533.12 L975.92,533.27 L977.24,533.43 L978.56,533.58 L979.88,533.73 L981.20,533.88 L982.52,534.03 L983.85,534.18 L985.17,534.33 L986.50,534.47" stroke="#0000ff" stroke-dasharray="11.2 10.94" stroke-dashoffset="0"/>
<path d="M142.50,596.45 L142.50,596.45 L142.50,596.44 L142.50,596.43 L142.50,596.42 L142.50,596.40 L142.51,596.38 L142.51,596.35 L142.51,596.32 L142.51,596.28 L142.52,596.24 L142.52,596.19 L142.52,596.13 L142.53,596.07 L142.53,596.00 L142.54,595.93 L142.55,595.85 L142.55,595.77 L142.56,595.68 L142.57,595.58 L142.57,595.47 L142.58,595.36 L142.59,595.25 L142.60,595.12 L142.61,594.99 L142.62,594.86 L142.63,594.71 L142.64,594.56 L142.65,594.41 L142.67,594.25 L142.68,594.07 L142.69,593.90 L142.71,593.71 L142.72,593.52 L142.74,593.33 L142.75,593.12 L142.77,592.91 L142.79,592.69 L142.80,592.46 L142.82,592.23 L142.84,591.99 L142.86,591.74 L142.88,591.49 L142.90,591.23 L142.92,590.96 L142.94,590.68 L142.96,590.40 L142.98,590.11 L143.01,589.81 L143.03,589.50 L143.05,589.19 L143.08,588.87 L143.10,588.55 L143.13,588.21 L143.16,587.87 L143.18,587.52 L143.21,587.16 L143.24,586.80 L143.27,586.43 L143.30,586.05 L143.33,585.67 L143.36,585.27 L143.39,584.87 L143.42,584.46 L143.45,584.05 L143.49,583.63 L143.52,583.20 L143.55,582.76 L143.59,582.31 L143.62,581.86 L143.66,581.40 L143.70,580.94 L143.74,580.46 L143.77,579.98 L143.81,579.49 L143.85,579.00 L143.89,578.49 L143.93,577.98 L143.97,577.47 L144.01,576.94 L144.06,576.41 L144.10,575.87 L144.14,575.32 L144.19,574.77 L144.23,574.21 L144.28,573.64 L144.33,573.07 L144.37,572.49 L144.42,571.90 L144.47,571.30 L144.52,570.70 L144.57,570.09 L144.62,569.47 L144.67,568.85 L144.72,568.22 L144.77,567.58 L144.83,566.93 L144.88,566.28 L144.93,565.62 L144.99,564.96 L145.04,564.29 L145.10,563.61 L145.16,562.92 L145.22,562.23 L145.27,561.53 L145.33,560.83 L145.39,560.12 L145.45,559.40 L145.51,558.68 L145.58,557.94 L145.64,557.21 L145.70,556.46 L145.76,555.71 L145.83,554.96 L145.89,554.19 L145.96,553.43 L146.03,552.65 L146.09,551.87 L146.16,551.08 L146.23,550.29 L146.30,549.49 L146.37,548.68 L146.44,547.87 L146.51,547.06 L146.58,546.23 L146.66,545.40 L146.73,544.57 L146.80,543.73 L146.88,542.88 L146.95,542.03 L147.03,541.17 L147.11,540.31 L147.19,539.44 L147.26,538.57 L147.34,537.69 L147.42,536.81 L147.50,535.92 L147.59,535.02 L147.67,534.12 L147.75,533.22 L147.83,532.31 L147.92,531.39 L148.00,530.47 L148.09,529.55 L148.17,528.62 L148.26,527.68 L148.35,526.74 L148.44,525.80 L148.53,524.85 L148.62,523.90 L148.71,522.94 L148.80,521.98 L148.89,521.01 L148.98,520.04 L149.08,519.06 L149.17,518.08 L149.27,517.10 L149.36,516.11 L149.46,515.12 L149.56,514.12 L149.65,513.12 L149.75,512.12 L149.85,511.11 L149.95,510.10 L150.05,509.08 L150.16,508.06 L150.26,507.04 L150.36,506.02 L150.47,504.99 L150.57,503.95 L150.68,502.92 L150.78,501.88 L150.89,500.83 L151.00,499.79 L151.11,498.74 L151.21,497.69 L151.32,496.63 L151.43,495.57 L151.55,494.51 L151.66,493.45 L151.77,492.38 L151.89,491.31 L152.00,490.24 L152.11,489.17 L152.23,488.09 L152.35,487.01 L152.46,485.93 L152.58,484.84 L152.70,483.76 L152.82,482.67 L152.94,481.58 L153.06,480.48 L153.19,479.39 L153.31,478.29 L153.43,477.20 L153.56,476.09 L153.68,474.99 L153.81,473.89 L153.93,472.78 L154.06,471.68 L154.19,470.57 L154.32,469.46 L154.45,468.35 L154.58,467.24 L154.71,466.12 L154.84,465.01 L154.98,463.89 L155.11,462.78 L155.24,461.66 L155.38,460.54 L155.51,459.42 L155.65,458.30 L155.79,457.18 L155.93,456.06 L156.07,454.93 L156.21,453.81 L156.35,452.69 L156.49,451.57 L156.63,450.44 L156.77,449.32 L156.92,448.19 L157.06,447.07 L157.21,445.94 L157.35,444.82 L157.50,443.69 L157.65,442.57 L157.80,441.45 L157.95,440.32 L158.10,439.20 L158.25,438.07 L158.40,436.95 L158.55,435.83 L158.70,434.71 L158.86,433.58 L159.01,432.46 L159.17,431.34 L159.32,430.22 L159.48,429.10 L159.64,427.99 L159.80,426.87 L159.96,425.75 L160.12,424.64 L160.28,423.53 L160.44,422.41 L160.61,421.30 L160.77,420.19 L160.93,419.08 L161.10,417.98 L161.26,416.87 L161.43,415.77 L161.60,414.66 L161.77,413.56 L161.94,412.46 L162.11,411.36 L162.28,410.27 L162.45,409.17 L162.62,408.08 L162.80,406.99 L162.97,405.90 L163.14,404.82 L163.32,403.73 L163.50,402.65 L163.67,401.57 L163.85,400.49 L164.03,399.42 L164.21,398.34 L164.39,397.27 L164.57,396.20 L164.76,395.14 L164.94,394.08 L165.12,393.02 L165.31,391.96 L165.49,390.90 L165.68,389.85 L165.87,388.80 L166.05,387.75 L166.24,386.71 L166.43,385.67 L166.62,384.63 L166.81,383.60 L167.01,382.56 L167.20,381.54 L167.39,380.51 L167.59,379.49 L167.78,378.47 L167.98,377.45 L168.18,376.44 L168.38,375.43 L168.57,374.42 L168.77,373.42 L168.97,372.42 L169.18,371.43 L169.38,370.44 L169.58,369.45 L169.78,368.46 L169.99,367.48 L170.19,366.50 L170.40,365.53 L170.61,364.56 L170.82,363.60 L171.02,362.63 L171.23,361.68 L171.44,360.72 L171.66,359.77 L171.87,358.83 L172.08,357.88 L172.29,356.95 L172.51,356.01 L172.72,355.08 L172.94,354.16 L173.16,353.24 L173.38,352.32 L173.59,351.41 L173.81,350.50 L174.03,349.59 L174.26,348.69 L174.48,347.80 L174.70,346.91 L174.93,346.02 L175.15,345.14 L175.38,344.26 L175.60,343.39 L175.83,342.52 L176.06,341.66 L176.29,340.80 L176.52,339.94 L176.75,339.09 L176.98,338.25 L177.21,337.41 L177.44,336.57 L177.68,335.74 L177.91,334.92 L178.15,334.10 L178.39,333.28 L178.62,332.47 L178.86,331.66 L179.10,330.86 L179.34,330.06 L179.58,329.27 L179.82,328.48 L180.07,327.70 L180.31,326.93 L180.55,326.15 L180.80,325.39 L181.05,324.63 L181.29,323.87 L181.54,323.12 L181.79,322.37 L182.04,321.63 L182.29,320.89 L182.54,320.16 L182.79,319.44 L183.05,318.72 L183.30,318.00 L183.55,317.29 L183.81,316.59 L184.07,315.89 L184.32,315.19 L184.58,314.50 L184.84,313.82 L185.10,313.14 L185.36,312.47 L185.62,311.80 L185.88,311.13 L186.15,310.48 L186.41,309.82 L186.68,309.18 L186.94,308.54 L187.21,307.90 L187.48,307.27 L187.75,306.64 L188.02,306.02 L188.29,305.41 L188.56,304.80 L188.83,304.20 L189.10,303.60 L189.38,303.01 L189.65,302.42 L189.93,301.84 L190.20,301.26 L190.48,300.69 L190.76,300.12 L191.04,299.56 L191.32,299.01 L191.60,298.46 L191.88,297.91 L192.16,297.37 L192.45,296.84 L192.73,296.31 L193.02,295.79 L193.30,295.27 L193.59,294.76 L193.88,294.26 L194.17,293.76 L194.46,293.26 L194.75,292.77 L195.04,292.29 L195.33,291.81 L195.62,291.33 L195.92,290.87 L196.21,290.40 L196.51,289.95 L196.81,289.50 L197.10,289.05 L197.40,288.61 L197.70,288.17 L198.00,287.74 L198.30,287.32 L198.60,286.90 L198.91,286.49 L199.21,286.08 L199.52,285.67 L199.82,285.28 L200.13,284.88 L200.44,284.50 L200.74,284.12 L201.05,283.74 L201.36,283.37 L201.67,283.00 L201.99,282.64 L202.30,282.29 L202.61,281.94 L202.93,281.60 L203.24,281.26 L203.56,280.92 L203.88,280.59 L204.19,280.27 L204.51,279.95 L204.83,279.64 L205.15,279.33 L205.48,279.03 L205.80,278.73 L206.12,278.44 L206.45,278.16 L206.77,277.87 L207.10,277.60 L207.43,277.33 L207.75,277.06 L208.08,276.80 L208.41,276.54 L208.74,276.29 L209.07,276.05 L209.41,275.81 L209.74,275.57 L210.07,275.34 L210.41,275.12 L210.75,274.90 L211.08,274.68 L211.42,274.47 L211.76,274.27 L212.10,274.07 L212.44,273.87 L212.78,273.68 L213.13,273.49 L213.47,273.31 L213.81,273.14 L214.16,272.97 L214.50,272.80 L214.85,272.64 L215.20,272.48 L215.55,272.33 L215.90,272.19 L216.25,272.04 L216.60,271.91 L216.95,271.77 L217.31,271.65 L217.66,271.52 L218.02,271.41 L218.37,271.29 L218.73,271.18 L219.09,271.08 L219.45,270.98 L219.81,270.88 L220.17,270.79 L220.53,270.71 L220.89,270.63 L221.26,270.55 L221.62,270.48 L221.98,270.41 L222.35,270.35 L222.72,270.29 L223.09,270.23 L223.46,270.18 L223.83,270.14 L224.20,270.10 L224.57,270.06 L224.94,270.03 L225.31,270.00 L225.69,269.98 L226.06,269.96 L226.44,269.94 L226.82,269.93 L227.20,269.93 L227.58,269.92 L227.96,269.93 L228.34,269.93 L228.72,269.94 L229.10,269.96 L229.49,269.97 L229.87,270.00 L230.26,270.02 L230.64,270.05 L231.03,270.09 L231.42,270.13 L231.81,270.17 L232.20,270.22 L232.59,270.27 L232.98,270.32 L233.37,270.38 L233.77,270.44 L234.16,270.51 L234.56,270.58 L234.96,270.65 L235.35,270.73 L235.75,270.81 L236.15,270.90 L236.55,270.99 L236.95,271.08 L237.36,271.18 L237.76,271.28 L238.16,271.38 L238.57,271.49 L238.98,271.60 L239.38,271.71 L239.79,271.83 L240.20,271.95 L240.61,272.08 L241.02,272.21 L241.43,272.34 L241.84,272.48 L242.26,272.62 L242.67,272.76 L243.09,272.91 L243.51,273.06 L243.92,273.21 L244.34,273.37 L244.76,273.53 L245.18,273.69 L245.60,273.86 L246.02,274.02 L246.45,274.20 L246.87,274.37 L247.30,274.55 L247.72,274.74 L248.15,274.92 L248.58,275.11 L249.00,275.30 L249.43,275.50 L249.86,275.70 L250.30,275.90 L250.73,276.10 L251.16,276.31 L251.60,276.52 L252.03,276.73 L252.47,276.95 L252.90,277.17 L253.34,277.39 L253.78,277.62 L254.22,277.84 L254.66,278.08 L255.10,278.31 L255.55,278.55 L255.99,278.78 L256.44,279.03 L256.88,279.27 L257.33,279.52 L257.78,279.77 L258.22,280.02 L258.67,280.28 L259.12,280.54 L259.58,280.80 L260.03,281.06 L260.48,281.33 L260.94,281.60 L261.39,281.87 L261.85,282.14 L262.30,282.42 L262.76,282.70 L263.22,282.98 L263.68,283.26 L264.14,283.55 L264.60,283.84 L265.07,284.13 L265.53,284.42 L266.00,284.72 L266.46,285.02 L266.93,285.32 L267.40,285.62 L267.86,285.92 L268.33,286.23 L268.80,286.54 L269.28,286.85 L269.75,287.17 L270.22,287.48 L270.70,287.80 L271.17,288.12 L271.65,288.45 L272.12,288.77 L272.60,289.10 L273.08,289.43 L273.56,289.76 L274.04,290.09 L274.52,290.42 L275.01,290.76 L275.49,291.10 L275.98,291.44 L276.46,291.78 L276.95,292.13 L277.44,292.48 L277.93,292.83 L278.42,293.18 L278.91,293.53 L279.40,293.88 L279.89,294.24 L280.38,294.60 L280.88,294.96 L281.37,295.32 L281.87,295.68 L282.37,296.05 L282.87,296.41 L283.37,296.78 L283.87,297.15 L284.37,297.52 L284.87,297.89 L285.37,298.27 L285.88,298.65 L286.38,299.02 L286.89,299.40 L287.40,299.79 L287.90,300.17 L288.41,300.55 L288.92,300.94 L289.43,301.33 L289.95,301.71 L290.46,302.10 L290.97,302.50 L291.49,302.89 L292.00,303.28 L292.52,303.68 L293.04,304.08 L293.56,304.48 L294.08,304.87 L294.60,305.28 L295.12,305.68 L295.64,306.08 L296.16,306.49 L296.69,306.89 L297.22,307.30 L297.74,307.71 L298.27,308.12 L298.80,308.53 L299.33,308.94 L299.86,309.36 L300.39,309.77 L300.92,310.19 L301.46,310.61 L301.99,311.02 L302.52,311.44 L303.06,311.86 L303.60,312.29 L304.14,312.71 L304.68,313.13 L305.22,313.56 L305.76,313.98 L306.30,314.41 L306.84,314.84 L307.39,315.27 L307.93,315.69 L308.48,316.13 L309.03,316.56 L309.57,316.99 L310.12,317.42 L310.67,317.86 L311.22,318.29 L311.78,318.73 L312.33,319.16 L312.88,319.60 L313.44,320.04 L313.99,320.48 L314.55,320.92 L315.11,321.36 L315.67,321.80 L316.23,322.24 L316.79,322.69 L317.35,323.13 L317.91,323.57 L318.48,324.02 L319.04,324.47 L319.61,324.91 L320.17,325.36 L320.74,325.81 L321.31,326.26 L321.88,326.70 L322.45,327.15 L323.02,327.60 L323.60,328.06 L324.17,328.51 L324.74,328.96 L325.32,329.41 L325.90,329.86 L326.48,330.32 L327.05,330.77 L327.63,331.23 L328.21,331.68 L328.80,332.14 L329.38,332.59 L329.96,333.05 L330.55,333.51 L331.13,333.96 L331.72,334.42 L332.31,334.88 L332.90,335.34 L333.49,335.80 L334.08,336.26 L334.67,336.72 L335.26,337.18 L335.85,337.64 L336.45,338.10 L337.04,338.56 L337.64,339.02 L338.24,339.48 L338.84,339.95 L339.44,340.41 L340.04,340.87 L340.64,341.34 L341.24,341.80 L341.84,342.26 L342.45,342.73 L343.05,343.19 L343.66,343.65 L344.27,344.12 L344.88,344.58 L345.49,345.05 L346.10,345.51 L346.71,345.98 L347.32,346.44 L347.94,346.91 L348.55,347.38 L349.17,347.84 L349.78,348.31 L350.40,348.77 L351.02,349.24 L351.64,349.71 L352.26,350.17 L352.88,350.64 L353.50,351.11 L354.13,351.57 L354.75,352.04 L355.38,352.51 L356.00,352.97 L356.63,353.44 L357.26,353.91 L357.89,354.37 L358.52,354.84 L359.15,355.31 L359.78,355.77 L360.42,356.24 L361.05,356.71 L361.69,357.17 L362.32,357.64 L362.96,358.11 L363.60,358.57 L364.24,359.04 L364.88,359.51 L365.52,359.97 L366.17,360.44 L366.81,360.91 L367.45,361.37 L368.10,361.84 L368.75,362.30 L369.39,362.77 L370.04,363.24 L370.69,363.70 L371.34,364.17 L372.00,364.63 L372.65,365.10 L373.30,365.56 L373.96,366.03 L374.61,366.49 L375.27,366.96 L375.93,367.42 L376.59,367.88 L377.25,368.35 L377.91,368.81 L378.57,369.28 L379.23,369.74 L379.90,370.20 L380.56,370.66 L381.23,371.13 L381.89,371.59 L382.56,372.05 L383.23,372.51 L383.90,372.97 L384.57,373.44 L385.24,373.90 L385.92,374.36 L386.59,374.82 L387.27,375.28 L387.94,375.74 L388.62,376.20 L389.30,376.66 L389.98,377.12 L390.66,377.57 L391.34,378.03 L392.02,378.49 L392.70,378.95 L393.39,379.40 L394.07,379.86 L394.76,380.32 L395.45,380.77 L396.14,381.23 L396.83,381.69 L397.52,382.14 L398.21,382.59 L398.90,383.05 L399.59,383.50 L400.29,383.96 L400.98,384.41 L401.68,384.86 L402.38,385.31 L403.08,385.77 L403.78,386.22 L404.48,386.67 L405.18,387.12 L405.88,387.57 L406.58,388.02 L407.29,388.47 L407.99,388.92 L408.70,389.37 L409.41,389.81 L410.12,390.26 L410.83,390.71 L411.54,391.16 L412.25,391.60 L412.96,392.05 L413.68,392.49 L414.39,392.94 L415.11,393.38 L415.83,393.82 L416.54,394.27 L417.26,394.71 L417.98,395.15 L418.70,395.59 L419.43,396.04 L420.15,396.48 L420.87,396.92 L421.60,397.36 L422.33,397.80 L423.05,398.23 L423.78,398.67 L424.51,399.11 L425.24,399.55 L425.97,399.98 L426.70,400.42 L427.44,400.85 L428.17,401.29 L428.91,401.72 L429.65,402.16 L430.38,402.59 L431.12,403.02 L431.86,403.46 L432.60,403.89 L433.34,404.32 L434.09,404.75 L434.83,405.18 L435.58,405.61 L436.32,406.04 L437.07,406.46 L437.82,406.89 L438.56,407.32 L439.31,407.75 L440.07,408.17 L440.82,408.60 L441.57,409.02 L442.33,409.44 L443.08,409.87 L443.84,410.29 L444.59,410.71 L445.35,411.13 L446.11,411.56 L446.87,411.98 L447.63,412.40 L448.40,412.81 L449.16,413.23 L449.92,413.65 L450.69,414.07 L451.46,414.48 L452.22,414.90 L452.99,415.32 L453.76,415.73 L454.53,416.14 L455.31,416.56 L456.08,416.97 L456.85,417.38 L457.63,417.79 L458.40,418.20 L459.18,418.61 L459.96,419.02 L460.74,419.43 L461.52,419.84 L462.30,420.25 L463.08,420.66 L463.86,421.06 L464.65,421.47 L465.43,421.87 L466.22,422.28 L467.01,422.68 L467.80,423.08 L468.59,423.49 L469.38,423.89 L470.17,424.29 L470.96,424.69 L471.75,425.09 L472.55,425.49 L473.35,425.88 L474.14,426.28 L474.94,426.68 L475.74,427.08 L476.54,427.47 L477.34,427.87 L478.14,428.26 L478.95,428.65 L479.75,429.05 L480.55,429.44 L481.36,429.83 L482.17,430.22 L482.98,430.61 L483.79,431.00 L484.60,431.39 L485.41,431.78 L486.22,432.16 L487.03,432.55 L487.85,432.94 L488.66,433.32 L489.48,433.71 L490.30,434.09 L491.12,434.47 L491.94,434.85 L492.76,435.24 L493.58,435.62 L494.40,436.00 L495.23,436.38 L496.05,436.76 L496.88,437.13 L497.71,437.51 L498.54,437.89 L499.37,438.26 L500.20,438.64 L501.03,439.01 L501.86,439.39 L502.69,439.76 L503.53,440.13 L504.36,440.50 L505.20,440.88 L506.04,441.25 L506.88,441.62 L507.72,441.98 L508.56,442.35 L509.40,442.72 L510.24,443.09 L511.09,443.45 L511.93,443.82 L512.78,444.18 L513.63,444.55 L514.47,444.91 L515.32,445.27 L516.17,445.63 L517.03,445.99 L517.88,446.36 L518.73,446.71 L519.59,447.07 L520.44,447.43 L521.30,447.79 L522.16,448.15 L523.02,448.50 L523.88,448.86 L524.74,449.21 L525.60,449.57 L526.46,449.92 L527.33,450.27 L528.19,450.62 L529.06,450.97 L529.93,451.32 L530.79,451.67 L531.66,452.02 L532.53,452.37 L533.41,452.72 L534.28,453.06 L535.15,453.41 L536.03,453.76 L536.90,454.10 L537.78,454.44 L538.66,454.79 L539.54,455.13 L540.42,455.47 L541.30,455.81 L542.18,456.15 L543.06,456.49 L543.95,456.83 L544.83,457.17 L545.72,457.50 L546.61,457.84 L547.50,458.18 L548.39,458.51 L549.28,458.85 L550.17,459.18 L551.06,459.51 L551.96,459.85 L552.85,460.18 L553.75,460.51 L554.65,460.84 L555.54,461.17 L556.44,461.50 L557.34,461.82 L558.24,462.15 L559.15,462.48 L560.05,462.80 L560.96,463.13 L561.86,463.45 L562.77,463.78 L563.68,464.10 L564.59,464.42 L565.50,464.74 L566.41,465.07 L567.32,465.39 L568.23,465.70 L569.15,466.02 L570.06,466.34 L570.98,466.66 L571.90,466.98 L572.81,467.29 L573.73,467.61 L574.65,467.92 L575.58,468.24 L576.50,468.55 L577.42,468.86 L578.35,469.17 L579.27,469.48 L580.20,469.79 L581.13,470.10 L582.06,470.41 L582.99,470.72 L583.92,471.03 L584.85,471.34 L585.79,471.64 L586.72,471.95 L587.66,472.25 L588.59,472.56 L589.53,472.86 L590.47,473.16 L591.41,473.46 L592.35,473.76 L593.29,474.07 L594.24,474.37 L595.18,474.66 L596.13,474.96 L597.07,475.26 L598.02,475.56 L598.97,475.85 L599.92,476.15 L600.87,476.45 L601.82,476.74 L602.78,477.03 L603.73,477.33 L604.68,477.62 L605.64,477.91 L606.60,478.20 L607.56,478.49 L608.52,478.78 L609.48,479.07 L610.44,479.36 L611.40,479.65 L612.36,479.93 L613.33,480.22 L614.29,480.50 L615.26,480.79 L616.23,481.07 L617.20,481.36 L618.17,481.64 L619.14,481.92 L620.11,482.20 L621.09,482.49 L622.06,482.77 L623.04,483.04 L624.01,483.32 L624.99,483.60 L625.97,483.88 L626.95,484.16 L627.93,484.43 L628.91,484.71 L629.90,484.98 L630.88,485.26 L631.87,485.53 L632.85,485.80 L633.84,486.08 L634.83,486.35 L635.82,486.62 L636.81,486.89 L637.80,487.16 L638.79,487.43 L639.79,487.70 L640.78,487.96 L641.78,488.23 L642.78,488.50 L643.77,488.76 L644.77,489.03 L645.77,489.29 L646.78,489.56 L647.78,489.82 L648.78,490.08 L649.79,490.35 L650.79,490.61 L651.80,490.87 L652.81,491.13 L653.82,491.39 L654.83,491.65 L655.84,491.90 L656.85,492.16 L657.87,492.42 L658.88,492.67 L659.90,492.93 L660.91,493.19 L661.93,493.44 L662.95,493.69 L663.97,493.95 L664.99,494.20 L666.01,494.45 L667.04,494.70 L668.06,494.95 L669.09,495.20 L670.11,495.45 L671.14,495.70 L672.17,495.95 L673.20,496.20 L674.23,496.44 L675.26,496.69 L676.30,496.94 L677.33,497.18 L678.37,497.43 L679.40,497.67 L680.44,497.91 L681.48,498.16 L682.52,498.40 L683.56,498.64 L684.60,498.88 L685.64,499.12 L686.69,499.36 L687.73,499.60 L688.78,499.84 L689.83,500.08 L690.88,500.31 L691.93,500.55 L692.98,500.79 L694.03,501.02 L695.08,501.26 L696.14,501.49 L697.19,501.73 L698.25,501.96 L699.30,502.19 L700.36,502.42 L701.42,502.65 L702.48,502.89 L703.54,503.12 L704.61,503.35 L705.67,503.57 L706.74,503.80 L707.80,504.03 L708.87,504.26 L709.94,504.49 L711.01,504.71 L712.08,504.94 L713.15,505.16 L714.22,505.39 L715.29,505.61 L716.37,505.83 L717.45,506.06 L718.52,506.28 L719.60,506.50 L720.68,506.72 L721.76,506.94 L722.84,507.16 L723.92,507.38 L725.01,507.60 L726.09,507.82 L727.18,508.04 L728.27,508.25 L729.35,508.47 L730.44,508.69 L731.53,508.90 L732.62,509.12 L733.72,509.33 L734.81,509.55 L735.91,509.76 L737.00,509.97 L738.10,510.19 L739.20,510.40 L740.29,510.61 L741.39,510.82 L742.50,511.03 L743.60,511.24 L744.70,511.45 L745.81,511.66 L746.91,511.86 L748.02,512.07 L749.13,512.28 L750.24,512.49 L751.35,512.69 L752.46,512.90 L753.57,513.10 L754.68,513.31 L755.80,513.51 L756.91,513.71 L758.03,513.92 L759.15,514.12 L760.27,514.32 L761.39,514.52 L762.51,514.72 L763.63,514.92 L764.75,515.12 L765.88,515.32 L767.00,515.52 L768.13,515.72 L769.26,515.91 L770.39,516.11 L771.52,516.31 L772.65,516.50 L773.78,516.70 L774.91,516.89 L776.05,517.09 L777.18,517.28 L778.32,517.48 L779.46,517.67 L780.60,517.86 L781.74,518.05 L782.88,518.25 L784.02,518.44 L785.16,518.63 L786.31,518.82 L787.45,519.01 L788.60,519.20 L789.75,519.38 L790.90,519.57 L792.05,519.76 L793.20,519.95 L794.35,520.13 L795.50,520.32 L796.66,520.51 L797.81,520.69 L798.97,520.88 L800.13,521.06 L801.29,521.24 L802.45,521.43 L803.61,521.61 L804.77,521.79 L805.93,521.97 L807.10,522.16 L808.26,522.34 L809.43,522.52 L810.60,522.70 L811.77,522.88 L812.94,523.06 L814.11,523.23 L815.28,523.41 L816.45,523.59 L817.63,523.77 L818.81,523.94 L819.98,524.12 L821.16,524.30 L822.34,524.47 L823.52,524.65 L824.70,524.82 L825.88,524.99 L827.07,525.17 L828.25,525.34 L829.44,525.51 L830.62,525.69 L831.81,525.86 L833.00,526.03 L834.19,526.20 L835.38,526.37 L836.57,526.54 L837.77,526.71 L838.96,526.88 L840.16,527.05 L841.35,527.21 L842.55,527.38 L843.75,527.55 L844.95,527.72 L846.15,527.88 L847.36,528.05 L848.56,528.21 L849.76,528.38 L850.97,528.54 L852.18,528.71 L853.38,528.87 L854.59,529.04 L855.80,529.20 L857.02,529.36 L858.23,529.52 L859.44,529.68 L860.66,529.85 L861.87,530.01 L863.09,530.17 L864.31,530.33 L865.53,530.49 L866.75,530.65 L867.97,530.80 L869.19,530.96 L870.41,531.12 L871.64,531.28 L872.87,531.43 L874.09,531.59 L875.32,531.75 L876.55,531.90 L877.78,532.06 L879.01,532.21 L880.25,532.37 L881.48,532.52 L882.71,532.68 L883.95,532.83 L885.19,532.98 L886.43,533.14 L887.67,533.29 L888.91,533.44 L890.15,533.59 L891.39,533.74 L892.63,533.89 L893.88,534.04 L895.13,534.19 L896.37,534.34 L897.62,534.49 L898.87,534.64 L900.12,534.79 L901.37,534.94 L902.63,535.08 L903.88,535.23 L905.14,535.38 L906.39,535.52 L907.65,535.67 L908.91,535.81 L910.17,535.96 L911.43,536.10 L912.69,536.25 L913.96,536.39 L915.22,536.54 L916.48,536.68 L917.75,536.82 L919.02,536.96 L920.29,537.11 L921.56,537.25 L922.83,537.39 L924.10,537.53 L925.37,537.67 L926.65,537.81 L927.92,537.95 L929.20,538.09 L930.48,538.23 L931.76,538.37 L933.04,538.51 L934.32,538.65 L935.60,538.78 L936.89,538.92 L938.17,539.06 L939.46,539.19 L940.74,539.33 L942.03,539.47 L943.32,539.60 L944.61,539.74 L945.90,539.87 L947.19,540.01 L948.49,540.14 L949.78,540.27 L951.08,540.41 L952.38,540.54 L953.67,540.67 L954.97,540.81 L956.27,540.94 L957.58,541.07 L958.88,541.20 L960.18,541.33 L961.49,541.46 L962.79,541.59 L964.10,541.72 L965.41,541.85 L966.72,541.98 L968.03,542.11 L969.34,542.24 L970.66,542.37 L971.97,542.50 L973.28,542.62 L974.60,542.75 L975.92,542.88 L977.24,543.00 L978.56,543.13 L979.88,543.26 L981.20,543.38 L982.52,543.51 L983.85,543.63 L985.17,543.76 L986.50,543.88" stroke="#000000"/>
<path d="M142.50,596.45 L142.50,596.45 L142.50,596.44 L142.50,596.43 L142.50,596.42 L142.50,596.40 L142.51,596.37 L142.51,596.34 L142.51,596.30 L142.51,596.26 L142.52,596.21 L142.52,596.16 L142.52,596.10 L142.53,596.03 L142.53,595.95 L142.54,595.87 L142.55,595.78 L142.55,595.69 L142.56,595.59 L142.57,595.48 L142.57,595.36 L142.58,595.24 L142.59,595.11 L142.60,594.97 L142.61,594.83 L142.62,594.67 L142.63,594.52 L142.64,594.35 L142.65,594.17 L142.67,593.99 L142.68,593.80 L142.69,593.60 L142.71,593.40 L142.72,593.19 L142.74,592.97 L142.75,592.74 L142.77,592.50 L142.79,592.26 L142.80,592.01 L142.82,591.75 L142.84,591.48 L142.86,591.20 L142.88,590.92 L142.90,590.63 L142.92,590.33 L142.94,590.02 L142.96,589.70 L142.98,589.38 L143.01,589.05 L143.03,588.71 L143.05,588.36 L143.08,588.00 L143.10,587.64 L143.13,587.26 L143.16,586.88 L143.18,586.49 L143.21,586.10 L143.24,585.69 L143.27,585.28 L143.30,584.86 L143.33,584.43 L143.36,583.99 L143.39,583.54 L143.42,583.09 L143.45,582.62 L143.49,582.15 L143.52,581.67 L143.55,581.19 L143.59,580.69 L143.62,580.19 L143.66,579.67 L143.70,579.15 L143.74,578.63 L143.77,578.09 L143.81,577.55 L143.85,576.99 L143.89,576.43 L143.93,575.86 L143.97,575.29 L144.01,574.70 L144.06,574.11 L144.10,573.51 L144.14,572.90 L144.19,572.28 L144.23,571.66 L144.28,571.03 L144.33,570.38 L144.37,569.74 L144.42,569.08 L144.47,568.42 L144.52,567.74 L144.57,567.06 L144.62,566.38 L144.67,565.68 L144.72,564.98 L144.77,564.27 L144.83,563.55 L144.88,562.82 L144.93,562.09 L144.99,561.35 L145.04,560.60 L145.10,559.84 L145.16,559.08 L145.22,558.31 L145.27,557.53 L145.33,556.75 L145.39,555.95 L145.45,555.15 L145.51,554.35 L145.58,553.53 L145.64,552.71 L145.70,551.88 L145.76,551.05 L145.83,550.20 L145.89,549.35 L145.96,548.50 L146.03,547.63 L146.09,546.76 L146.16,545.89 L146.23,545.00 L146.30,544.11 L146.37,543.22 L146.44,542.31 L146.51,541.40 L146.58,540.48 L146.66,539.56 L146.73,538.63 L146.80,537.70 L146.88,536.75 L146.95,535.81 L147.03,534.85 L147.11,533.89 L147.19,532.92 L147.26,531.95 L147.34,530.97 L147.42,529.99 L147.50,529.00 L147.59,528.00 L147.67,527.00 L147.75,525.99 L147.83,524.98 L147.92,523.96 L148.00,522.93 L148.09,521.90 L148.17,520.87 L148.26,519.83 L148.35,518.78 L148.44,517.73 L148.53,516.67 L148.62,515.61 L148.71,514.54 L148.80,513.47 L148.89,512.40 L148.98,511.32 L149.08,510.23 L149.17,509.14 L149.27,508.04 L149.36,506.94 L149.46,505.84 L149.56,504.73 L149.65,503.62 L149.75,502.50 L149.85,501.38 L149.95,500.25 L150.05,499.12 L150.16,497.99 L150.26,496.85 L150.36,495.71 L150.47,494.56 L150.57,493.41 L150.68,492.26 L150.78,491.10 L150.89,489.94 L151.00,488.78 L151.11,487.61 L151.21,486.44 L151.32,485.27 L151.43,484.09 L151.55,482.91 L151.66,481.72 L151.77,480.54 L151.89,479.35 L152.00,478.15 L152.11,476.96 L152.23,475.76 L152.35,474.56 L152.46,473.36 L152.58,472.15 L152.70,470.94 L152.82,469.73 L152.94,468.52 L153.06,467.30 L153.19,466.09 L153.31,464.87 L153.43,463.65 L153.56,462.42 L153.68,461.20 L153.81,459.97 L153.93,458.74 L154.06,457.51 L154.19,456.28 L154.32,455.04 L154.45,453.81 L154.58,452.57 L154.71,451.34 L154.84,450.10 L154.98,448.86 L155.11,447.61 L155.24,446.37 L155.38,445.13 L155.51,443.88 L155.65,442.64 L155.79,441.39 L155.93,440.15 L156.07,438.90 L156.21,437.65 L156.35,436.40 L156.49,435.16 L156.63,433.91 L156.77,432.66 L156.92,431.41 L157.06,430.16 L157.21,428.91 L157.35,427.66 L157.50,426.41 L157.65,425.16 L157.80,423.91 L157.95,422.66 L158.10,421.42 L158.25,420.17 L158.40,418.92 L158.55,417.67 L158.70,416.43 L158.86,415.18 L159.01,413.94 L159.17,412.69 L159.32,411.45 L159.48,410.21 L159.64,408.97 L159.80,407.73 L159.96,406.49 L160.12,405.25 L160.28,404.01 L160.44,402.78 L160.61,401.54 L160.77,400.31 L160.93,399.08 L161.10,397.85 L161.26,396.63 L161.43,395.40 L161.60,394.18 L161.77,392.95 L161.94,391.73 L162.11,390.52 L162.28,389.30 L162.45,388.09 L162.62,386.87 L162.80,385.66 L162.97,384.46 L163.14,383.25 L163.32,382.05 L163.50,380.85 L163.67,379.65 L163.85,378.46 L164.03,377.26 L164.21,376.07 L164.39,374.89 L164.57,373.70 L164.76,372.52 L164.94,371.34 L165.12,370.17 L165.31,368.99 L165.49,367.82 L165.68,366.66 L165.87,365.49 L166.05,364.33 L166.24,363.17 L166.43,362.02 L166.62,360.87 L166.81,359.72 L167.01,358.58 L167.20,357.44 L167.39,356.30 L167.59,355.17 L167.78,354.04 L167.98,352.92 L168.18,351.79 L168.38,350.68 L168.57,349.56 L168.77,348.45 L168.97,347.34 L169.18,346.24 L169.38,345.14 L169.58,344.05 L169.78,342.96 L169.99,341.87 L170.19,340.79 L170.40,339.71 L170.61,338.64 L170.82,337.57 L171.02,336.51 L171.23,335.45 L171.44,334.39 L171.66,333.34 L171.87,332.29 L172.08,331.25 L172.29,330.21 L172.51,329.18 L172.72,328.15 L172.94,327.13 L173.16,326.11 L173.38,325.09 L173.59,324.08 L173.81,323.08 L174.03,322.08 L174.26,321.08 L174.48,320.09 L174.70,319.11 L174.93,318.13 L175.15,317.15 L175.38,316.18 L175.60,315.22 L175.83,314.26 L176.06,313.30 L176.29,312.35 L176.52,311.41 L176.75,310.47 L176.98,309.54 L177.21,308.61 L177.44,307.68 L177.68,306.77 L177.91,305.85 L178.15,304.95 L178.39,304.04 L178.62,303.15 L178.86,302.26 L179.10,301.37 L179.34,300.49 L179.58,299.62 L179.82,298.75 L180.07,297.89 L180.31,297.03 L180.55,296.18 L180.80,295.33 L181.05,294.49 L181.29,293.65 L181.54,292.83 L181.79,292.00 L182.04,291.18 L182.29,290.37 L182.54,289.57 L182.79,288.76 L183.05,287.97 L183.30,287.18 L183.55,286.40 L183.81,285.62 L184.07,284.85 L184.32,284.08 L184.58,283.32 L184.84,282.57 L185.10,281.82 L185.36,281.08 L185.62,280.34 L185.88,279.61 L186.15,278.89 L186.41,278.17 L186.68,277.46 L186.94,276.75 L187.21,276.05 L187.48,275.35 L187.75,274.67 L188.02,273.98 L188.29,273.31 L188.56,272.64 L188.83,271.97 L189.10,271.31 L189.38,270.66 L189.65,270.01 L189.93,269.37 L190.20,268.74 L190.48,268.11 L190.76,267.49 L191.04,266.87 L191.32,266.26 L191.60,265.66 L191.88,265.06 L192.16,264.47 L192.45,263.88 L192.73,263.30 L193.02,262.73 L193.30,262.16 L193.59,261.60 L193.88,261.04 L194.17,260.49 L194.46,259.95 L194.75,259.41 L195.04,258.88 L195.33,258.35 L195.62,257.83 L195.92,257.32 L196.21,256.81 L196.51,256.31 L196.81,255.81 L197.10,255.33 L197.40,254.84 L197.70,254.36 L198.00,253.89 L198.30,253.43 L198.60,252.97 L198.91,252.52 L199.21,252.07 L199.52,251.63 L199.82,251.19 L200.13,250.76 L200.44,250.34 L200.74,249.92 L201.05,249.51 L201.36,249.10 L201.67,248.70 L201.99,248.31 L202.30,247.92 L202.61,247.54 L202.93,247.16 L203.24,246.79 L203.56,246.43 L203.88,246.07 L204.19,245.72 L204.51,245.37 L204.83,245.03 L205.15,244.69 L205.48,244.36 L205.80,244.04 L206.12,243.72 L206.45,243.41 L206.77,243.10 L207.10,242.80 L207.43,242.51 L207.75,242.22 L208.08,241.93 L208.41,241.66 L208.74,241.38 L209.07,241.12 L209.41,240.86 L209.74,240.60 L210.07,240.35 L210.41,240.11 L210.75,239.87 L211.08,239.63 L211.42,239.41 L211.76,239.18 L212.10,238.97 L212.44,238.75 L212.78,238.55 L213.13,238.35 L213.47,238.15 L213.81,237.96 L214.16,237.78 L214.50,237.60 L214.85,237.43 L215.20,237.26 L215.55,237.10 L215.90,236.94 L216.25,236.79 L216.60,236.64 L216.95,236.50 L217.31,236.36 L217.66,236.23 L218.02,236.10 L218.37,235.98 L218.73,235.87 L219.09,235.76 L219.45,235.65 L219.81,235.55 L220.17,235.46 L220.53,235.37 L220.89,235.28 L221.26,235.20 L221.62,235.12 L221.98,235.05 L222.35,234.99 L222.72,234.93 L223.09,234.87 L223.46,234.82 L223.83,234.78 L224.20,234.74 L224.57,234.70 L224.94,234.67 L225.31,234.64 L225.69,234.62 L226.06,234.60 L226.44,234.59 L226.82,234.58 L227.20,234.58 L227.58,234.58 L227.96,234.59 L228.34,234.60 L228.72,234.61 L229.10,234.63 L229.49,234.66 L229.87,234.69 L230.26,234.72 L230.64,234.76 L231.03,234.80 L231.42,234.85 L231.81,234.90 L232.20,234.96 L232.59,235.02 L232.98,235.08 L233.37,235.15 L233.77,235.22 L234.16,235.30 L234.56,235.38 L234.96,235.47 L235.35,235.56 L235.75,235.65 L236.15,235.75 L236.55,235.85 L236.95,235.96 L237.36,236.07 L237.76,236.18 L238.16,236.30 L238.57,236.43 L238.98,236.55 L239.38,236.68 L239.79,236.82 L240.20,236.96 L240.61,237.10 L241.02,237.25 L241.43,237.40 L241.84,237.55 L242.26,237.71 L242.67,237.87 L243.09,238.03 L243.51,238.20 L243.92,238.38 L244.34,238.55 L244.76,238.73 L245.18,238.92 L245.60,239.10 L246.02,239.29 L246.45,239.49 L246.87,239.69 L247.30,239.89 L247.72,240.09 L248.15,240.30 L248.58,240.52 L249.00,240.73 L249.43,240.95 L249.86,241.17 L250.30,241.40 L250.73,241.63 L251.16,241.86 L251.60,242.09 L252.03,242.33 L252.47,242.58 L252.90,242.82 L253.34,243.07 L253.78,243.32 L254.22,243.58 L254.66,243.83 L255.10,244.10 L255.55,244.36 L255.99,244.63 L256.44,244.90 L256.88,245.17 L257.33,245.45 L257.78,245.73 L258.22,246.01 L258.67,246.29 L259.12,246.58 L259.58,246.87 L260.03,247.17 L260.48,247.46 L260.94,247.76 L261.39,248.07 L261.85,248.37 L262.30,248.68 L262.76,248.99 L263.22,249.30 L263.68,249.62 L264.14,249.94 L264.60,250.26 L265.07,250.58 L265.53,250.91 L266.00,251.24 L266.46,251.57 L266.93,251.91 L267.40,252.24 L267.86,252.58 L268.33,252.92 L268.80,253.27 L269.28,253.61 L269.75,253.96 L270.22,254.32 L270.70,254.67 L271.17,255.03 L271.65,255.38 L272.12,255.74 L272.60,256.11 L273.08,256.47 L273.56,256.84 L274.04,257.21 L274.52,257.58 L275.01,257.96 L275.49,258.33 L275.98,258.71 L276.46,259.09 L276.95,259.47 L277.44,259.86 L277.93,260.25 L278.42,260.64 L278.91,261.03 L279.40,261.42 L279.89,261.81 L280.38,262.21 L280.88,262.61 L281.37,263.01 L281.87,263.41 L282.37,263.82 L282.87,264.22 L283.37,264.63 L283.87,265.04 L284.37,265.45 L284.87,265.87 L285.37,266.28 L285.88,266.70 L286.38,267.12 L286.89,267.54 L287.40,267.96 L287.90,268.39 L288.41,268.81 L288.92,269.24 L289.43,269.67 L289.95,270.10 L290.46,270.53 L290.97,270.96 L291.49,271.40 L292.00,271.84 L292.52,272.27 L293.04,272.71 L293.56,273.16 L294.08,273.60 L294.60,274.04 L295.12,274.49 L295.64,274.94 L296.16,275.38 L296.69,275.83 L297.22,276.28 L297.74,276.74 L298.27,277.19 L298.80,277.65 L299.33,278.10 L299.86,278.56 L300.39,279.02 L300.92,279.48 L301.46,279.94 L301.99,280.40 L302.52,280.87 L303.06,281.33 L303.60,281.80 L304.14,282.27 L304.68,282.73 L305.22,283.20 L305.76,283.67 L306.30,284.15 L306.84,284.62 L307.39,285.09 L307.93,285.57 L308.48,286.04 L309.03,286.52 L309.57,287.00 L310.12,287.48 L310.67,287.96 L311.22,288.44 L311.78,288.92 L312.33,289.40 L312.88,289.89 L313.44,290.37 L313.99,290.86 L314.55,291.34 L315.11,291.83 L315.67,292.32 L316.23,292.80 L316.79,293.29 L317.35,293.78 L317.91,294.28 L318.48,294.77 L319.04,295.26 L319.61,295.75 L320.17,296.25 L320.74,296.74 L321.31,297.24 L321.88,297.73 L322.45,298.23 L323.02,298.73 L323.60,299.22 L324.17,299.72 L324.74,300.22 L325.32,300.72 L325.90,301.22 L326.48,301.72 L327.05,302.22 L327.63,302.73 L328.21,303.23 L328.80,303.73 L329.38,304.24 L329.96,304.74 L330.55,305.24 L331.13,305.75 L331.72,306.26 L332.31,306.76 L332.90,307.27 L333.49,307.77 L334.08,308.28 L334.67,308.79 L335.26,309.30 L335.85,309.81 L336.45,310.32 L337.04,310.82 L337.64,311.33 L338.24,311.84 L338.84,312.35 L339.44,312.86 L340.04,313.38 L340.64,313.89 L341.24,314.40 L341.84,314.91 L342.45,315.42 L343.05,315.93 L343.66,316.45 L344.27,316.96 L344.88,317.47 L345.49,317.98 L346.10,318.50 L346.71,319.01 L347.32,319.52 L347.94,320.04 L348.55,320.55 L349.17,321.07 L349.78,321.58 L350.40,322.09 L351.02,322.61 L351.64,323.12 L352.26,323.64 L352.88,324.15 L353.50,324.67 L354.13,325.18 L354.75,325.70 L355.38,326.21 L356.00,326.73 L356.63,327.24 L357.26,327.76 L357.89,328.27 L358.52,328.79 L359.15,329.30 L359.78,329.82 L360.42,330.33 L361.05,330.85 L361.69,331.36 L362.32,331.88 L362.96,332.39 L363.60,332.91 L364.24,333.42 L364.88,333.94 L365.52,334.45 L366.17,334.97 L366.81,335.48 L367.45,335.99 L368.10,336.51 L368.75,337.02 L369.39,337.54 L370.04,338.05 L370.69,338.56 L371.34,339.08 L372.00,339.59 L372.65,340.10 L373.30,340.62 L373.96,341.13 L374.61,341.64 L375.27,342.15 L375.93,342.67 L376.59,343.18 L377.25,343.69 L377.91,344.20 L378.57,344.71 L379.23,345.22 L379.90,345.73 L380.56,346.24 L381.23,346.75 L381.89,347.26 L382.56,347.77 L383.23,348.28 L383.90,348.79 L384.57,349.30 L385.24,349.81 L385.92,350.32 L386.59,350.82 L387.27,351.33 L387.94,351.84 L388.62,352.35 L389.30,352.85 L389.98,353.36 L390.66,353.86 L391.34,354.37 L392.02,354.88 L392.70,355.38 L393.39,355.88 L394.07,356.39 L394.76,356.89 L395.45,357.39 L396.14,357.90 L396.83,358.40 L397.52,358.90 L398.21,359.40 L398.90,359.90 L399.59,360.40 L400.29,360.90 L400.98,361.40 L401.68,361.90 L402.38,362.40 L403.08,362.90 L403.78,363.40 L404.48,363.90 L405.18,364.39 L405.88,364.89 L406.58,365.39 L407.29,365.88 L407.99,366.38 L408.70,366.87 L409.41,367.37 L410.12,367.86 L410.83,368.35 L411.54,368.85 L412.25,369.34 L412.96,369.83 L413.68,370.32 L414.39,370.81 L415.11,371.30 L415.83,371.79 L416.54,372.28 L417.26,372.77 L417.98,373.26 L418.70,373.74 L419.43,374.23 L420.15,374.72 L420.87,375.20 L421.60,375.69 L422.33,376.17 L423.05,376.66 L423.78,377.14 L424.51,377.62 L425.24,378.10 L425.97,378.59 L426.70,379.07 L427.44,379.55 L428.17,380.03 L428.91,380.51 L429.65,380.98 L430.38,381.46 L431.12,381.94 L431.86,382.42 L432.60,382.89 L433.34,383.37 L434.09,383.84 L434.83,384.32 L435.58,384.79 L436.32,385.26 L437.07,385.74 L437.82,386.21 L438.56,386.68 L439.31,387.15 L440.07,387.62 L440.82,388.09 L441.57,388.56 L442.33,389.02 L443.08,389.49 L443.84,389.96 L444.59,390.42 L445.35,390.89 L446.11,391.35 L446.87,391.82 L447.63,392.28 L448.40,392.74 L449.16,393.21 L449.92,393.67 L450.69,394.13 L451.46,394.59 L452.22,395.05 L452.99,395.50 L453.76,395.96 L454.53,396.42 L455.31,396.88 L456.08,397.33 L456.85,397.79 L457.63,398.24 L458.40,398.69 L459.18,399.15 L459.96,399.60 L460.74,400.05 L461.52,400.50 L462.30,400.95 L463.08,401.40 L463.86,401.85 L464.65,402.30 L465.43,402.74 L466.22,403.19 L467.01,403.63 L467.80,404.08 L468.59,404.52 L469.38,404.97 L470.17,405.41 L470.96,405.85 L471.75,406.29 L472.55,406.73 L473.35,407.17 L474.14,407.61 L474.94,408.05 L475.74,408.49 L476.54,408.92 L477.34,409.36 L478.14,409.79 L478.95,410.23 L479.75,410.66 L480.55,411.10 L481.36,411.53 L482.17,411.96 L482.98,412.39 L483.79,412.82 L484.60,413.25 L485.41,413.68 L486.22,414.11 L487.03,414.53 L487.85,414.96 L488.66,415.38 L489.48,415.81 L490.30,416.23 L491.12,416.66 L491.94,417.08 L492.76,417.50 L493.58,417.92 L494.40,418.34 L495.23,418.76 L496.05,419.18 L496.88,419.60 L497.71,420.01 L498.54,420.43 L499.37,420.84 L500.20,421.26 L501.03,421.67 L501.86,422.08 L502.69,422.50 L503.53,422.91 L504.36,423.32 L505.20,423.73 L506.04,424.14 L506.88,424.55 L507.72,424.95 L508.56,425.36 L509.40,425.77 L510.24,426.17 L511.09,426.58 L511.93,426.98 L512.78,427.38 L513.63,427.79 L514.47,428.19 L515.32,428.59 L516.17,428.99 L517.03,429.39 L517.88,429.78 L518.73,430.18 L519.59,430.58 L520.44,430.97 L521.30,431.37 L522.16,431.76 L523.02,432.16 L523.88,432.55 L524.74,432.94 L525.60,433.33 L526.46,433.72 L527.33,434.11 L528.19,434.50 L529.06,434.89 L529.93,435.28 L530.79,435.66 L531.66,436.05 L532.53,436.43 L533.41,436.82 L534.28,437.20 L535.15,437.58 L536.03,437.96 L536.90,438.34 L537.78,438.72 L538.66,439.10 L539.54,439.48 L540.42,439.86 L541.30,440.24 L542.18,440.61 L543.06,440.99 L543.95,441.36 L544.83,441.74 L545.72,442.11 L546.61,442.48 L547.50,442.85 L548.39,443.22 L549.28,443.59 L550.17,443.96 L551.06,444.33 L551.96,444.70 L552.85,445.07 L553.75,445.43 L554.65,445.80 L555.54,446.16 L556.44,446.52 L557.34,446.89 L558.24,447.25 L559.15,447.61 L560.05,447.97 L560.96,448.33 L561.86,448.69 L562.77,449.05 L563.68,449.40 L564.59,449.76 L565.50,450.12 L566.41,450.47 L567.32,450.83 L568.23,451.18 L569.15,451.53 L570.06,451.88 L570.98,452.24 L571.90,452.59 L572.81,452.94 L573.73,453.28 L574.65,453.63 L575.58,453.98 L576.50,454.33 L577.42,454.67 L578.35,455.02 L579.27,455.36 L580.20,455.70 L581.13,456.05 L582.06,456.39 L582.99,456.73 L583.92,457.07 L584.85,457.41 L585.79,457.75 L586.72,458.09 L587.66,458.42 L588.59,458.76 L589.53,459.10 L590.47,459.43 L591.41,459.76 L592.35,460.10 L593.29,460.43 L594.24,460.76 L595.18,461.09 L596.13,461.42 L597.07,461.75 L598.02,462.08 L598.97,462.41 L599.92,462.74 L600.87,463.07 L601.82,463.39 L602.78,463.72 L603.73,464.04 L604.68,464.36 L605.64,464.69 L606.60,465.01 L607.56,465.33 L608.52,465.65 L609.48,465.97 L610.44,466.29 L611.40,466.61 L612.36,466.93 L613.33,467.24 L614.29,467.56 L615.26,467.88 L616.23,468.19 L617.20,468.50 L618.17,468.82 L619.14,469.13 L620.11,469.44 L621.09,469.75 L622.06,470.06 L623.04,470.37 L624.01,470.68 L624.99,470.99 L625.97,471.30 L626.95,471.60 L627.93,471.91 L628.91,472.22 L629.90,472.52 L630.88,472.82 L631.87,473.13 L632.85,473.43 L633.84,473.73 L634.83,474.03 L635.82,474.33 L636.81,474.63 L637.80,474.93 L638.79,475.23 L639.79,475.53 L640.78,475.82 L641.78,476.12 L642.78,476.41 L643.77,476.71 L644.77,477.00 L645.77,477.30 L646.78,477.59 L647.78,477.88 L648.78,478.17 L649.79,478.46 L650.79,478.75 L651.80,479.04 L652.81,479.33 L653.82,479.61 L654.83,479.90 L655.84,480.19 L656.85,480.47 L657.87,480.76 L658.88,481.04 L659.90,481.32 L660.91,481.61 L661.93,481.89 L662.95,482.17 L663.97,482.45 L664.99,482.73 L666.01,483.01 L667.04,483.29 L668.06,483.57 L669.09,483.84 L670.11,484.12 L671.14,484.40 L672.17,484.67 L673.20,484.95 L674.23,485.22 L675.26,485.49 L676.30,485.76 L677.33,486.04 L678.37,486.31 L679.40,486.58 L680.44,486.85 L681.48,487.12 L682.52,487.39 L683.56,487.65 L684.60,487.92 L685.64,488.19 L686.69,488.45 L687.73,488.72 L688.78,488.98 L689.83,489.25 L690.88,489.51 L691.93,489.77 L692.98,490.03 L694.03,490.29 L695.08,490.56 L696.14,490.81 L697.19,491.07 L698.25,491.33 L699.30,491.59 L700.36,491.85 L701.42,492.10 L702.48,492.36 L703.54,492.62 L704.61,492.87 L705.67,493.12 L706.74,493.38 L707.80,493.63 L708.87,493.88 L709.94,494.14 L711.01,494.39 L712.08,494.64 L713.15,494.89 L714.22,495.14 L715.29,495.38 L716.37,495.63 L717.45,495.88 L718.52,496.12 L719.60,496.37 L720.68,496.62 L721.76,496.86 L722.84,497.11 L723.92,497.35 L725.01,497.59 L726.09,497.83 L727.18,498.08 L728.27,498.32 L729.35,498.56 L730.44,498.80 L731.53,499.04 L732.62,499.27 L733.72,499.51 L734.81,499.75 L735.91,499.99 L737.00,500.22 L738.10,500.46 L739.20,500.69 L740.29,500.93 L741.39,501.16 L742.50,501.39 L743.60,501.63 L744.70,501.86 L745.81,502.09 L746.91,502.32 L748.02,502.55 L749.13,502.78 L750.24,503.01 L751.35,503.24 L752.46,503.47 L753.57,503.69 L754.68,503.92 L755.80,504.15 L756.91,504.37 L758.03,504.60 L759.15,504.82 L760.27,505.05 L761.39,505.27 L762.51,505.49 L763.63,505.71 L764.75,505.94 L765.88,506.16 L767.00,506.38 L768.13,506.60 L769.26,506.82 L770.39,507.03 L771.52,507.25 L772.65,507.47 L773.78,507.69 L774.91,507.90 L776.05,508.12 L777.18,508.34 L778.32,508.55 L779.46,508.76 L780.60,508.98 L781.74,509.19 L782.88,509.40 L784.02,509.62 L785.16,509.83 L786.31,510.04 L787.45,510.25 L788.60,510.46 L789.75,510.67 L790.90,510.88 L792.05,511.09 L793.20,511.29 L794.35,511.50 L795.50,511.71 L796.66,511.91 L797.81,512.12 L798.97,512.32 L800.13,512.53 L801.29,512.73 L802.45,512.94 L803.61,513.14 L804.77,513.34 L805.93,513.54 L807.10,513.74 L808.26,513.95 L809.43,514.15 L810.60,514.35 L811.77,514.54 L812.94,514.74 L814.11,514.94 L815.28,515.14 L816.45,515.34 L817.63,515.53 L818.81,515.73 L819.98,515.93 L821.16,516.12 L822.34,516.32 L823.52,516.51 L824.70,516.70 L825.88,516.90 L827.07,517.09 L828.25,517.28 L829.44,517.47 L830.62,517.66 L831.81,517.86 L833.00,518.05 L834.19,518.24 L835.38,518.42 L836.57,518.61 L837.77,518.80 L838.96,518.99 L840.16,519.18 L841.35,519.36 L842.55,519.55 L843.75,519.74 L844.95,519.92 L846.15,520.11 L847.36,520.29 L848.56,520.47 L849.76,520.66 L850.97,520.84 L852.18,521.02 L853.38,521.20 L854.59,521.39 L855.80,521.57 L857.02,521.75 L858.23,521.93 L859.44,522.11 L860.66,522.29 L861.87,522.46 L863.09,522.64 L864.31,522.82 L865.53,523.00 L866.75,523.17 L867.97,523.35 L869.19,523.53 L870.41,523.70 L871.64,523.88 L872.87,524.05 L874.09,524.23 L875.32,524.40 L876.55,524.57 L877.78,524.75 L879.01,524.92 L880.25,525.09 L881.48,525.26 L882.71,525.43 L883.95,525.60 L885.19,525.77 L886.43,525.94 L887.67,526.11 L888.91,526.28 L890.15,526.45 L891.39,526.61 L892.63,526.78 L893.88,526.95 L895.13,527.12 L896.37,527.28 L897.62,527.45 L898.87,527.61 L900.12,527.78 L901.37,527.94 L902.63,528.11 L903.88,528.27 L905.14,528.43 L906.39,528.59 L907.65,528.76 L908.91,528.92 L910.17,529.08 L911.43,529.24 L912.69,529.40 L913.96,529.56 L915.22,529.72 L916.48,529.88 L917.75,530.04 L919.02,530.20 L920.29,530.36 L921.56,530.51 L922.83,530.67 L924.10,530.83 L925.37,530.98 L926.65,531.14 L927.92,531.29 L929.20,531.45 L930.48,531.60 L931.76,531.76 L933.04,531.91 L934.32,532.07 L935.60,532.22 L936.89,532.37 L938.17,532.52 L939.46,532.68 L940.74,532.83 L942.03,532.98 L943.32,533.13 L944.61,533.28 L945.90,533.43 L947.19,533.58 L948.49,533.73 L949.78,533.88 L951.08,534.02 L952.38,534.17 L953.67,534.32 L954.97,534.47 L956.27,534.61 L957.58,534.76 L958.88,534.91 L960.18,535.05 L961.49,535.20 L962.79,535.34 L964.10,535.49 L965.41,535.63 L966.72,535.77 L968.03,535.92 L969.34,536.06 L970.66,536.20 L971.97,536.35 L973.28,536.49 L974.60,536.63 L975.92,536.77 L977.24,536.91 L978.56,537.05 L979.88,537.19 L981.20,537.33 L982.52,537.47 L983.85,537.61 L985.17,537.75 L986.50,537.89" stroke="#ff0000" stroke-dasharray="3.1 10.5 11.5 10.9" stroke-dashoffset="0.4"/>
</g>
<path d="M142.50,596.45 v-10.0 M142.50,75.45 v10.0 M176.26,596.45 v-6.0 M176.26,75.45 v6.0 M210.02,596.45 v-6.0 M210.02,75.45 v6.0 M243.78,596.45 v-6.0 M243.78,75.45 v6.0 M277.54,596.45 v-6.0 M277.54,75.45 v6.0 M311.30,596.45 v-10.0 M311.30,75.45 v10.0 M345.06,596.45 v-6.0 M345.06,75.45 v6.0 M378.82,596.45 v-6.0 M378.82,75.45 v6.0 M412.58,596.45 v-6.0 M412.58,75.45 v6.0 M446.34,596.45 v-6.0 M446.34,75.45 v6.0 M480.10,596.45 v-10.0 M480.10,75.45 v10.0 M513.86,596.45 v-6.0 M513.86,75.45 v6.0 M547.62,596.45 v-6.0 M547.62,75.45 v6.0 M581.38,596.45 v-6.0 M581.38,75.45 v6.0 M615.14,596.45 v-6.0 M615.14,75.45 v6.0 M648.90,596.45 v-10.0 M648.90,75.45 v10.0 M682.66,596.45 v-6.0 M682.66,75.45 v6.0 M716.42,596.45 v-6.0 M716.42,75.45 v6.0 M750.18,596.45 v-6.0 M750.18,75.45 v6.0 M783.94,596.45 v-6.0 M783.94,75.45 v6.0 M817.70,596.45 v-10.0 M817.70,75.45 v10.0 M851.46,596.45 v-6.0 M851.46,75.45 v6.0 M885.22,596.45 v-6.0 M885.22,75.45 v6.0 M918.98,596.45 v-6.0 M918.98,75.45 v6.0 M952.74,596.45 v-6.0 M952.74,75.45 v6.0 M986.50,596.45 v-10.0 M986.50,75.45 v10.0 M142.5,596.45 h10.0 M986.5,596.45 h-10.0 M142.5,579.08 h6.0 M986.5,579.08 h-6.0 M142.5,561.72 h6.0 M986.5,561.72 h-6.0 M142.5,544.35 h6.0 M986.5,544.35 h-6.0 M142.5,526.98 h6.0 M986.5,526.98 h-6.0 M142.5,509.62 h10.0 M986.5,509.62 h-10.0 M142.5,492.25 h6.0 M986.5,492.25 h-6.0 M142.5,474.88 h6.0 M986.5,474.88 h-6.0 M142.5,457.52 h6.0 M986.5,457.52 h-6.0 M142.5,440.15 h6.0 M986.5,440.15 h-6.0 M142.5,422.78 h10.0 M986.5,422.78 h-10.0 M142.5,405.42 h6.0 M986.5,405.42 h-6.0 M142.5,388.05 h6.0 M986.5,388.05 h-6.0 M142.5,370.68 h6.0 M986.5,370.68 h-6.0 M142.5,353.32 h6.0 M986.5,353.32 h-6.0 M142.5,335.95 h10.0 M986.5,335.95 h-10.0 M142.5,318.58 h6.0 M986.5,318.58 h-6.0 M142.5,301.22 h6.0 M986.5,301.22 h-6.0 M142.5,283.85 h6.0 M986.5,283.85 h-6.0 M142.5,266.48 h6.0 M986.5,266.48 h-6.0 M142.5,249.12 h10.0 M986.5,249.12 h-10.0 M142.5,231.75 h6.0 M986.5,231.75 h-6.0 M142.5,214.38 h6.0 M986.5,214.38 h-6.0 M142.5,197.02 h6.0 M986.5,197.02 h-6.0 M142.5,179.65 h6.0 M986.5,179.65 h-6.0 M142.5,162.28 h10.0 M986.5,162.28 h-10.0 M142.5,144.92 h6.0 M986.5,144.92 h-6.0 M142.5,127.55 h6.0 M986.5,127.55 h-6.0 M142.5,110.18 h6.0 M986.5,110.18 h-6.0 M142.5,92.82 h6.0 M986.5,92.82 h-6.0 M142.5,75.45 h10.0 M986.5,75.45 h-10.0" stroke="#000" stroke-width="2.75" fill="none"/>
<rect x="142.5" y="75.45" width="844.0" height="521.0" fill="none" stroke="#000" stroke-width="3.0"/>
<text class="t" transform="translate(134.75,609.20) scale(1.031,1.0) rotate(0.03)" font-size="40.3" text-anchor="end" stroke="#000" stroke-width="0.3">0.00</text>
<text class="t" transform="translate(134.75,522.37) scale(1.031,1.0) rotate(0.03)" font-size="40.3" text-anchor="end" stroke="#000" stroke-width="0.3">0.05</text>
<text class="t" transform="translate(93.20,435.53) scale(1.031,1.0) rotate(0.03)" font-size="40.3" text-anchor="end" stroke="#000" stroke-width="0.3">0.</text>
<text class="t" transform="translate(113.98,435.53) scale(1.031,1.0) rotate(0.03)" font-size="40.3" text-anchor="start" stroke="#000" stroke-width="0.3">0</text>
<g transform="translate(82.99,403.03) scale(0.056022)"><path d="M398,122 L405,124 L405,545 C405,568 420,572 485,574 L485,590 L250,590 L250,574 C320,572 335,568 335,545 L335,178 C335,162 326,157 310,157 L250,162 L250,146 C300,144 350,136 385,122 Z"/></g>
<text class="t" transform="translate(93.20,348.70) scale(1.031,1.0) rotate(0.03)" font-size="40.3" text-anchor="end" stroke="#000" stroke-width="0.3">0.</text>
<text class="t" transform="translate(113.98,348.70) scale(1.031,1.0) rotate(0.03)" font-size="40.3" text-anchor="start" stroke="#000" stroke-width="0.3">5</text>
<g transform="translate(82.99,316.20) scale(0.056022)"><path d="M398,122 L405,124 L405,545 C405,568 420,572 485,574 L485,590 L250,590 L250,574 C320,572 335,568 335,545 L335,178 C335,162 326,157 310,157 L250,162 L250,146 C300,144 350,136 385,122 Z"/></g>
<text class="t" transform="translate(134.75,261.87) scale(1.031,1.0) rotate(0.03)" font-size="40.3" text-anchor="end" stroke="#000" stroke-width="0.3">0.20</text>
<text class="t" transform="translate(134.75,175.03) scale(1.031,1.0) rotate(0.03)" font-size="40.3" text-anchor="end" stroke="#000" stroke-width="0.3">0.25</text>
<text class="t" transform="translate(134.75,88.20) scale(1.031,1.0) rotate(0.03)" font-size="40.3" text-anchor="end" stroke="#000" stroke-width="0.3">0.30</text>
<g transform="translate(122,608) scale(0.056022)"><path d="M398,122 L405,124 L405,545 C405,568 420,572 485,574 L485,590 L250,590 L250,574 C320,572 335,568 335,545 L335,178 C335,162 326,157 310,157 L250,162 L250,146 C300,144 350,136 385,122 Z"/></g>
<text class="t" transform="translate(311.30,641.0) scale(1.07,1.0) rotate(0.03)" font-size="40.3" text-anchor="middle" stroke="#000" stroke-width="0.3">2</text>
<text class="t" transform="translate(480.10,641.0) scale(1.07,1.0) rotate(0.03)" font-size="40.3" text-anchor="middle" stroke="#000" stroke-width="0.3">3</text>
<text class="t" transform="translate(648.90,641.0) scale(1.07,1.0) rotate(0.03)" font-size="40.3" text-anchor="middle" stroke="#000" stroke-width="0.3">4</text>
<text class="t" transform="translate(817.70,641.0) scale(1.07,1.0) rotate(0.03)" font-size="40.3" text-anchor="middle" stroke="#000" stroke-width="0.3">5</text>
<text class="t" transform="translate(986.50,641.0) scale(1.07,1.0) rotate(0.03)" font-size="40.3" text-anchor="middle" stroke="#000" stroke-width="0.3">6</text>
<g transform="translate(514,10) scale(0.042017)"><path fill-rule="evenodd" d="M412,185 C 498,185 544,250 541,335 C 536,470 430,616 304,616 C 216,616 167,545 167,452 C 167,320 282,185 412,185 Z M400,226 C 326,226 250,380 250,480 C 250,548 278,590 324,590 C 398,590 470,440 474,330 C 476,266 446,226 400,226 Z"/><path d="M686,214 L 698,226 C 650,290 598,370 562,440 C 534,500 522,548 536,574 C 550,594 590,560 624,500 L 642,508 C 608,590 560,624 512,618 C 470,612 452,572 462,508 C 474,452 504,400 542,352 C 582,302 630,247 660,224 Z"/></g>
<g transform="translate(580,4) scale(0.050505)"><path d="M410,100 L415,100 L415,560 C415,596 430,606 490,609 L490,625 L275,625 L275,609 C335,606 345,596 345,560 L345,192 C345,170 335,160 320,160 C305,160 285,170 268,180 L262,165 L400,100 Z"/></g>
<rect x="556.10" y="20.10" width="20.10" height="2.2"/><rect x="556.10" y="28.00" width="20.10" height="2.2"/>
<rect x="364.50" y="243.30" width="20.30" height="2.2"/><rect x="364.50" y="251.20" width="20.30" height="2.2"/>
<text class="t" y="258.3" font-size="39.5"><tspan x="397.5">2</tspan></text>
<g transform="translate(334.38,226.01) scale(0.05045)"><path d="M335,118 L205,140 L208,153 C240,148 262,150 261,170 L152,585 C143,625 160,650 192,650 C235,650 275,605 305,550 L293,543 C270,580 245,607 228,607 C218,607 218,598 222,580 Z"/></g>
<rect x="314.10" y="417.30" width="20.30" height="2.2"/><rect x="314.10" y="425.20" width="20.30" height="2.2"/>
<text class="t" y="432.3" font-size="39.5"><tspan x="348"></tspan></text>
<g transform="translate(283.98,400.01) scale(0.05045)"><path d="M335,118 L205,140 L208,153 C240,148 262,150 261,170 L152,585 C143,625 160,650 192,650 C235,650 275,605 305,550 L293,543 C270,580 245,607 228,607 C218,607 218,598 222,580 Z"/></g>
<g transform="translate(337.56,400.49) scale(0.0509)"><path d="M410,100 L415,100 L415,560 C415,596 430,606 490,609 L490,625 L275,625 L275,609 C335,606 345,596 345,560 L345,192 C345,170 335,160 320,160 C305,160 285,170 268,180 L262,165 L400,100 Z"/></g>
<rect x="263.50" y="530.30" width="20.30" height="2.2"/><rect x="263.50" y="538.20" width="20.30" height="2.2"/>
<text class="t" y="545.3" font-size="39.5"><tspan x="295.8">0</tspan></text>
<g transform="translate(233.38,513.01) scale(0.05045)"><path d="M335,118 L205,140 L208,153 C240,148 262,150 261,170 L152,585 C143,625 160,650 192,650 C235,650 275,605 305,550 L293,543 C270,580 245,607 228,607 C218,607 218,598 222,580 Z"/></g>
<g fill="none" stroke-width="2.6">
<path d="M634,181.5 H744.5" stroke="#0000ff" stroke-dasharray="11.2 10.94"/>
<path d="M635.6,233.5 H745" stroke="#ff0000" stroke-dasharray="3.1 10.5 11.5 10.9"/>
<path d="M634.1,285.65 H745.1" stroke="#000"/>
</g>
<text class="t" y="186.6" font-size="33" font-style="italic"><tspan x="751.5">S</tspan><tspan x="773.5" font-size="32.5" textLength="176.5" lengthAdjust="spacingAndGlyphs">chwarzschild</tspan></text>
<text class="t" y="239" font-size="33"><tspan x="753.5" font-style="italic">ℓ</tspan><tspan x="781.9" font-style="italic" textLength="27.7" lengthAdjust="spacingAndGlyphs">M</tspan><tspan x="850">0.3</tspan></text>
<path d="M770.7,244.3 L779.8,217" stroke="#000" stroke-width="1.7" fill="none"/>
<rect x="821.70" y="226.05" width="18.00" height="1.9"/><rect x="821.70" y="232.75" width="18.00" height="1.9"/>
<text class="t" y="291" font-size="33"><tspan x="753.5" font-style="italic">ℓ</tspan><tspan x="781.9" font-style="italic" textLength="27.7" lengthAdjust="spacingAndGlyphs">M</tspan><tspan x="850">0.4</tspan></text>
<path d="M770.7,296.3 L779.8,269" stroke="#000" stroke-width="1.7" fill="none"/>
<rect x="821.70" y="278.05" width="18.00" height="1.9"/><rect x="821.70" y="284.75" width="18.00" height="1.9"/>
<text class="t" y="698.9" font-size="31"><tspan x="538.3" font-style="italic" textLength="13.4" lengthAdjust="spacingAndGlyphs">r</tspan><tspan x="566.5" font-style="italic" textLength="13.4" lengthAdjust="spacingAndGlyphs">r</tspan></text>
<text class="t" x="579" y="704.1" font-size="22">h</text>
<path d="M554.2,704.6 L563.3,676.5" stroke="#000" stroke-width="1.7" fill="none"/>
<g transform="translate(31.2,370.0) rotate(-90)"><text class="t" font-size="33"><tspan x="0" y="0" font-style="italic">M</tspan><tspan x="41.5" y="0" font-style="italic">V</tspan></text><text class="t" x="29.2" y="-12.9" font-size="23.3">2</text><text class="t" x="61.9" y="5.2" font-size="23.5" font-style="italic">l</text></g>
</svg></body></html>
